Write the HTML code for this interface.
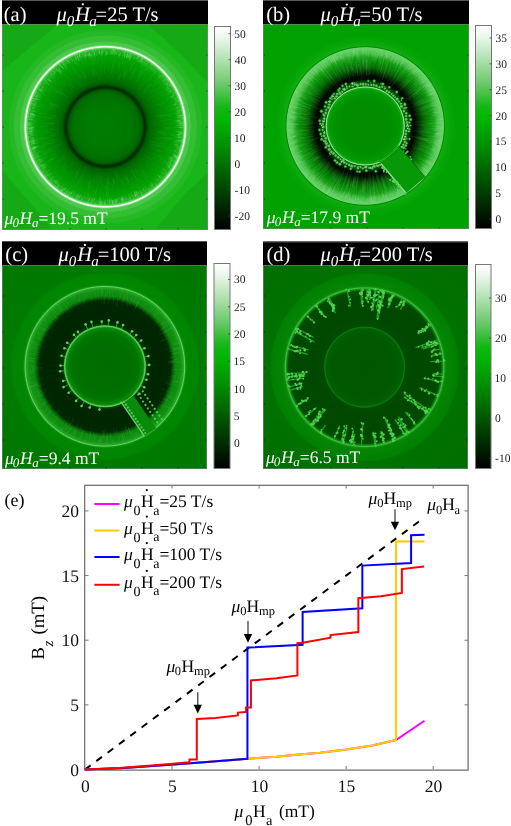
<!DOCTYPE html><html><head><meta charset="utf-8"><style>html,body{margin:0;padding:0;background:#fff;}body{width:511px;height:826px;position:relative;overflow:hidden;font-family:"Liberation Serif",serif;}</style></head><body><div style="position:absolute;left:0;top:0;width:511px;height:826px;will-change:transform;background:#fff">
<svg width="511" height="826" viewBox="0 0 511 826" style="position:absolute;left:0;top:0;font-family:'Liberation Serif',serif;text-rendering:geometricPrecision">
<defs>
<linearGradient id="cm" x1="0" y1="0" x2="0" y2="1"><stop offset="0" stop-color="#fff"/><stop offset="0.05" stop-color="#eef8ee"/><stop offset="0.16" stop-color="#b4e2b4"/><stop offset="0.29" stop-color="#68c868"/><stop offset="0.40" stop-color="#12b812"/><stop offset="0.46" stop-color="#00b600"/><stop offset="0.60" stop-color="#008c00"/><stop offset="0.80" stop-color="#004600"/><stop offset="1" stop-color="#000"/></linearGradient>
<clipPath id="clipa"><rect x="2" y="24" width="206" height="206"/></clipPath>
<radialGradient id="rga" gradientUnits="userSpaceOnUse" cx="105.4" cy="126.8" r="150"><stop offset="0.0000" stop-color="#007e00"/><stop offset="0.1667" stop-color="#007800"/><stop offset="0.2200" stop-color="#006e00"/><stop offset="0.2433" stop-color="#005f00"/><stop offset="0.2573" stop-color="#003700"/><stop offset="0.2640" stop-color="#002800"/><stop offset="0.2707" stop-color="#003a00"/><stop offset="0.2867" stop-color="#005f00"/><stop offset="0.3133" stop-color="#007000"/><stop offset="0.3467" stop-color="#007d00"/><stop offset="0.3867" stop-color="#008b00"/><stop offset="0.4333" stop-color="#009700"/><stop offset="0.4800" stop-color="#05a405"/><stop offset="0.5133" stop-color="#1cb21c"/><stop offset="0.5253" stop-color="#6ed76e"/><stop offset="0.5307" stop-color="#e4fce4"/><stop offset="0.5360" stop-color="#e4fce4"/><stop offset="0.5420" stop-color="#78d778"/><stop offset="0.5473" stop-color="#4bc84b"/><stop offset="0.5667" stop-color="#4bc84b"/><stop offset="0.5700" stop-color="#34be34"/><stop offset="0.6067" stop-color="#34be34"/><stop offset="0.6100" stop-color="#26b926"/><stop offset="0.6400" stop-color="#24b824"/><stop offset="0.6467" stop-color="#18b618"/><stop offset="1.0000" stop-color="#16b416"/></radialGradient>
<clipPath id="clipb"><rect x="263" y="24" width="206" height="205"/></clipPath>
<radialGradient id="rgb" gradientUnits="userSpaceOnUse" cx="365.2" cy="126" r="150"><stop offset="0.0000" stop-color="#008c00"/><stop offset="0.1867" stop-color="#008f00"/><stop offset="0.2400" stop-color="#009b00"/><stop offset="0.2553" stop-color="#19af19"/><stop offset="0.2600" stop-color="#6ed76e"/><stop offset="0.2653" stop-color="#0a780a"/><stop offset="0.2733" stop-color="#005f00"/><stop offset="0.2967" stop-color="#004600"/><stop offset="0.3100" stop-color="#000c00"/><stop offset="0.3333" stop-color="#000800"/><stop offset="0.3533" stop-color="#002800"/><stop offset="0.3867" stop-color="#005f00"/><stop offset="0.4267" stop-color="#008700"/><stop offset="0.4600" stop-color="#14a014"/><stop offset="0.4867" stop-color="#46be46"/><stop offset="0.5067" stop-color="#5fcd5f"/><stop offset="0.5220" stop-color="#69d469"/><stop offset="0.5280" stop-color="#058705"/><stop offset="0.5353" stop-color="#0fac0f"/><stop offset="0.5600" stop-color="#08a608"/><stop offset="0.6000" stop-color="#00a200"/><stop offset="1.0000" stop-color="#00a000"/></radialGradient>
<clipPath id="clipc"><rect x="2" y="265" width="205" height="204"/></clipPath>
<radialGradient id="rgc" gradientUnits="userSpaceOnUse" cx="104.9" cy="366.3" r="150"><stop offset="0.0000" stop-color="#006c00"/><stop offset="0.1667" stop-color="#006f00"/><stop offset="0.2267" stop-color="#007500"/><stop offset="0.2567" stop-color="#0a8a0a"/><stop offset="0.2687" stop-color="#46c846"/><stop offset="0.2767" stop-color="#004600"/><stop offset="0.2867" stop-color="#002a00"/><stop offset="0.3333" stop-color="#002600"/><stop offset="0.4000" stop-color="#002600"/><stop offset="0.4400" stop-color="#002a00"/><stop offset="0.4567" stop-color="#056405"/><stop offset="0.4700" stop-color="#0c870c"/><stop offset="0.5067" stop-color="#129112"/><stop offset="0.5253" stop-color="#28aa28"/><stop offset="0.5320" stop-color="#5fd45f"/><stop offset="0.5387" stop-color="#149614"/><stop offset="0.5467" stop-color="#038703"/><stop offset="0.6133" stop-color="#008500"/><stop offset="0.6333" stop-color="#007a00"/><stop offset="1.0000" stop-color="#007600"/></radialGradient>
<clipPath id="clipd"><rect x="263" y="265" width="205" height="204"/></clipPath>
<radialGradient id="rgd" gradientUnits="userSpaceOnUse" cx="364.6" cy="367.2" r="150"><stop offset="0.0000" stop-color="#005600"/><stop offset="0.2000" stop-color="#005800"/><stop offset="0.2533" stop-color="#005e00"/><stop offset="0.2667" stop-color="#056c05"/><stop offset="0.2733" stop-color="#004c00"/><stop offset="0.3333" stop-color="#004800"/><stop offset="0.4667" stop-color="#004800"/><stop offset="0.5067" stop-color="#004c00"/><stop offset="0.5200" stop-color="#148714"/><stop offset="0.5280" stop-color="#3cc33c"/><stop offset="0.5367" stop-color="#0f910f"/><stop offset="0.5467" stop-color="#058405"/><stop offset="0.6200" stop-color="#008000"/><stop offset="0.6333" stop-color="#007200"/><stop offset="1.0000" stop-color="#006d00"/></radialGradient>
</defs>
<rect x="2" y="0" width="206" height="24" fill="#000"/>
<rect x="2" y="0" width="206" height="1" fill="#555"/>
<g clip-path="url(#clipa)">
<rect x="2" y="24" width="206" height="206" fill="url(#rga)"/>
<polygon points="2,24 58,24 2,71" fill="#15aa15"/>
<path d="M147.8,24 L208,24 L208,83 Q184,56 147.8,24 Z" fill="#15aa15"/>
<polygon points="155,230 208,230 208,172.8 185.5,193.2" fill="#15aa15"/>
<polygon points="2,169.8 2,230 53,230" fill="#15aa15"/>
<g stroke="#e8ffe8" stroke-opacity="0.22" stroke-width="0.5"><line x1="31.9" y1="149.5" x2="36.4" y2="148.1"/><line x1="30.5" y1="143.2" x2="34.0" y2="142.5"/><line x1="136.0" y1="197.1" x2="134.5" y2="193.7"/><line x1="125.3" y1="55.0" x2="124.6" y2="57.5"/><line x1="171.3" y1="169.0" x2="168.0" y2="166.9"/><line x1="181.9" y1="147.4" x2="177.2" y2="146.1"/><line x1="61.5" y1="63.2" x2="62.7" y2="64.9"/><line x1="181.9" y1="134.0" x2="180.2" y2="133.9"/><line x1="133.0" y1="196.8" x2="132.4" y2="195.3"/><line x1="31.0" y1="144.0" x2="35.4" y2="143.0"/><line x1="28.6" y1="117.5" x2="31.8" y2="117.9"/><line x1="65.4" y1="61.7" x2="66.7" y2="63.8"/><line x1="184.7" y1="125.6" x2="180.2" y2="125.7"/><line x1="85.6" y1="53.8" x2="86.2" y2="56.0"/><line x1="87.3" y1="198.9" x2="88.4" y2="194.9"/><line x1="41.8" y1="172.8" x2="44.1" y2="171.1"/><line x1="181.2" y1="106.3" x2="179.7" y2="106.7"/><line x1="125.1" y1="203.1" x2="124.4" y2="200.1"/><line x1="180.9" y1="117.4" x2="179.2" y2="117.6"/><line x1="51.7" y1="70.0" x2="53.4" y2="71.8"/><line x1="170.1" y1="166.2" x2="165.9" y2="163.7"/><line x1="109.2" y1="52.3" x2="109.0" y2="54.6"/><line x1="165.2" y1="170.9" x2="161.8" y2="168.3"/><line x1="139.2" y1="196.0" x2="137.8" y2="193.2"/><line x1="133.8" y1="199.3" x2="133.0" y2="197.5"/><line x1="59.2" y1="68.2" x2="61.0" y2="70.5"/><line x1="122.8" y1="200.2" x2="121.7" y2="195.4"/><line x1="130.3" y1="55.4" x2="128.8" y2="59.7"/><line x1="124.0" y1="200.6" x2="122.9" y2="196.2"/><line x1="58.6" y1="68.8" x2="61.7" y2="72.7"/><line x1="122.7" y1="200.2" x2="121.7" y2="196.1"/><line x1="69.4" y1="193.3" x2="70.3" y2="191.7"/><line x1="170.5" y1="168.2" x2="168.5" y2="166.9"/><line x1="44.3" y1="81.7" x2="46.8" y2="83.5"/><line x1="179.5" y1="107.4" x2="176.1" y2="108.2"/><line x1="155.5" y1="71.0" x2="154.2" y2="72.6"/><line x1="171.1" y1="84.2" x2="169.1" y2="85.5"/><line x1="134.2" y1="199.2" x2="132.4" y2="194.8"/><line x1="131.4" y1="201.4" x2="129.9" y2="197.1"/><line x1="44.7" y1="80.6" x2="46.2" y2="81.8"/><line x1="182.2" y1="145.8" x2="179.9" y2="145.3"/><line x1="84.2" y1="54.5" x2="85.4" y2="58.7"/><line x1="43.3" y1="83.8" x2="45.0" y2="85.0"/><line x1="91.6" y1="53.7" x2="92.1" y2="56.0"/><line x1="32.3" y1="98.2" x2="35.7" y2="99.5"/><line x1="90.5" y1="204.2" x2="90.9" y2="202.1"/><line x1="180.4" y1="134.6" x2="177.4" y2="134.3"/><line x1="175.0" y1="154.6" x2="172.4" y2="153.5"/><line x1="38.3" y1="94.1" x2="40.7" y2="95.3"/><line x1="166.7" y1="76.7" x2="163.8" y2="79.1"/><line x1="77.6" y1="54.9" x2="78.3" y2="56.8"/><line x1="177.7" y1="143.0" x2="173.1" y2="142.0"/><line x1="81.4" y1="51.4" x2="81.9" y2="52.9"/><line x1="55.2" y1="69.0" x2="57.9" y2="72.1"/><line x1="72.1" y1="198.8" x2="72.9" y2="197.2"/><line x1="30.7" y1="104.6" x2="35.2" y2="105.9"/><line x1="99.1" y1="49.3" x2="99.4" y2="53.6"/><line x1="170.7" y1="88.2" x2="167.3" y2="90.2"/><line x1="169.2" y1="80.9" x2="166.8" y2="82.7"/><line x1="125.2" y1="50.8" x2="124.3" y2="54.1"/><line x1="51.6" y1="73.1" x2="54.1" y2="75.6"/><line x1="47.7" y1="79.8" x2="50.6" y2="82.1"/><line x1="184.0" y1="123.5" x2="179.9" y2="123.7"/><line x1="45.9" y1="177.0" x2="48.6" y2="174.8"/><line x1="32.4" y1="155.4" x2="34.0" y2="154.8"/><line x1="105.5" y1="52.6" x2="105.5" y2="56.2"/><line x1="30.7" y1="135.8" x2="34.6" y2="135.3"/><line x1="28.2" y1="128.1" x2="32.9" y2="128.1"/><line x1="102.7" y1="200.8" x2="102.8" y2="198.3"/><line x1="72.6" y1="59.3" x2="73.6" y2="61.1"/><line x1="169.7" y1="83.5" x2="167.2" y2="85.2"/><line x1="164.3" y1="79.2" x2="161.3" y2="81.6"/><line x1="129.7" y1="199.1" x2="128.3" y2="195.0"/><line x1="172.9" y1="86.4" x2="170.5" y2="87.9"/><line x1="39.8" y1="89.1" x2="41.5" y2="90.0"/><line x1="27.0" y1="128.5" x2="31.5" y2="128.4"/><line x1="86.3" y1="50.1" x2="86.9" y2="52.5"/><line x1="142.6" y1="193.5" x2="141.4" y2="191.4"/><line x1="122.5" y1="201.1" x2="121.6" y2="197.5"/><line x1="29.8" y1="129.7" x2="34.2" y2="129.5"/><line x1="181.3" y1="118.2" x2="179.6" y2="118.4"/><line x1="182.5" y1="142.3" x2="180.9" y2="141.9"/><line x1="85.6" y1="52.4" x2="86.3" y2="54.9"/><line x1="124.5" y1="55.2" x2="124.0" y2="57.1"/><line x1="34.2" y1="147.6" x2="38.5" y2="146.3"/><line x1="111.3" y1="201.3" x2="111.2" y2="199.7"/><line x1="52.8" y1="71.4" x2="55.4" y2="74.1"/><line x1="61.4" y1="62.0" x2="64.1" y2="66.1"/><line x1="75.4" y1="58.0" x2="76.6" y2="60.9"/><line x1="137.5" y1="193.5" x2="136.1" y2="190.7"/><line x1="88.7" y1="53.7" x2="89.2" y2="56.1"/><line x1="61.4" y1="190.9" x2="63.3" y2="188.1"/><line x1="46.7" y1="75.4" x2="48.9" y2="77.3"/><line x1="125.9" y1="50.7" x2="125.5" y2="52.5"/><line x1="176.4" y1="94.8" x2="174.6" y2="95.6"/><line x1="31.4" y1="149.1" x2="35.8" y2="147.7"/><line x1="50.3" y1="180.6" x2="53.6" y2="177.4"/><line x1="128.3" y1="51.2" x2="127.4" y2="54.2"/><line x1="61.8" y1="65.7" x2="64.1" y2="69.0"/><line x1="137.6" y1="56.4" x2="136.0" y2="60.1"/><line x1="123.4" y1="203.5" x2="122.3" y2="198.7"/><line x1="181.5" y1="115.9" x2="177.2" y2="116.5"/><line x1="71.7" y1="198.0" x2="73.6" y2="194.0"/><line x1="62.2" y1="187.4" x2="64.0" y2="185.0"/><line x1="31.2" y1="102.5" x2="34.2" y2="103.5"/><line x1="182.4" y1="140.7" x2="180.7" y2="140.4"/><line x1="128.5" y1="55.5" x2="127.7" y2="58.1"/><line x1="123.0" y1="54.2" x2="122.6" y2="56.1"/><line x1="28.0" y1="118.7" x2="32.4" y2="119.2"/><line x1="76.0" y1="53.5" x2="77.2" y2="56.4"/><line x1="176.1" y1="103.4" x2="173.9" y2="104.1"/><line x1="30.9" y1="114.2" x2="34.9" y2="114.9"/><line x1="56.0" y1="68.0" x2="58.9" y2="71.4"/><line x1="35.1" y1="99.0" x2="37.7" y2="100.0"/><line x1="149.8" y1="61.7" x2="148.5" y2="63.6"/><line x1="152.2" y1="63.0" x2="150.2" y2="65.7"/><line x1="38.1" y1="93.6" x2="41.1" y2="95.1"/><line x1="28.2" y1="125.3" x2="29.8" y2="125.3"/><line x1="180.7" y1="112.1" x2="177.9" y2="112.7"/><line x1="129.7" y1="53.7" x2="128.7" y2="56.8"/><line x1="78.5" y1="57.5" x2="79.7" y2="60.7"/><line x1="37.7" y1="167.6" x2="41.7" y2="165.1"/><line x1="96.2" y1="202.8" x2="96.4" y2="200.8"/><line x1="33.8" y1="158.5" x2="38.0" y2="156.6"/><line x1="30.5" y1="137.9" x2="32.7" y2="137.6"/><line x1="47.2" y1="73.6" x2="48.6" y2="74.9"/><line x1="119.0" y1="53.9" x2="118.6" y2="56.1"/><line x1="116.5" y1="203.7" x2="116.1" y2="201.0"/><line x1="57.9" y1="187.8" x2="59.0" y2="186.3"/><line x1="96.5" y1="52.7" x2="96.9" y2="55.9"/><line x1="105.1" y1="201.8" x2="105.2" y2="198.5"/><line x1="35.3" y1="156.2" x2="38.0" y2="155.1"/><line x1="31.8" y1="113.1" x2="34.0" y2="113.5"/><line x1="52.9" y1="70.0" x2="55.2" y2="72.4"/><line x1="151.3" y1="64.7" x2="148.6" y2="68.3"/><line x1="113.9" y1="204.3" x2="113.4" y2="200.0"/><line x1="167.4" y1="83.4" x2="165.2" y2="84.9"/><line x1="171.9" y1="91.7" x2="167.5" y2="94.1"/><line x1="162.2" y1="78.3" x2="160.4" y2="79.8"/><line x1="94.3" y1="52.2" x2="94.6" y2="54.1"/><line x1="143.0" y1="60.5" x2="140.9" y2="64.2"/><line x1="158.9" y1="181.0" x2="156.2" y2="178.2"/><line x1="180.0" y1="135.2" x2="176.1" y2="134.7"/><line x1="172.6" y1="85.0" x2="171.0" y2="86.0"/><line x1="27.4" y1="124.0" x2="30.7" y2="124.1"/><line x1="75.9" y1="57.8" x2="76.6" y2="59.4"/><line x1="163.7" y1="172.7" x2="161.0" y2="170.6"/><line x1="28.7" y1="119.6" x2="30.7" y2="119.8"/><line x1="135.4" y1="195.6" x2="133.6" y2="191.5"/><line x1="184.2" y1="122.0" x2="182.3" y2="122.1"/><line x1="178.5" y1="156.8" x2="175.6" y2="155.6"/><line x1="112.4" y1="51.4" x2="112.1" y2="54.5"/><line x1="29.5" y1="119.5" x2="33.1" y2="119.8"/><line x1="182.8" y1="133.3" x2="178.4" y2="132.9"/><line x1="137.4" y1="196.2" x2="135.7" y2="192.5"/><line x1="43.3" y1="168.9" x2="45.0" y2="167.7"/><line x1="31.5" y1="121.0" x2="36.2" y2="121.3"/><line x1="130.2" y1="53.1" x2="128.8" y2="57.4"/><line x1="53.1" y1="71.5" x2="55.5" y2="74.1"/><line x1="26.2" y1="124.7" x2="30.5" y2="124.8"/><line x1="101.3" y1="205.5" x2="101.5" y2="201.4"/><line x1="119.1" y1="49.7" x2="118.6" y2="52.6"/><line x1="168.0" y1="79.2" x2="164.9" y2="81.6"/><line x1="113.9" y1="49.2" x2="113.5" y2="52.1"/><line x1="92.7" y1="53.5" x2="93.1" y2="56.2"/><line x1="32.8" y1="141.2" x2="35.5" y2="140.7"/><line x1="55.6" y1="67.6" x2="57.1" y2="69.4"/><line x1="178.3" y1="100.4" x2="175.8" y2="101.3"/><line x1="64.0" y1="61.8" x2="65.8" y2="64.7"/><line x1="44.4" y1="177.5" x2="47.3" y2="175.1"/><line x1="81.9" y1="52.4" x2="83.4" y2="57.1"/><line x1="181.9" y1="137.8" x2="177.8" y2="137.3"/><line x1="102.2" y1="202.9" x2="102.3" y2="201.2"/><line x1="130.9" y1="198.4" x2="130.3" y2="196.6"/><line x1="105.0" y1="205.6" x2="105.0" y2="202.2"/><line x1="26.4" y1="122.9" x2="29.9" y2="123.1"/><line x1="182.7" y1="124.4" x2="178.4" y2="124.6"/><line x1="173.9" y1="162.3" x2="170.2" y2="160.4"/><line x1="181.2" y1="148.9" x2="179.2" y2="148.3"/><line x1="31.7" y1="140.0" x2="34.9" y2="139.4"/><line x1="48.5" y1="79.0" x2="52.2" y2="82.1"/><line x1="37.9" y1="163.5" x2="41.1" y2="161.8"/><line x1="55.3" y1="183.3" x2="57.8" y2="180.4"/><line x1="35.3" y1="98.7" x2="39.0" y2="100.2"/><line x1="84.3" y1="197.8" x2="84.9" y2="195.5"/><line x1="177.5" y1="146.7" x2="173.6" y2="145.6"/><line x1="44.7" y1="177.0" x2="47.9" y2="174.4"/><line x1="180.7" y1="151.4" x2="176.2" y2="149.9"/><line x1="175.9" y1="161.9" x2="173.3" y2="160.6"/><line x1="27.0" y1="137.9" x2="29.4" y2="137.6"/><line x1="27.3" y1="115.3" x2="31.3" y2="115.8"/><line x1="27.8" y1="142.4" x2="32.0" y2="141.6"/><line x1="46.1" y1="81.6" x2="49.0" y2="83.8"/><line x1="33.2" y1="147.4" x2="34.8" y2="147.0"/><line x1="31.9" y1="113.7" x2="34.9" y2="114.2"/><line x1="67.7" y1="60.3" x2="68.9" y2="62.4"/><line x1="39.1" y1="89.1" x2="42.8" y2="91.2"/><line x1="27.6" y1="111.6" x2="32.3" y2="112.5"/><line x1="98.0" y1="51.9" x2="98.2" y2="53.8"/><line x1="166.5" y1="78.0" x2="163.6" y2="80.3"/><line x1="57.6" y1="185.2" x2="60.1" y2="182.2"/><line x1="34.6" y1="96.2" x2="38.0" y2="97.7"/><line x1="107.0" y1="51.8" x2="106.9" y2="54.2"/><line x1="183.6" y1="116.8" x2="179.1" y2="117.4"/><line x1="177.4" y1="145.1" x2="175.1" y2="144.5"/><line x1="36.5" y1="161.8" x2="38.1" y2="161.0"/><line x1="33.5" y1="107.6" x2="35.3" y2="108.0"/><line x1="71.0" y1="58.0" x2="72.7" y2="61.3"/><line x1="51.9" y1="181.5" x2="53.5" y2="179.9"/><line x1="62.1" y1="191.6" x2="64.6" y2="187.9"/><line x1="172.0" y1="160.4" x2="168.2" y2="158.5"/><line x1="49.8" y1="72.0" x2="51.4" y2="73.6"/><line x1="38.4" y1="161.3" x2="42.2" y2="159.3"/><line x1="52.7" y1="183.6" x2="56.1" y2="180.0"/><line x1="70.3" y1="195.2" x2="72.2" y2="191.6"/><line x1="172.4" y1="90.4" x2="170.0" y2="91.7"/><line x1="169.9" y1="171.8" x2="168.4" y2="170.8"/><line x1="172.2" y1="165.2" x2="169.4" y2="163.6"/><line x1="75.5" y1="57.4" x2="77.2" y2="61.2"/><line x1="172.1" y1="161.4" x2="168.7" y2="159.6"/><line x1="171.3" y1="163.9" x2="167.7" y2="162.0"/><line x1="79.4" y1="55.9" x2="80.1" y2="57.8"/><line x1="56.6" y1="187.5" x2="58.4" y2="185.3"/><line x1="163.0" y1="179.1" x2="160.4" y2="176.7"/><line x1="174.3" y1="88.1" x2="170.2" y2="90.4"/><line x1="33.0" y1="156.5" x2="35.4" y2="155.5"/><line x1="74.0" y1="196.2" x2="76.0" y2="191.8"/><line x1="164.8" y1="80.5" x2="162.6" y2="82.2"/><line x1="55.0" y1="183.6" x2="56.9" y2="181.4"/><line x1="48.3" y1="175.5" x2="51.0" y2="173.2"/><line x1="127.8" y1="53.3" x2="126.5" y2="57.5"/><line x1="36.2" y1="98.0" x2="40.1" y2="99.6"/><line x1="160.7" y1="75.4" x2="159.6" y2="76.5"/><line x1="28.9" y1="119.3" x2="32.4" y2="119.6"/><line x1="181.1" y1="110.6" x2="176.9" y2="111.5"/><line x1="176.2" y1="156.9" x2="172.2" y2="155.3"/><line x1="169.7" y1="164.3" x2="166.2" y2="162.2"/><line x1="165.4" y1="82.7" x2="162.4" y2="84.9"/><line x1="153.6" y1="188.1" x2="151.3" y2="185.1"/><line x1="107.5" y1="201.9" x2="107.4" y2="197.8"/><line x1="28.1" y1="116.3" x2="30.9" y2="116.7"/><line x1="63.9" y1="194.2" x2="65.9" y2="190.9"/><line x1="28.6" y1="129.9" x2="32.6" y2="129.7"/><line x1="84.9" y1="50.7" x2="85.7" y2="53.5"/><line x1="141.1" y1="58.0" x2="139.1" y2="62.0"/><line x1="132.4" y1="53.2" x2="130.8" y2="57.5"/><line x1="180.1" y1="106.5" x2="176.9" y2="107.4"/><line x1="86.0" y1="51.0" x2="86.7" y2="53.9"/><line x1="39.8" y1="162.6" x2="43.4" y2="160.7"/><line x1="181.3" y1="122.5" x2="179.2" y2="122.6"/><line x1="127.0" y1="199.9" x2="126.3" y2="197.5"/><line x1="178.4" y1="112.8" x2="175.8" y2="113.3"/><line x1="163.5" y1="177.9" x2="160.4" y2="175.2"/><line x1="137.3" y1="193.9" x2="136.0" y2="191.1"/><line x1="37.3" y1="87.1" x2="38.7" y2="87.9"/><line x1="163.6" y1="174.1" x2="161.8" y2="172.7"/><line x1="112.5" y1="204.3" x2="112.2" y2="200.7"/><line x1="117.6" y1="200.8" x2="117.2" y2="198.3"/><line x1="141.9" y1="195.7" x2="140.7" y2="193.5"/><line x1="30.6" y1="103.4" x2="33.7" y2="104.4"/><line x1="100.2" y1="205.3" x2="100.5" y2="200.6"/><line x1="63.4" y1="191.2" x2="66.0" y2="187.1"/><line x1="30.7" y1="135.0" x2="32.3" y2="134.8"/><line x1="179.4" y1="101.5" x2="176.7" y2="102.4"/><line x1="29.8" y1="113.6" x2="32.2" y2="114.0"/><line x1="182.7" y1="122.1" x2="180.4" y2="122.2"/><line x1="181.7" y1="132.0" x2="178.9" y2="131.8"/><line x1="127.9" y1="52.4" x2="126.9" y2="55.8"/><line x1="146.6" y1="189.3" x2="145.1" y2="187.1"/><line x1="100.7" y1="205.3" x2="100.9" y2="202.0"/><line x1="53.7" y1="66.7" x2="55.3" y2="68.5"/><line x1="32.4" y1="110.7" x2="36.5" y2="111.6"/><line x1="183.8" y1="127.5" x2="179.3" y2="127.4"/><line x1="138.0" y1="59.9" x2="136.9" y2="62.1"/><line x1="89.8" y1="53.9" x2="90.5" y2="57.0"/><line x1="27.9" y1="142.3" x2="31.3" y2="141.6"/><line x1="152.6" y1="67.7" x2="150.0" y2="71.1"/><line x1="37.0" y1="166.1" x2="38.6" y2="165.2"/><line x1="140.1" y1="60.2" x2="138.5" y2="63.2"/><line x1="31.5" y1="114.8" x2="35.9" y2="115.5"/><line x1="76.9" y1="196.9" x2="77.6" y2="195.2"/><line x1="79.2" y1="198.6" x2="80.6" y2="194.9"/><line x1="56.0" y1="186.7" x2="57.2" y2="185.3"/><line x1="45.2" y1="173.9" x2="49.1" y2="170.9"/><line x1="142.6" y1="58.9" x2="141.9" y2="60.2"/><line x1="49.7" y1="181.0" x2="51.4" y2="179.4"/><line x1="35.1" y1="96.8" x2="36.5" y2="97.4"/><line x1="183.5" y1="122.7" x2="181.3" y2="122.8"/><line x1="49.1" y1="76.5" x2="51.2" y2="78.3"/><line x1="32.2" y1="108.1" x2="34.8" y2="108.8"/><line x1="45.0" y1="175.4" x2="46.9" y2="173.9"/><line x1="129.5" y1="200.9" x2="128.7" y2="198.3"/><line x1="177.8" y1="100.7" x2="174.0" y2="102.1"/><line x1="66.9" y1="195.1" x2="67.8" y2="193.5"/><line x1="152.6" y1="184.4" x2="150.1" y2="181.5"/><line x1="86.0" y1="54.4" x2="86.7" y2="57.2"/><line x1="145.5" y1="60.9" x2="144.5" y2="62.4"/><line x1="116.4" y1="200.8" x2="116.1" y2="198.9"/><line x1="43.4" y1="167.9" x2="47.3" y2="165.3"/><line x1="36.6" y1="160.8" x2="40.0" y2="159.1"/><line x1="113.7" y1="48.9" x2="113.4" y2="51.7"/><line x1="68.1" y1="193.2" x2="68.9" y2="191.9"/><line x1="42.3" y1="172.2" x2="46.3" y2="169.3"/><line x1="124.5" y1="51.7" x2="123.6" y2="55.2"/><line x1="180.6" y1="135.6" x2="178.0" y2="135.3"/><line x1="61.8" y1="66.3" x2="63.5" y2="68.6"/><line x1="27.4" y1="122.2" x2="31.7" y2="122.5"/><line x1="48.2" y1="78.6" x2="51.4" y2="81.3"/><line x1="168.5" y1="82.8" x2="166.2" y2="84.3"/><line x1="30.6" y1="126.6" x2="34.6" y2="126.6"/><line x1="181.9" y1="120.4" x2="177.9" y2="120.8"/><line x1="143.8" y1="62.3" x2="141.4" y2="66.5"/><line x1="53.0" y1="73.0" x2="54.3" y2="74.3"/><line x1="108.0" y1="203.8" x2="107.9" y2="199.9"/><line x1="67.7" y1="196.2" x2="69.1" y2="193.7"/><line x1="32.7" y1="144.0" x2="37.5" y2="142.9"/><line x1="157.3" y1="186.1" x2="155.0" y2="183.5"/><line x1="34.0" y1="98.1" x2="36.2" y2="99.0"/><line x1="172.1" y1="84.1" x2="168.5" y2="86.4"/><line x1="45.4" y1="82.4" x2="48.9" y2="85.0"/><line x1="86.5" y1="203.3" x2="87.1" y2="201.0"/><line x1="35.2" y1="91.8" x2="37.2" y2="92.8"/><line x1="34.3" y1="104.8" x2="35.9" y2="105.2"/><line x1="139.1" y1="198.5" x2="137.1" y2="194.2"/><line x1="64.2" y1="63.4" x2="66.3" y2="66.6"/><line x1="99.5" y1="51.0" x2="99.8" y2="54.6"/><line x1="130.0" y1="56.9" x2="129.2" y2="59.0"/><line x1="32.1" y1="141.7" x2="34.9" y2="141.1"/><line x1="37.5" y1="95.1" x2="40.5" y2="96.5"/><line x1="98.8" y1="203.5" x2="99.0" y2="200.9"/><line x1="58.7" y1="69.1" x2="61.1" y2="72.1"/><line x1="154.0" y1="189.2" x2="151.8" y2="186.4"/><line x1="30.6" y1="141.1" x2="34.2" y2="140.4"/><line x1="76.4" y1="54.4" x2="77.9" y2="58.2"/><line x1="26.4" y1="133.9" x2="30.9" y2="133.5"/><line x1="152.1" y1="66.6" x2="150.3" y2="69.0"/><line x1="33.3" y1="95.1" x2="36.3" y2="96.4"/><line x1="30.0" y1="114.9" x2="34.7" y2="115.6"/><line x1="73.5" y1="193.9" x2="75.2" y2="190.2"/><line x1="168.4" y1="81.1" x2="165.5" y2="83.2"/><line x1="106.3" y1="51.2" x2="106.3" y2="54.8"/><line x1="173.0" y1="158.5" x2="170.2" y2="157.2"/><line x1="29.3" y1="125.5" x2="31.0" y2="125.6"/><line x1="79.3" y1="54.6" x2="80.1" y2="56.8"/><line x1="79.0" y1="198.2" x2="79.8" y2="196.0"/><line x1="177.1" y1="159.7" x2="172.6" y2="157.6"/><line x1="65.7" y1="59.0" x2="67.2" y2="61.5"/><line x1="131.0" y1="56.1" x2="129.6" y2="60.0"/><line x1="33.5" y1="94.7" x2="35.1" y2="95.4"/><line x1="125.0" y1="54.8" x2="124.1" y2="58.0"/><line x1="175.9" y1="104.4" x2="173.7" y2="105.1"/><line x1="82.3" y1="198.9" x2="82.9" y2="197.3"/><line x1="167.3" y1="78.8" x2="165.0" y2="80.6"/><line x1="57.6" y1="187.3" x2="58.6" y2="186.0"/><line x1="182.7" y1="142.1" x2="180.1" y2="141.6"/><line x1="26.5" y1="127.6" x2="31.4" y2="127.5"/><line x1="31.4" y1="139.6" x2="33.9" y2="139.2"/><line x1="175.0" y1="90.0" x2="173.1" y2="91.0"/><line x1="145.2" y1="62.2" x2="143.6" y2="64.9"/><line x1="142.5" y1="196.2" x2="140.1" y2="191.8"/><line x1="128.4" y1="200.7" x2="127.7" y2="198.6"/><line x1="159.6" y1="76.0" x2="158.2" y2="77.3"/><line x1="93.9" y1="52.0" x2="94.6" y2="56.6"/><line x1="158.5" y1="70.0" x2="157.2" y2="71.4"/><line x1="79.1" y1="52.3" x2="80.1" y2="55.2"/><line x1="171.5" y1="162.6" x2="169.2" y2="161.4"/><line x1="87.0" y1="54.1" x2="87.5" y2="56.1"/><line x1="112.5" y1="204.0" x2="112.1" y2="199.7"/><line x1="51.5" y1="182.5" x2="54.7" y2="179.2"/><line x1="41.9" y1="86.5" x2="44.0" y2="87.9"/><line x1="174.9" y1="92.4" x2="172.7" y2="93.5"/><line x1="57.9" y1="69.4" x2="61.1" y2="73.2"/><line x1="33.9" y1="154.9" x2="37.1" y2="153.7"/><line x1="179.5" y1="148.5" x2="177.1" y2="147.8"/><line x1="105.0" y1="205.1" x2="105.0" y2="203.3"/><line x1="88.3" y1="202.9" x2="88.8" y2="200.6"/><line x1="91.4" y1="202.4" x2="91.8" y2="200.3"/><line x1="168.6" y1="79.0" x2="167.3" y2="80.0"/><line x1="29.7" y1="145.4" x2="32.4" y2="144.7"/><line x1="174.6" y1="93.8" x2="172.7" y2="94.8"/><line x1="32.7" y1="100.1" x2="35.3" y2="101.1"/><line x1="62.8" y1="61.3" x2="64.6" y2="64.1"/><line x1="27.0" y1="124.0" x2="30.9" y2="124.2"/><line x1="27.0" y1="116.6" x2="29.1" y2="116.9"/><line x1="119.3" y1="53.2" x2="118.6" y2="56.8"/><line x1="112.4" y1="202.8" x2="112.0" y2="198.6"/><line x1="123.2" y1="50.7" x2="122.7" y2="52.9"/><line x1="30.4" y1="131.9" x2="33.9" y2="131.7"/><line x1="31.2" y1="127.3" x2="34.8" y2="127.3"/><line x1="88.5" y1="51.6" x2="89.5" y2="56.1"/><line x1="137.2" y1="194.5" x2="136.6" y2="193.1"/><line x1="29.1" y1="128.7" x2="32.2" y2="128.6"/><line x1="99.0" y1="204.8" x2="99.2" y2="203.0"/><line x1="169.7" y1="84.4" x2="166.9" y2="86.3"/><line x1="124.9" y1="54.1" x2="124.3" y2="56.0"/><line x1="77.6" y1="195.6" x2="78.6" y2="193.2"/><line x1="49.8" y1="73.8" x2="51.6" y2="75.5"/><line x1="42.2" y1="87.4" x2="45.9" y2="89.7"/><line x1="141.0" y1="193.2" x2="140.1" y2="191.4"/><line x1="76.8" y1="53.8" x2="78.4" y2="57.7"/><line x1="176.0" y1="155.3" x2="173.5" y2="154.3"/><line x1="122.0" y1="204.2" x2="121.7" y2="202.6"/><line x1="27.5" y1="131.9" x2="32.5" y2="131.6"/><line x1="152.4" y1="187.1" x2="149.9" y2="183.8"/><line x1="178.4" y1="145.2" x2="173.9" y2="144.0"/><line x1="153.3" y1="185.9" x2="151.7" y2="183.9"/><line x1="39.2" y1="160.8" x2="40.7" y2="160.1"/><line x1="183.4" y1="124.9" x2="179.4" y2="125.0"/><line x1="114.9" y1="201.5" x2="114.5" y2="198.1"/><line x1="109.4" y1="203.1" x2="109.1" y2="198.4"/><line x1="55.6" y1="184.0" x2="58.9" y2="180.2"/><line x1="48.5" y1="79.2" x2="50.7" y2="81.0"/><line x1="61.6" y1="66.7" x2="63.2" y2="68.9"/><line x1="78.6" y1="52.9" x2="79.8" y2="56.3"/><line x1="163.2" y1="76.7" x2="161.0" y2="78.6"/><line x1="147.4" y1="63.4" x2="145.0" y2="66.9"/><line x1="121.8" y1="200.9" x2="121.3" y2="198.8"/><line x1="34.1" y1="103.9" x2="36.2" y2="104.5"/><line x1="122.3" y1="201.4" x2="121.8" y2="198.9"/><line x1="30.5" y1="152.7" x2="34.1" y2="151.4"/><line x1="154.2" y1="69.8" x2="152.4" y2="71.9"/><line x1="175.1" y1="161.1" x2="172.6" y2="159.9"/><line x1="94.0" y1="200.0" x2="94.4" y2="197.9"/><line x1="99.5" y1="202.7" x2="99.9" y2="197.9"/><line x1="89.0" y1="53.2" x2="89.6" y2="55.9"/><line x1="150.4" y1="191.7" x2="148.8" y2="189.4"/><line x1="113.1" y1="49.3" x2="112.6" y2="54.0"/><line x1="180.5" y1="136.5" x2="177.7" y2="136.1"/><line x1="173.6" y1="166.1" x2="171.3" y2="164.8"/><line x1="115.4" y1="50.7" x2="115.1" y2="52.4"/><line x1="46.2" y1="173.3" x2="47.5" y2="172.3"/><line x1="150.4" y1="189.5" x2="149.5" y2="188.2"/><line x1="76.3" y1="197.3" x2="77.6" y2="194.1"/><line x1="156.4" y1="185.4" x2="154.9" y2="183.6"/><line x1="93.5" y1="50.2" x2="93.8" y2="52.2"/><line x1="126.5" y1="199.3" x2="125.4" y2="195.4"/><line x1="42.4" y1="169.4" x2="46.2" y2="166.9"/><line x1="116.7" y1="201.5" x2="116.3" y2="198.8"/><line x1="121.2" y1="199.3" x2="120.9" y2="197.8"/><line x1="52.8" y1="70.5" x2="55.8" y2="73.7"/><line x1="180.1" y1="115.3" x2="176.3" y2="115.8"/><line x1="171.0" y1="90.2" x2="167.6" y2="92.1"/><line x1="65.8" y1="58.3" x2="68.1" y2="62.3"/><line x1="112.9" y1="203.8" x2="112.7" y2="202.0"/><line x1="37.0" y1="160.2" x2="38.6" y2="159.4"/><line x1="49.1" y1="177.5" x2="51.5" y2="175.3"/><line x1="91.5" y1="200.3" x2="92.0" y2="197.5"/><line x1="31.4" y1="138.4" x2="35.2" y2="137.8"/><line x1="110.2" y1="201.1" x2="110.0" y2="198.4"/><line x1="39.3" y1="161.9" x2="42.5" y2="160.2"/><line x1="82.3" y1="53.4" x2="83.4" y2="57.2"/><line x1="180.7" y1="137.8" x2="177.9" y2="137.4"/><line x1="175.7" y1="156.1" x2="174.1" y2="155.5"/><line x1="28.3" y1="129.0" x2="31.5" y2="128.9"/><line x1="71.0" y1="193.8" x2="71.7" y2="192.4"/><line x1="60.3" y1="191.3" x2="62.3" y2="188.5"/><line x1="99.6" y1="204.1" x2="99.8" y2="202.0"/><line x1="29.6" y1="141.6" x2="34.3" y2="140.7"/><line x1="55.3" y1="185.4" x2="58.4" y2="181.7"/><line x1="115.8" y1="50.2" x2="115.3" y2="53.8"/><line x1="40.8" y1="167.2" x2="42.9" y2="165.9"/><line x1="143.1" y1="57.8" x2="141.8" y2="60.3"/><line x1="168.0" y1="86.9" x2="166.3" y2="88.0"/><line x1="29.8" y1="123.4" x2="32.6" y2="123.6"/><line x1="179.4" y1="116.0" x2="177.3" y2="116.3"/><line x1="115.9" y1="203.7" x2="115.5" y2="201.4"/><line x1="182.3" y1="127.2" x2="179.4" y2="127.2"/><line x1="110.5" y1="203.2" x2="110.3" y2="199.5"/><line x1="31.6" y1="103.8" x2="34.9" y2="104.8"/><line x1="144.0" y1="57.7" x2="142.7" y2="60.0"/><line x1="60.5" y1="191.4" x2="62.0" y2="189.3"/><line x1="88.9" y1="50.9" x2="89.7" y2="54.7"/><line x1="181.8" y1="109.2" x2="179.8" y2="109.6"/><line x1="50.1" y1="73.8" x2="52.6" y2="76.2"/><line x1="53.9" y1="182.0" x2="56.7" y2="179.0"/><line x1="31.9" y1="110.9" x2="34.2" y2="111.4"/><line x1="71.4" y1="193.6" x2="72.9" y2="190.6"/><line x1="157.6" y1="179.7" x2="156.4" y2="178.5"/><line x1="167.6" y1="173.4" x2="166.1" y2="172.2"/><line x1="30.9" y1="150.2" x2="33.9" y2="149.2"/><line x1="146.4" y1="193.8" x2="144.1" y2="190.0"/><line x1="176.5" y1="151.6" x2="173.4" y2="150.5"/><line x1="127.3" y1="53.9" x2="126.1" y2="57.8"/><line x1="104.5" y1="204.6" x2="104.5" y2="201.9"/><line x1="66.2" y1="194.2" x2="68.4" y2="190.4"/><line x1="141.9" y1="59.0" x2="140.5" y2="61.6"/><line x1="84.7" y1="52.3" x2="85.9" y2="56.6"/><line x1="129.0" y1="56.0" x2="128.1" y2="58.6"/><line x1="68.9" y1="61.0" x2="69.9" y2="62.9"/><line x1="182.2" y1="133.4" x2="177.4" y2="133.0"/><line x1="178.8" y1="113.0" x2="175.0" y2="113.7"/><line x1="37.8" y1="164.4" x2="40.3" y2="163.0"/><line x1="177.8" y1="94.6" x2="176.3" y2="95.3"/><line x1="88.3" y1="54.2" x2="88.7" y2="55.8"/><line x1="87.9" y1="202.7" x2="89.0" y2="197.8"/><line x1="160.6" y1="178.7" x2="159.4" y2="177.6"/><line x1="31.6" y1="106.6" x2="34.3" y2="107.3"/><line x1="77.0" y1="199.7" x2="78.6" y2="195.6"/><line x1="89.4" y1="201.2" x2="90.2" y2="197.6"/><line x1="113.0" y1="48.0" x2="112.8" y2="50.8"/><line x1="78.9" y1="54.6" x2="80.4" y2="58.6"/><line x1="150.6" y1="186.5" x2="149.5" y2="185.1"/><line x1="174.3" y1="96.3" x2="171.3" y2="97.6"/><line x1="160.5" y1="178.8" x2="159.3" y2="177.7"/><line x1="37.0" y1="96.7" x2="40.3" y2="98.2"/><line x1="94.1" y1="201.2" x2="94.6" y2="198.0"/><line x1="55.3" y1="183.1" x2="56.4" y2="181.8"/><line x1="177.8" y1="157.8" x2="175.4" y2="156.8"/><line x1="171.4" y1="162.3" x2="168.6" y2="160.8"/><line x1="180.5" y1="125.5" x2="175.9" y2="125.5"/><line x1="29.6" y1="134.3" x2="33.9" y2="133.9"/><line x1="46.4" y1="172.0" x2="49.1" y2="169.9"/><line x1="62.7" y1="62.4" x2="64.1" y2="64.4"/><line x1="178.3" y1="97.4" x2="173.6" y2="99.2"/><line x1="31.9" y1="154.2" x2="35.7" y2="152.8"/><line x1="138.7" y1="193.0" x2="137.8" y2="191.2"/><line x1="160.0" y1="177.3" x2="158.0" y2="175.4"/><line x1="107.1" y1="51.2" x2="107.0" y2="54.5"/><line x1="180.4" y1="131.7" x2="175.5" y2="131.4"/><line x1="182.0" y1="132.1" x2="177.7" y2="131.8"/><line x1="125.9" y1="51.6" x2="125.1" y2="54.4"/><line x1="131.1" y1="52.7" x2="129.7" y2="56.7"/><line x1="179.6" y1="120.2" x2="174.8" y2="120.7"/><line x1="41.9" y1="171.6" x2="43.8" y2="170.2"/><line x1="167.9" y1="86.9" x2="164.9" y2="88.8"/><line x1="116.2" y1="202.1" x2="115.8" y2="199.3"/><line x1="62.2" y1="61.5" x2="63.7" y2="63.8"/><line x1="56.3" y1="68.9" x2="57.9" y2="70.8"/><line x1="168.1" y1="84.3" x2="166.5" y2="85.3"/><line x1="65.8" y1="193.9" x2="67.0" y2="192.0"/><line x1="102.1" y1="50.0" x2="102.3" y2="53.9"/><line x1="138.3" y1="193.7" x2="137.4" y2="191.9"/><line x1="60.4" y1="188.4" x2="61.3" y2="187.2"/><line x1="29.3" y1="125.6" x2="31.9" y2="125.6"/><line x1="28.5" y1="108.5" x2="30.7" y2="109.0"/><line x1="160.7" y1="75.1" x2="157.7" y2="78.0"/><line x1="167.0" y1="176.7" x2="164.6" y2="174.8"/><line x1="178.5" y1="109.3" x2="175.7" y2="110.0"/><line x1="85.0" y1="54.7" x2="85.6" y2="57.1"/><line x1="70.5" y1="55.9" x2="71.7" y2="58.3"/><line x1="136.2" y1="196.2" x2="134.2" y2="191.6"/><line x1="151.6" y1="188.8" x2="149.9" y2="186.6"/><line x1="58.9" y1="67.8" x2="61.2" y2="70.6"/><line x1="165.2" y1="75.8" x2="162.3" y2="78.2"/><line x1="28.4" y1="124.5" x2="30.3" y2="124.5"/><line x1="146.0" y1="60.6" x2="144.4" y2="63.2"/><line x1="66.8" y1="61.1" x2="68.2" y2="63.5"/><line x1="115.1" y1="203.4" x2="114.6" y2="199.9"/><line x1="31.6" y1="119.7" x2="35.2" y2="120.1"/><line x1="32.5" y1="152.1" x2="35.9" y2="150.9"/><line x1="173.4" y1="95.6" x2="170.5" y2="96.9"/><line x1="183.2" y1="123.3" x2="180.6" y2="123.4"/><line x1="98.8" y1="47.8" x2="99.1" y2="50.7"/><line x1="155.6" y1="71.6" x2="152.3" y2="75.2"/><line x1="30.3" y1="131.0" x2="34.7" y2="130.8"/><line x1="58.7" y1="63.1" x2="61.3" y2="66.7"/><line x1="128.0" y1="53.5" x2="126.6" y2="58.3"/><line x1="177.6" y1="157.9" x2="173.9" y2="156.4"/><line x1="105.1" y1="205.1" x2="105.1" y2="202.0"/><line x1="28.9" y1="109.0" x2="31.0" y2="109.5"/><line x1="91.1" y1="202.9" x2="91.4" y2="201.1"/><line x1="31.8" y1="100.3" x2="34.9" y2="101.4"/><line x1="109.4" y1="204.9" x2="109.2" y2="200.4"/><line x1="115.4" y1="50.5" x2="114.8" y2="55.2"/><line x1="127.1" y1="55.2" x2="126.3" y2="57.9"/><line x1="165.3" y1="170.5" x2="163.1" y2="168.9"/><line x1="157.2" y1="67.9" x2="155.9" y2="69.4"/><line x1="137.0" y1="196.0" x2="135.2" y2="191.9"/><line x1="47.0" y1="73.9" x2="48.3" y2="75.1"/><line x1="180.3" y1="121.1" x2="176.6" y2="121.4"/><line x1="161.0" y1="72.3" x2="159.4" y2="73.8"/><line x1="68.0" y1="60.3" x2="68.7" y2="61.7"/><line x1="65.0" y1="190.8" x2="67.0" y2="187.7"/><line x1="91.6" y1="202.8" x2="92.3" y2="198.9"/><line x1="136.9" y1="194.5" x2="135.3" y2="190.9"/><line x1="32.4" y1="142.4" x2="34.2" y2="142.0"/><line x1="177.4" y1="98.8" x2="174.8" y2="99.8"/><line x1="131.7" y1="201.6" x2="130.4" y2="197.9"/><line x1="98.9" y1="51.2" x2="99.1" y2="53.7"/><line x1="42.7" y1="167.6" x2="45.8" y2="165.5"/><line x1="35.7" y1="162.5" x2="38.3" y2="161.2"/><line x1="31.5" y1="147.4" x2="36.1" y2="146.1"/><line x1="61.2" y1="190.7" x2="62.5" y2="188.8"/><line x1="39.1" y1="90.7" x2="43.1" y2="92.9"/><line x1="87.6" y1="203.3" x2="88.4" y2="199.5"/><line x1="29.6" y1="148.9" x2="32.3" y2="148.1"/><line x1="102.1" y1="49.7" x2="102.3" y2="52.7"/><line x1="175.5" y1="156.7" x2="173.2" y2="155.7"/><line x1="31.7" y1="155.5" x2="34.1" y2="154.6"/><line x1="79.1" y1="53.8" x2="79.9" y2="56.1"/><line x1="41.9" y1="166.2" x2="45.9" y2="163.8"/><line x1="104.6" y1="203.0" x2="104.6" y2="200.3"/><line x1="139.1" y1="55.9" x2="137.5" y2="59.1"/><line x1="34.0" y1="105.6" x2="38.4" y2="106.9"/><line x1="169.9" y1="166.8" x2="167.5" y2="165.3"/><line x1="92.3" y1="50.4" x2="92.8" y2="53.0"/><line x1="168.7" y1="79.5" x2="167.5" y2="80.5"/><line x1="54.1" y1="70.1" x2="56.0" y2="72.1"/><line x1="31.6" y1="143.4" x2="35.3" y2="142.5"/><line x1="43.0" y1="78.1" x2="46.9" y2="81.1"/><line x1="181.4" y1="123.3" x2="177.0" y2="123.5"/><line x1="59.7" y1="63.9" x2="62.6" y2="68.0"/><line x1="175.3" y1="157.8" x2="172.6" y2="156.7"/><line x1="63.6" y1="64.4" x2="66.3" y2="68.5"/><line x1="124.6" y1="200.3" x2="124.1" y2="198.4"/><line x1="43.9" y1="174.7" x2="45.3" y2="173.6"/><line x1="144.0" y1="193.9" x2="142.2" y2="190.7"/><line x1="101.6" y1="51.6" x2="101.8" y2="55.9"/><line x1="96.0" y1="49.3" x2="96.3" y2="51.2"/><line x1="32.7" y1="141.3" x2="37.2" y2="140.4"/><line x1="179.4" y1="99.9" x2="177.9" y2="100.5"/><line x1="59.8" y1="188.6" x2="61.8" y2="185.9"/><line x1="165.3" y1="177.1" x2="163.3" y2="175.5"/><line x1="30.8" y1="123.4" x2="34.3" y2="123.5"/><line x1="156.5" y1="181.0" x2="154.2" y2="178.6"/><line x1="84.1" y1="202.0" x2="84.7" y2="199.7"/><line x1="41.7" y1="165.0" x2="43.7" y2="163.9"/><line x1="32.0" y1="149.8" x2="34.9" y2="148.9"/><line x1="149.5" y1="66.7" x2="146.9" y2="70.3"/><line x1="149.9" y1="192.2" x2="148.1" y2="189.5"/><line x1="41.1" y1="169.6" x2="44.9" y2="167.1"/><line x1="179.6" y1="109.6" x2="178.1" y2="110.0"/><line x1="149.9" y1="191.2" x2="147.6" y2="187.9"/><line x1="88.0" y1="54.0" x2="88.8" y2="57.3"/><line x1="178.8" y1="140.1" x2="176.3" y2="139.6"/><line x1="181.1" y1="110.5" x2="176.7" y2="111.4"/><line x1="178.4" y1="148.6" x2="176.7" y2="148.0"/><line x1="100.3" y1="201.2" x2="100.7" y2="196.5"/><line x1="69.0" y1="194.2" x2="70.8" y2="190.9"/><line x1="165.2" y1="75.2" x2="162.6" y2="77.5"/><line x1="26.6" y1="126.3" x2="29.5" y2="126.3"/><line x1="81.6" y1="201.0" x2="82.4" y2="198.7"/><line x1="53.9" y1="183.1" x2="56.1" y2="180.8"/><line x1="57.3" y1="186.0" x2="59.3" y2="183.6"/><line x1="180.1" y1="150.8" x2="178.4" y2="150.3"/><line x1="29.7" y1="113.4" x2="32.5" y2="113.9"/><line x1="118.1" y1="200.2" x2="117.7" y2="197.5"/><line x1="75.3" y1="197.2" x2="76.2" y2="195.1"/><line x1="105.1" y1="50.2" x2="105.1" y2="51.7"/><line x1="39.5" y1="170.6" x2="40.8" y2="169.8"/><line x1="39.5" y1="83.0" x2="41.8" y2="84.6"/><line x1="43.4" y1="82.9" x2="45.5" y2="84.4"/><line x1="45.7" y1="77.9" x2="47.7" y2="79.6"/><line x1="28.7" y1="127.9" x2="32.8" y2="127.9"/><line x1="175.8" y1="151.2" x2="173.5" y2="150.4"/><line x1="95.5" y1="204.4" x2="95.9" y2="201.4"/><line x1="153.9" y1="68.2" x2="152.4" y2="70.1"/><line x1="73.7" y1="59.5" x2="75.8" y2="63.9"/><line x1="142.5" y1="60.8" x2="141.2" y2="63.1"/><line x1="138.4" y1="55.9" x2="136.8" y2="59.3"/><line x1="178.5" y1="154.0" x2="177.0" y2="153.5"/><line x1="50.9" y1="72.5" x2="54.3" y2="75.9"/><line x1="57.7" y1="70.1" x2="60.8" y2="73.7"/><line x1="106.7" y1="49.7" x2="106.7" y2="51.3"/><line x1="99.1" y1="50.8" x2="99.5" y2="54.7"/><line x1="183.8" y1="118.7" x2="182.1" y2="118.9"/><line x1="120.4" y1="51.9" x2="119.6" y2="56.0"/><line x1="50.4" y1="179.8" x2="52.6" y2="177.7"/><line x1="161.2" y1="177.9" x2="158.2" y2="175.2"/><line x1="172.6" y1="159.2" x2="168.6" y2="157.3"/><line x1="66.8" y1="60.3" x2="67.7" y2="61.9"/><line x1="161.1" y1="178.0" x2="157.5" y2="174.7"/><line x1="32.1" y1="97.7" x2="34.2" y2="98.5"/><line x1="39.3" y1="166.0" x2="43.1" y2="163.7"/><line x1="161.6" y1="181.8" x2="159.3" y2="179.6"/><line x1="180.2" y1="141.7" x2="177.4" y2="141.2"/><line x1="69.3" y1="56.6" x2="70.8" y2="59.5"/><line x1="77.2" y1="56.2" x2="78.8" y2="60.1"/><line x1="166.9" y1="174.7" x2="165.3" y2="173.4"/><line x1="41.0" y1="88.3" x2="43.3" y2="89.6"/><line x1="144.5" y1="191.8" x2="142.6" y2="188.8"/><line x1="29.9" y1="117.3" x2="33.4" y2="117.7"/><line x1="147.0" y1="63.3" x2="145.0" y2="66.3"/><line x1="26.8" y1="136.5" x2="29.4" y2="136.2"/><line x1="81.0" y1="55.6" x2="81.8" y2="57.9"/><line x1="95.9" y1="50.3" x2="96.2" y2="52.7"/><line x1="177.5" y1="157.6" x2="174.9" y2="156.4"/><line x1="89.4" y1="52.2" x2="90.2" y2="55.8"/><line x1="31.7" y1="97.9" x2="36.1" y2="99.6"/><line x1="31.8" y1="147.8" x2="34.0" y2="147.2"/><line x1="106.9" y1="52.3" x2="106.8" y2="54.8"/><line x1="148.0" y1="66.1" x2="145.8" y2="69.3"/><line x1="35.4" y1="94.9" x2="37.8" y2="96.0"/><line x1="151.2" y1="191.2" x2="148.8" y2="187.8"/><line x1="131.0" y1="56.8" x2="129.5" y2="60.8"/><line x1="120.2" y1="200.4" x2="119.5" y2="197.1"/><line x1="47.8" y1="79.3" x2="51.1" y2="81.9"/><line x1="37.0" y1="87.8" x2="41.1" y2="90.1"/><line x1="77.1" y1="56.3" x2="78.9" y2="60.8"/><line x1="90.6" y1="52.7" x2="91.5" y2="57.1"/><line x1="94.5" y1="52.2" x2="94.8" y2="54.5"/><line x1="181.6" y1="136.6" x2="179.3" y2="136.3"/><line x1="85.3" y1="199.4" x2="85.8" y2="197.5"/><line x1="30.3" y1="134.0" x2="32.8" y2="133.7"/><line x1="92.2" y1="202.3" x2="93.0" y2="197.9"/><line x1="147.4" y1="193.2" x2="145.0" y2="189.4"/><line x1="46.0" y1="78.0" x2="49.1" y2="80.6"/><line x1="29.7" y1="110.1" x2="34.3" y2="111.1"/><line x1="117.3" y1="52.4" x2="117.0" y2="54.0"/><line x1="175.4" y1="97.4" x2="171.5" y2="99.0"/><line x1="113.3" y1="202.8" x2="113.1" y2="200.0"/><line x1="95.1" y1="48.5" x2="95.5" y2="51.7"/><line x1="36.0" y1="96.2" x2="38.1" y2="97.2"/><line x1="176.3" y1="103.7" x2="171.8" y2="105.2"/><line x1="64.4" y1="64.7" x2="67.0" y2="68.6"/><line x1="167.1" y1="172.8" x2="165.6" y2="171.7"/><line x1="180.9" y1="121.5" x2="176.3" y2="121.8"/><line x1="177.2" y1="156.0" x2="175.6" y2="155.3"/><line x1="181.1" y1="141.1" x2="176.2" y2="140.2"/><line x1="74.3" y1="54.7" x2="76.0" y2="58.6"/><line x1="31.6" y1="116.9" x2="35.0" y2="117.4"/><line x1="136.1" y1="197.2" x2="135.0" y2="194.7"/><line x1="30.4" y1="127.3" x2="34.3" y2="127.2"/><line x1="38.9" y1="164.8" x2="40.5" y2="164.0"/><line x1="28.7" y1="133.1" x2="33.6" y2="132.7"/><line x1="36.2" y1="98.7" x2="38.5" y2="99.6"/><line x1="65.6" y1="193.5" x2="68.0" y2="189.4"/><line x1="183.5" y1="114.9" x2="178.9" y2="115.7"/><line x1="155.2" y1="65.5" x2="154.2" y2="66.8"/><line x1="28.4" y1="131.8" x2="32.3" y2="131.5"/><line x1="46.7" y1="76.5" x2="50.4" y2="79.6"/><line x1="171.1" y1="166.4" x2="167.0" y2="163.9"/><line x1="178.5" y1="141.6" x2="174.1" y2="140.7"/><line x1="176.9" y1="107.1" x2="175.3" y2="107.5"/><line x1="142.7" y1="58.7" x2="141.1" y2="61.6"/><line x1="37.1" y1="89.2" x2="40.8" y2="91.3"/><line x1="179.8" y1="127.1" x2="175.5" y2="127.1"/><line x1="182.9" y1="114.7" x2="180.0" y2="115.2"/><line x1="66.6" y1="191.9" x2="67.4" y2="190.6"/><line x1="114.9" y1="52.0" x2="114.5" y2="55.5"/><line x1="30.6" y1="114.4" x2="34.5" y2="115.1"/><line x1="33.2" y1="147.8" x2="37.6" y2="146.6"/><line x1="139.1" y1="193.6" x2="138.0" y2="191.5"/><line x1="27.9" y1="137.1" x2="30.6" y2="136.7"/><line x1="111.1" y1="204.1" x2="110.9" y2="201.7"/><line x1="30.8" y1="116.1" x2="35.3" y2="116.7"/><line x1="135.5" y1="195.8" x2="134.5" y2="193.4"/><line x1="68.1" y1="195.1" x2="69.9" y2="191.7"/><line x1="124.7" y1="52.4" x2="124.2" y2="54.1"/><line x1="111.8" y1="51.8" x2="111.6" y2="54.0"/><line x1="37.4" y1="167.4" x2="39.8" y2="166.0"/><line x1="56.5" y1="188.6" x2="59.6" y2="184.7"/><line x1="48.7" y1="175.4" x2="51.9" y2="172.7"/><line x1="120.7" y1="52.6" x2="119.8" y2="56.7"/><line x1="50.5" y1="178.7" x2="53.1" y2="176.2"/><line x1="101.3" y1="50.4" x2="101.5" y2="54.7"/><line x1="181.8" y1="133.5" x2="178.9" y2="133.2"/><line x1="177.7" y1="158.2" x2="175.9" y2="157.4"/><line x1="127.1" y1="202.4" x2="125.7" y2="197.7"/><line x1="174.3" y1="95.2" x2="170.0" y2="97.1"/><line x1="154.3" y1="187.3" x2="151.3" y2="183.5"/><line x1="131.7" y1="196.7" x2="130.4" y2="193.1"/><line x1="163.0" y1="74.4" x2="159.4" y2="77.7"/><line x1="32.6" y1="148.6" x2="34.5" y2="148.0"/><line x1="94.0" y1="205.0" x2="94.3" y2="203.2"/><line x1="135.6" y1="196.4" x2="134.9" y2="194.8"/><line x1="79.1" y1="197.0" x2="79.8" y2="195.2"/><line x1="29.6" y1="113.9" x2="33.1" y2="114.5"/><line x1="111.3" y1="50.2" x2="110.9" y2="55.0"/><line x1="170.9" y1="163.6" x2="169.4" y2="162.8"/><line x1="76.9" y1="199.5" x2="78.7" y2="195.0"/><line x1="30.6" y1="125.0" x2="33.2" y2="125.1"/><line x1="36.7" y1="95.3" x2="40.6" y2="97.1"/><line x1="180.7" y1="113.7" x2="177.1" y2="114.3"/><line x1="148.8" y1="63.8" x2="147.5" y2="65.6"/><line x1="179.7" y1="99.5" x2="178.3" y2="100.1"/><line x1="111.5" y1="50.9" x2="111.3" y2="52.6"/><line x1="144.4" y1="190.8" x2="142.3" y2="187.3"/><line x1="123.1" y1="198.8" x2="122.6" y2="196.6"/><line x1="128.7" y1="53.8" x2="127.5" y2="57.4"/><line x1="32.2" y1="143.1" x2="33.7" y2="142.8"/><line x1="80.6" y1="196.7" x2="81.4" y2="194.5"/><line x1="49.6" y1="75.2" x2="51.9" y2="77.4"/><line x1="51.5" y1="73.7" x2="53.5" y2="75.6"/><line x1="162.9" y1="75.4" x2="160.7" y2="77.4"/><line x1="31.4" y1="107.7" x2="34.0" y2="108.4"/><line x1="169.8" y1="88.0" x2="165.8" y2="90.4"/><line x1="152.8" y1="64.0" x2="151.6" y2="65.7"/><line x1="26.3" y1="122.4" x2="28.8" y2="122.5"/><line x1="142.5" y1="195.2" x2="141.4" y2="193.2"/><line x1="40.7" y1="89.3" x2="44.8" y2="91.7"/><line x1="89.6" y1="199.6" x2="90.4" y2="195.8"/><line x1="61.3" y1="189.9" x2="63.2" y2="187.2"/><line x1="173.2" y1="90.9" x2="170.7" y2="92.2"/><line x1="182.0" y1="127.6" x2="179.6" y2="127.6"/><line x1="36.3" y1="92.0" x2="39.1" y2="93.4"/><line x1="170.1" y1="167.8" x2="167.4" y2="166.1"/><line x1="55.5" y1="65.4" x2="57.0" y2="67.3"/><line x1="35.7" y1="153.0" x2="39.7" y2="151.5"/><line x1="113.0" y1="204.8" x2="112.6" y2="200.5"/><line x1="103.1" y1="205.6" x2="103.2" y2="202.3"/><line x1="36.6" y1="161.2" x2="40.9" y2="159.1"/><line x1="29.0" y1="131.7" x2="31.5" y2="131.5"/><line x1="146.9" y1="62.4" x2="145.5" y2="64.6"/><line x1="130.2" y1="197.7" x2="128.7" y2="193.6"/><line x1="131.5" y1="52.0" x2="130.0" y2="56.5"/><line x1="74.4" y1="55.0" x2="76.0" y2="58.6"/><line x1="134.0" y1="54.0" x2="133.3" y2="55.9"/><line x1="135.3" y1="57.4" x2="134.4" y2="59.5"/><line x1="170.2" y1="90.9" x2="167.4" y2="92.5"/><line x1="62.2" y1="192.0" x2="64.2" y2="189.0"/><line x1="172.3" y1="84.9" x2="169.1" y2="86.9"/><line x1="176.7" y1="157.4" x2="174.9" y2="156.6"/><line x1="183.5" y1="118.0" x2="181.0" y2="118.3"/><line x1="135.8" y1="198.3" x2="134.2" y2="194.4"/><line x1="182.4" y1="119.5" x2="180.4" y2="119.7"/><line x1="94.6" y1="53.3" x2="95.2" y2="57.8"/><line x1="114.5" y1="49.2" x2="114.0" y2="53.7"/><line x1="33.7" y1="93.5" x2="37.1" y2="95.1"/><line x1="29.5" y1="130.7" x2="32.2" y2="130.5"/><line x1="179.5" y1="137.5" x2="175.2" y2="136.9"/><line x1="115.7" y1="203.6" x2="115.2" y2="199.4"/><line x1="79.2" y1="54.7" x2="80.0" y2="57.1"/><line x1="94.7" y1="201.0" x2="95.2" y2="197.3"/><line x1="74.6" y1="54.1" x2="75.6" y2="56.5"/><line x1="176.1" y1="91.9" x2="173.8" y2="93.1"/><line x1="179.2" y1="103.9" x2="174.6" y2="105.3"/><line x1="116.8" y1="51.9" x2="116.5" y2="54.4"/><line x1="29.6" y1="116.0" x2="31.2" y2="116.2"/><line x1="155.3" y1="68.4" x2="153.3" y2="70.8"/><line x1="102.8" y1="51.5" x2="102.9" y2="53.7"/><line x1="39.6" y1="90.2" x2="41.9" y2="91.5"/><line x1="172.6" y1="158.4" x2="170.1" y2="157.2"/><line x1="27.5" y1="113.5" x2="31.2" y2="114.1"/><line x1="40.0" y1="165.8" x2="42.0" y2="164.6"/><line x1="27.4" y1="139.7" x2="29.3" y2="139.4"/><line x1="34.5" y1="158.5" x2="38.4" y2="156.8"/><line x1="32.6" y1="100.5" x2="37.1" y2="102.2"/><line x1="167.0" y1="83.5" x2="164.3" y2="85.5"/><line x1="182.2" y1="125.5" x2="180.0" y2="125.5"/><line x1="112.9" y1="52.9" x2="112.7" y2="54.9"/><line x1="33.8" y1="102.9" x2="37.7" y2="104.2"/><line x1="94.4" y1="51.9" x2="95.0" y2="56.1"/><line x1="58.8" y1="64.6" x2="60.7" y2="67.0"/><line x1="37.4" y1="157.5" x2="40.3" y2="156.2"/><line x1="180.9" y1="104.7" x2="179.3" y2="105.2"/><line x1="173.4" y1="159.4" x2="169.9" y2="157.7"/><line x1="36.4" y1="155.3" x2="39.2" y2="154.2"/><line x1="35.6" y1="92.2" x2="38.2" y2="93.5"/><line x1="59.6" y1="64.1" x2="61.8" y2="67.1"/><line x1="179.9" y1="149.2" x2="178.0" y2="148.6"/><line x1="177.4" y1="152.6" x2="176.0" y2="152.1"/><line x1="173.6" y1="160.4" x2="170.8" y2="159.0"/><line x1="167.7" y1="175.5" x2="164.1" y2="172.7"/><line x1="28.6" y1="133.3" x2="31.2" y2="133.0"/><line x1="179.6" y1="119.2" x2="177.1" y2="119.4"/><line x1="119.7" y1="204.1" x2="119.1" y2="200.9"/><line x1="41.0" y1="167.4" x2="44.9" y2="165.0"/><line x1="101.8" y1="204.9" x2="101.9" y2="200.9"/><line x1="33.4" y1="151.0" x2="36.3" y2="150.0"/><line x1="33.0" y1="148.8" x2="36.5" y2="147.7"/><line x1="41.3" y1="166.9" x2="44.8" y2="164.6"/><line x1="31.9" y1="148.1" x2="36.3" y2="146.8"/><line x1="32.5" y1="148.2" x2="36.9" y2="146.9"/><line x1="182.7" y1="115.2" x2="179.8" y2="115.7"/><line x1="68.4" y1="58.2" x2="69.6" y2="60.5"/><line x1="92.5" y1="48.8" x2="93.2" y2="52.6"/><line x1="68.1" y1="60.2" x2="70.0" y2="63.5"/><line x1="117.1" y1="204.0" x2="116.6" y2="200.6"/><line x1="180.6" y1="117.3" x2="176.7" y2="117.8"/><line x1="181.2" y1="134.8" x2="177.0" y2="134.4"/><line x1="100.8" y1="203.9" x2="100.9" y2="201.6"/><line x1="41.8" y1="174.1" x2="43.5" y2="172.7"/><line x1="168.8" y1="88.1" x2="165.8" y2="89.9"/><line x1="139.4" y1="56.1" x2="138.1" y2="58.7"/><line x1="39.8" y1="85.0" x2="43.3" y2="87.2"/><line x1="103.8" y1="49.7" x2="103.8" y2="52.1"/><line x1="84.0" y1="52.9" x2="85.0" y2="56.1"/><line x1="179.9" y1="120.7" x2="175.7" y2="121.1"/><line x1="70.2" y1="196.2" x2="72.3" y2="191.9"/><line x1="93.6" y1="202.9" x2="94.1" y2="199.6"/><line x1="30.5" y1="129.1" x2="34.2" y2="128.9"/><line x1="166.2" y1="78.7" x2="164.2" y2="80.3"/><line x1="131.7" y1="55.2" x2="131.0" y2="57.1"/><line x1="45.3" y1="79.6" x2="47.9" y2="81.7"/><line x1="182.3" y1="122.5" x2="177.5" y2="122.8"/><line x1="58.5" y1="189.2" x2="59.6" y2="187.7"/><line x1="81.2" y1="200.6" x2="82.4" y2="196.9"/><line x1="141.4" y1="59.8" x2="140.2" y2="62.0"/><line x1="57.0" y1="186.5" x2="58.0" y2="185.3"/><line x1="50.8" y1="181.7" x2="52.2" y2="180.3"/><line x1="75.9" y1="199.7" x2="77.7" y2="195.3"/><line x1="105.5" y1="201.7" x2="105.5" y2="199.8"/><line x1="172.5" y1="166.9" x2="169.0" y2="164.8"/><line x1="98.5" y1="203.1" x2="98.8" y2="199.2"/><line x1="182.5" y1="140.6" x2="178.1" y2="139.8"/><line x1="124.1" y1="202.2" x2="123.2" y2="198.4"/><line x1="64.5" y1="194.0" x2="65.7" y2="192.0"/><line x1="30.8" y1="139.1" x2="33.8" y2="138.6"/><line x1="134.8" y1="55.6" x2="133.4" y2="59.0"/><line x1="180.3" y1="120.7" x2="178.1" y2="120.9"/><line x1="50.8" y1="75.7" x2="54.3" y2="79.0"/><line x1="64.0" y1="190.9" x2="65.6" y2="188.4"/><line x1="142.4" y1="57.2" x2="140.6" y2="60.6"/><line x1="141.4" y1="193.6" x2="139.5" y2="190.1"/><line x1="122.0" y1="203.7" x2="121.1" y2="199.2"/><line x1="116.6" y1="201.9" x2="116.2" y2="199.6"/><line x1="90.8" y1="54.0" x2="91.6" y2="57.9"/><line x1="177.9" y1="156.9" x2="174.7" y2="155.6"/><line x1="40.8" y1="89.6" x2="42.3" y2="90.4"/></g>
<g stroke="#c0ffc0" stroke-opacity="0.07" stroke-width="0.5"><line x1="59.7" y1="187.2" x2="64.1" y2="181.4"/><line x1="141.9" y1="83.9" x2="139.5" y2="86.8"/><line x1="174.4" y1="135.9" x2="170.2" y2="135.4"/><line x1="95.6" y1="195.1" x2="96.7" y2="187.3"/><line x1="76.9" y1="185.0" x2="79.1" y2="180.5"/><line x1="47.5" y1="103.3" x2="52.6" y2="105.4"/><line x1="105.8" y1="187.9" x2="105.8" y2="183.1"/><line x1="166.6" y1="133.1" x2="159.5" y2="132.3"/><line x1="98.7" y1="183.8" x2="99.7" y2="174.9"/><line x1="40.9" y1="139.5" x2="46.0" y2="138.5"/><line x1="159.1" y1="80.7" x2="153.6" y2="85.4"/><line x1="67.9" y1="68.2" x2="71.4" y2="73.7"/><line x1="51.4" y1="159.6" x2="57.0" y2="156.2"/><line x1="40.6" y1="139.8" x2="47.2" y2="138.4"/><line x1="123.1" y1="55.2" x2="122.0" y2="59.6"/><line x1="166.1" y1="135.3" x2="162.9" y2="134.9"/><line x1="124.9" y1="61.6" x2="123.5" y2="66.4"/><line x1="131.8" y1="195.1" x2="128.6" y2="186.9"/><line x1="77.3" y1="63.2" x2="80.6" y2="70.7"/><line x1="44.6" y1="144.6" x2="51.2" y2="142.7"/><line x1="160.8" y1="75.1" x2="153.9" y2="81.5"/><line x1="134.3" y1="78.2" x2="131.9" y2="82.3"/><line x1="170.7" y1="114.8" x2="164.2" y2="116.0"/><line x1="78.6" y1="194.8" x2="81.0" y2="188.6"/><line x1="161.9" y1="123.4" x2="151.9" y2="124.0"/><line x1="163.3" y1="131.7" x2="157.6" y2="131.2"/><line x1="68.7" y1="82.7" x2="73.2" y2="88.1"/><line x1="164.9" y1="102.9" x2="157.2" y2="106.0"/><line x1="49.1" y1="90.1" x2="52.6" y2="92.4"/><line x1="33.4" y1="143.4" x2="40.9" y2="141.6"/><line x1="118.7" y1="189.8" x2="117.3" y2="183.1"/><line x1="70.6" y1="184.2" x2="74.4" y2="177.9"/><line x1="164.6" y1="133.5" x2="157.1" y2="132.6"/><line x1="118.0" y1="181.9" x2="116.1" y2="173.8"/><line x1="67.6" y1="191.7" x2="71.1" y2="185.7"/><line x1="160.4" y1="167.4" x2="156.5" y2="164.6"/><line x1="133.1" y1="62.3" x2="129.8" y2="69.9"/><line x1="157.6" y1="146.4" x2="149.5" y2="143.4"/><line x1="143.0" y1="172.6" x2="141.0" y2="170.1"/><line x1="139.0" y1="182.4" x2="134.0" y2="174.1"/><line x1="79.2" y1="181.3" x2="83.0" y2="173.4"/><line x1="132.8" y1="189.4" x2="129.8" y2="182.7"/><line x1="156.8" y1="104.7" x2="150.4" y2="107.4"/><line x1="51.8" y1="175.3" x2="55.4" y2="172.1"/><line x1="92.5" y1="69.3" x2="94.0" y2="75.6"/><line x1="164.3" y1="114.9" x2="159.4" y2="115.9"/><line x1="165.5" y1="92.5" x2="162.5" y2="94.3"/><line x1="128.7" y1="182.1" x2="126.8" y2="177.4"/><line x1="144.4" y1="69.0" x2="138.9" y2="77.2"/><line x1="72.4" y1="67.1" x2="75.2" y2="72.1"/><line x1="92.1" y1="62.8" x2="92.8" y2="66.1"/><line x1="42.4" y1="130.0" x2="49.1" y2="129.6"/><line x1="158.4" y1="143.6" x2="149.0" y2="140.6"/><line x1="62.7" y1="171.6" x2="65.4" y2="168.7"/><line x1="43.4" y1="86.1" x2="46.9" y2="88.4"/><line x1="39.9" y1="126.7" x2="48.3" y2="126.7"/><line x1="50.3" y1="102.9" x2="54.3" y2="104.7"/><line x1="96.4" y1="70.9" x2="97.8" y2="79.8"/><line x1="163.1" y1="139.1" x2="156.9" y2="137.8"/><line x1="143.3" y1="70.3" x2="138.7" y2="77.1"/><line x1="110.3" y1="56.8" x2="110.0" y2="60.2"/><line x1="131.9" y1="75.1" x2="130.0" y2="78.8"/><line x1="159.5" y1="139.8" x2="150.6" y2="137.7"/><line x1="63.7" y1="165.4" x2="66.2" y2="163.2"/><line x1="143.9" y1="71.2" x2="138.5" y2="78.9"/><line x1="161.2" y1="140.1" x2="156.3" y2="139.0"/><line x1="126.2" y1="180.3" x2="124.6" y2="176.2"/><line x1="68.2" y1="81.6" x2="70.9" y2="84.8"/><line x1="44.1" y1="112.9" x2="48.0" y2="113.8"/><line x1="45.7" y1="99.5" x2="50.9" y2="101.9"/><line x1="50.3" y1="135.8" x2="57.5" y2="134.6"/><line x1="127.0" y1="185.0" x2="125.9" y2="182.1"/><line x1="156.7" y1="83.1" x2="152.3" y2="86.9"/><line x1="33.2" y1="107.4" x2="37.0" y2="108.4"/><line x1="53.4" y1="173.5" x2="57.6" y2="169.8"/><line x1="85.5" y1="55.4" x2="86.4" y2="58.6"/><line x1="92.2" y1="186.5" x2="94.0" y2="178.5"/><line x1="120.3" y1="58.7" x2="118.3" y2="68.0"/><line x1="130.3" y1="185.0" x2="126.7" y2="176.7"/><line x1="111.0" y1="69.7" x2="110.0" y2="79.5"/><line x1="101.0" y1="53.7" x2="101.4" y2="59.3"/><line x1="46.2" y1="80.6" x2="53.5" y2="86.3"/><line x1="40.2" y1="92.5" x2="49.0" y2="97.1"/><line x1="142.0" y1="68.6" x2="136.8" y2="76.8"/><line x1="144.7" y1="176.6" x2="140.4" y2="171.2"/><line x1="153.7" y1="179.3" x2="151.4" y2="176.8"/><line x1="63.4" y1="82.8" x2="67.0" y2="86.6"/><line x1="59.2" y1="90.1" x2="64.0" y2="93.9"/><line x1="152.6" y1="67.6" x2="149.6" y2="71.4"/><line x1="59.2" y1="178.8" x2="62.1" y2="175.6"/><line x1="139.9" y1="78.7" x2="135.9" y2="84.3"/><line x1="76.1" y1="173.4" x2="77.7" y2="170.8"/><line x1="167.3" y1="127.6" x2="162.4" y2="127.5"/><line x1="173.7" y1="123.1" x2="170.2" y2="123.3"/><line x1="92.7" y1="68.3" x2="94.1" y2="74.5"/><line x1="92.9" y1="54.9" x2="94.5" y2="64.3"/><line x1="51.2" y1="156.2" x2="56.3" y2="153.4"/><line x1="78.3" y1="192.0" x2="80.7" y2="186.2"/><line x1="82.5" y1="73.3" x2="85.8" y2="81.1"/><line x1="163.4" y1="114.5" x2="156.2" y2="116.0"/><line x1="134.6" y1="174.3" x2="131.6" y2="169.2"/><line x1="134.0" y1="191.0" x2="131.2" y2="184.7"/><line x1="71.0" y1="59.8" x2="72.6" y2="62.8"/><line x1="150.8" y1="159.1" x2="145.8" y2="155.5"/><line x1="136.7" y1="64.9" x2="133.6" y2="71.0"/><line x1="144.3" y1="77.5" x2="141.9" y2="80.4"/><line x1="70.4" y1="83.7" x2="73.3" y2="87.2"/><line x1="162.8" y1="137.7" x2="159.4" y2="137.0"/><line x1="48.8" y1="115.4" x2="55.9" y2="116.9"/><line x1="133.4" y1="71.2" x2="131.6" y2="74.6"/><line x1="72.0" y1="64.9" x2="76.4" y2="73.0"/><line x1="42.0" y1="104.4" x2="50.5" y2="107.4"/><line x1="72.1" y1="59.1" x2="74.3" y2="63.6"/><line x1="115.8" y1="59.3" x2="114.9" y2="65.5"/><line x1="170.3" y1="131.2" x2="165.4" y2="130.9"/><line x1="52.6" y1="87.7" x2="57.9" y2="91.6"/><line x1="159.3" y1="147.6" x2="152.5" y2="145.0"/><line x1="74.0" y1="57.8" x2="77.5" y2="65.6"/><line x1="89.3" y1="189.3" x2="90.9" y2="183.0"/><line x1="126.5" y1="67.1" x2="123.3" y2="76.0"/><line x1="42.4" y1="133.2" x2="48.7" y2="132.5"/><line x1="57.9" y1="186.2" x2="60.0" y2="183.6"/><line x1="59.6" y1="160.2" x2="65.9" y2="155.6"/><line x1="139.4" y1="174.0" x2="135.9" y2="169.1"/><line x1="48.5" y1="84.3" x2="53.4" y2="88.0"/><line x1="87.9" y1="187.0" x2="90.4" y2="178.2"/><line x1="118.0" y1="180.6" x2="115.9" y2="171.6"/><line x1="48.0" y1="133.0" x2="51.9" y2="132.6"/><line x1="160.0" y1="81.9" x2="157.3" y2="84.0"/><line x1="78.4" y1="73.8" x2="81.2" y2="79.2"/><line x1="61.1" y1="92.4" x2="68.6" y2="98.3"/><line x1="75.8" y1="176.7" x2="80.1" y2="169.4"/><line x1="148.6" y1="162.1" x2="142.7" y2="157.3"/><line x1="32.8" y1="140.6" x2="41.2" y2="139.0"/><line x1="120.5" y1="180.7" x2="118.6" y2="173.7"/><line x1="45.1" y1="138.1" x2="54.4" y2="136.4"/><line x1="123.1" y1="193.0" x2="122.2" y2="189.6"/><line x1="171.9" y1="92.2" x2="165.4" y2="95.6"/><line x1="75.4" y1="190.3" x2="79.4" y2="181.8"/><line x1="121.0" y1="73.2" x2="119.1" y2="79.4"/><line x1="147.8" y1="178.0" x2="141.6" y2="170.6"/><line x1="145.2" y1="81.6" x2="140.7" y2="86.8"/><line x1="81.3" y1="180.2" x2="84.7" y2="172.7"/><line x1="109.0" y1="64.8" x2="108.7" y2="70.8"/><line x1="82.2" y1="60.5" x2="84.3" y2="66.4"/><line x1="147.4" y1="165.4" x2="144.3" y2="162.5"/><line x1="135.6" y1="68.8" x2="132.1" y2="75.4"/><line x1="64.0" y1="174.0" x2="66.8" y2="170.8"/><line x1="172.3" y1="116.0" x2="168.4" y2="116.7"/><line x1="85.6" y1="62.2" x2="87.7" y2="69.2"/><line x1="113.9" y1="59.6" x2="112.7" y2="68.6"/><line x1="167.8" y1="114.8" x2="160.4" y2="116.2"/><line x1="60.6" y1="172.0" x2="64.5" y2="168.0"/><line x1="67.9" y1="77.0" x2="71.1" y2="81.3"/><line x1="146.4" y1="67.9" x2="142.0" y2="74.2"/><line x1="140.4" y1="74.3" x2="136.3" y2="80.5"/><line x1="104.9" y1="188.4" x2="104.9" y2="184.7"/><line x1="127.7" y1="55.9" x2="126.2" y2="60.8"/><line x1="63.9" y1="166.6" x2="66.8" y2="163.8"/><line x1="57.8" y1="70.5" x2="60.1" y2="73.3"/><line x1="103.3" y1="197.7" x2="103.5" y2="193.1"/><line x1="150.3" y1="83.4" x2="145.7" y2="87.8"/><line x1="123.7" y1="185.1" x2="121.9" y2="179.4"/><line x1="93.0" y1="196.0" x2="93.6" y2="192.8"/><line x1="59.2" y1="71.8" x2="62.6" y2="75.8"/><line x1="126.1" y1="180.5" x2="124.8" y2="177.2"/><line x1="123.1" y1="61.5" x2="122.3" y2="64.5"/><line x1="40.7" y1="146.3" x2="45.7" y2="144.8"/><line x1="167.7" y1="140.7" x2="162.4" y2="139.5"/><line x1="167.0" y1="116.0" x2="157.7" y2="117.6"/><line x1="150.7" y1="77.4" x2="148.1" y2="80.2"/><line x1="125.6" y1="73.6" x2="123.2" y2="80.1"/><line x1="152.0" y1="159.5" x2="147.2" y2="156.1"/><line x1="147.5" y1="189.9" x2="143.6" y2="184.0"/><line x1="165.3" y1="81.6" x2="158.7" y2="86.6"/><line x1="65.8" y1="75.3" x2="71.0" y2="82.0"/><line x1="77.1" y1="75.8" x2="80.4" y2="81.7"/><line x1="49.1" y1="160.8" x2="55.9" y2="156.7"/><line x1="80.4" y1="64.7" x2="83.6" y2="72.6"/><line x1="131.3" y1="76.1" x2="129.5" y2="79.7"/><line x1="161.2" y1="143.8" x2="151.9" y2="141.0"/><line x1="81.9" y1="186.6" x2="84.2" y2="180.7"/><line x1="49.4" y1="102.8" x2="57.2" y2="106.2"/><line x1="69.7" y1="190.2" x2="73.9" y2="182.7"/><line x1="171.9" y1="127.3" x2="168.2" y2="127.3"/><line x1="147.5" y1="89.2" x2="143.9" y2="92.4"/><line x1="113.3" y1="59.9" x2="112.4" y2="67.5"/><line x1="49.1" y1="161.1" x2="52.8" y2="158.8"/><line x1="46.7" y1="140.9" x2="54.2" y2="139.1"/><line x1="150.8" y1="162.8" x2="147.3" y2="160.1"/><line x1="39.6" y1="113.0" x2="42.6" y2="113.6"/><line x1="177.7" y1="120.9" x2="172.1" y2="121.4"/><line x1="144.6" y1="187.6" x2="139.3" y2="179.3"/><line x1="136.3" y1="190.6" x2="132.5" y2="182.7"/><line x1="160.2" y1="104.0" x2="156.7" y2="105.5"/><line x1="136.0" y1="178.2" x2="131.3" y2="170.2"/><line x1="160.2" y1="92.0" x2="156.9" y2="94.1"/><line x1="69.3" y1="174.8" x2="73.9" y2="168.8"/><line x1="92.0" y1="56.8" x2="93.2" y2="62.7"/><line x1="42.9" y1="144.2" x2="48.3" y2="142.7"/><line x1="38.8" y1="146.1" x2="46.4" y2="143.9"/><line x1="74.5" y1="186.1" x2="76.4" y2="182.6"/><line x1="166.0" y1="144.5" x2="160.7" y2="142.9"/><line x1="160.9" y1="138.3" x2="155.0" y2="137.1"/><line x1="173.3" y1="101.1" x2="170.3" y2="102.2"/><line x1="79.9" y1="184.1" x2="82.0" y2="179.4"/><line x1="149.3" y1="177.9" x2="143.5" y2="171.2"/><line x1="62.2" y1="166.5" x2="64.9" y2="164.0"/><line x1="176.1" y1="133.6" x2="171.6" y2="133.1"/><line x1="93.7" y1="56.1" x2="94.3" y2="59.7"/><line x1="128.5" y1="183.9" x2="125.3" y2="176.2"/><line x1="100.3" y1="65.6" x2="100.8" y2="71.8"/><line x1="65.6" y1="178.1" x2="70.8" y2="171.3"/><line x1="100.1" y1="198.6" x2="100.8" y2="189.2"/><line x1="44.9" y1="82.3" x2="52.6" y2="87.9"/><line x1="141.5" y1="193.5" x2="139.4" y2="189.6"/><line x1="124.8" y1="72.6" x2="123.1" y2="77.4"/><line x1="37.5" y1="152.6" x2="44.8" y2="149.9"/><line x1="126.5" y1="197.6" x2="123.9" y2="188.9"/><line x1="49.4" y1="123.3" x2="54.4" y2="123.6"/><line x1="88.6" y1="188.3" x2="91.1" y2="179.1"/><line x1="45.7" y1="86.2" x2="48.6" y2="88.1"/><line x1="107.4" y1="197.1" x2="107.2" y2="191.7"/><line x1="113.3" y1="182.6" x2="112.9" y2="179.2"/><line x1="48.8" y1="161.6" x2="53.7" y2="158.6"/><line x1="49.3" y1="102.5" x2="52.2" y2="103.8"/><line x1="77.0" y1="71.6" x2="80.0" y2="77.4"/><line x1="61.8" y1="169.0" x2="64.2" y2="166.6"/><line x1="87.7" y1="185.5" x2="88.8" y2="181.8"/><line x1="169.4" y1="138.8" x2="166.3" y2="138.2"/><line x1="150.7" y1="83.7" x2="146.3" y2="87.9"/><line x1="50.6" y1="117.9" x2="54.3" y2="118.5"/><line x1="120.1" y1="61.8" x2="118.7" y2="68.0"/><line x1="66.1" y1="185.6" x2="69.7" y2="180.2"/><line x1="124.5" y1="56.8" x2="122.0" y2="65.7"/><line x1="95.0" y1="58.4" x2="95.9" y2="64.6"/><line x1="39.7" y1="112.8" x2="46.2" y2="114.2"/><line x1="136.1" y1="60.6" x2="134.7" y2="63.6"/><line x1="106.3" y1="58.9" x2="106.2" y2="66.1"/><line x1="152.4" y1="96.3" x2="147.1" y2="99.7"/><line x1="52.3" y1="179.7" x2="55.2" y2="176.7"/><line x1="51.9" y1="104.4" x2="59.5" y2="107.6"/><line x1="35.1" y1="131.6" x2="40.3" y2="131.3"/><line x1="146.4" y1="89.9" x2="143.0" y2="93.0"/><line x1="97.7" y1="53.7" x2="98.6" y2="62.1"/><line x1="96.5" y1="182.8" x2="97.7" y2="174.9"/><line x1="98.9" y1="70.9" x2="100.0" y2="80.4"/><line x1="50.5" y1="117.1" x2="56.8" y2="118.2"/><line x1="75.3" y1="175.4" x2="80.2" y2="167.6"/><line x1="158.2" y1="103.8" x2="152.6" y2="106.2"/><line x1="95.3" y1="195.2" x2="95.8" y2="191.4"/><line x1="73.5" y1="181.9" x2="76.7" y2="176.4"/><line x1="43.4" y1="153.5" x2="52.2" y2="149.7"/><line x1="172.7" y1="95.9" x2="164.7" y2="99.6"/><line x1="113.6" y1="186.4" x2="112.7" y2="180.2"/><line x1="63.3" y1="73.7" x2="66.7" y2="78.0"/><line x1="166.9" y1="123.6" x2="163.7" y2="123.8"/><line x1="155.4" y1="158.9" x2="148.6" y2="154.5"/><line x1="135.6" y1="79.8" x2="133.1" y2="83.7"/><line x1="108.8" y1="198.2" x2="108.4" y2="189.0"/><line x1="100.6" y1="183.7" x2="101.4" y2="174.0"/><line x1="174.3" y1="114.3" x2="168.1" y2="115.4"/><line x1="104.0" y1="55.7" x2="104.1" y2="62.3"/><line x1="96.6" y1="192.2" x2="97.6" y2="184.7"/><line x1="74.6" y1="187.9" x2="76.4" y2="184.3"/><line x1="163.8" y1="116.0" x2="159.3" y2="116.8"/><line x1="178.0" y1="108.3" x2="168.8" y2="110.6"/><line x1="144.9" y1="65.6" x2="140.1" y2="73.0"/><line x1="53.7" y1="103.8" x2="61.2" y2="107.1"/><line x1="142.7" y1="64.5" x2="141.0" y2="67.3"/><line x1="170.6" y1="153.2" x2="164.6" y2="150.8"/><line x1="164.9" y1="79.8" x2="160.1" y2="83.6"/><line x1="74.3" y1="65.2" x2="77.8" y2="72.3"/><line x1="59.3" y1="177.4" x2="61.7" y2="174.8"/><line x1="162.2" y1="85.6" x2="155.2" y2="90.6"/><line x1="47.8" y1="140.7" x2="53.7" y2="139.3"/><line x1="77.3" y1="66.5" x2="78.9" y2="69.9"/><line x1="168.7" y1="128.3" x2="164.0" y2="128.2"/><line x1="114.1" y1="185.8" x2="113.2" y2="180.0"/><line x1="80.4" y1="57.0" x2="83.0" y2="64.3"/><line x1="178.0" y1="136.3" x2="170.8" y2="135.4"/><line x1="97.6" y1="59.4" x2="98.3" y2="64.8"/><line x1="75.4" y1="174.6" x2="79.4" y2="168.2"/><line x1="170.7" y1="149.9" x2="161.9" y2="146.8"/><line x1="72.0" y1="67.9" x2="76.3" y2="75.4"/><line x1="175.2" y1="108.7" x2="165.5" y2="111.2"/><line x1="51.9" y1="140.7" x2="58.9" y2="138.9"/><line x1="58.2" y1="70.9" x2="62.9" y2="76.5"/><line x1="69.4" y1="168.5" x2="75.2" y2="161.8"/><line x1="51.8" y1="73.4" x2="56.8" y2="78.4"/><line x1="148.2" y1="69.9" x2="142.3" y2="77.8"/><line x1="33.6" y1="144.1" x2="39.2" y2="142.8"/><line x1="167.1" y1="131.2" x2="161.6" y2="130.8"/><line x1="168.6" y1="123.8" x2="163.7" y2="124.0"/><line x1="84.6" y1="73.7" x2="86.5" y2="78.5"/><line x1="59.9" y1="162.1" x2="65.6" y2="157.7"/><line x1="41.8" y1="160.2" x2="46.6" y2="157.7"/><line x1="163.9" y1="118.4" x2="157.3" y2="119.4"/><line x1="113.6" y1="181.5" x2="112.9" y2="176.4"/><line x1="153.8" y1="89.5" x2="148.7" y2="93.4"/><line x1="45.5" y1="117.7" x2="52.2" y2="118.7"/><line x1="162.5" y1="151.7" x2="158.0" y2="149.7"/><line x1="133.8" y1="61.6" x2="130.7" y2="68.8"/><line x1="44.8" y1="85.7" x2="51.6" y2="90.3"/><line x1="159.7" y1="146.4" x2="151.9" y2="143.6"/><line x1="146.0" y1="62.8" x2="141.5" y2="69.9"/><line x1="142.0" y1="182.8" x2="138.0" y2="176.6"/><line x1="59.6" y1="91.5" x2="67.4" y2="97.4"/><line x1="44.9" y1="122.8" x2="54.7" y2="123.5"/><line x1="63.1" y1="164.2" x2="68.8" y2="159.1"/><line x1="101.8" y1="186.3" x2="102.1" y2="181.2"/><line x1="57.1" y1="88.3" x2="63.1" y2="93.1"/><line x1="168.2" y1="84.3" x2="160.5" y2="89.5"/><line x1="158.5" y1="98.2" x2="150.8" y2="102.4"/><line x1="162.2" y1="162.7" x2="159.2" y2="160.8"/><line x1="166.2" y1="170.5" x2="163.1" y2="168.2"/><line x1="91.9" y1="62.1" x2="92.5" y2="65.1"/><line x1="120.5" y1="72.6" x2="118.0" y2="81.5"/><line x1="132.7" y1="67.4" x2="130.2" y2="72.9"/><line x1="174.0" y1="138.9" x2="170.8" y2="138.4"/><line x1="32.0" y1="114.7" x2="39.6" y2="115.9"/><line x1="157.6" y1="173.7" x2="151.7" y2="168.4"/><line x1="71.4" y1="189.4" x2="74.8" y2="183.2"/><line x1="48.9" y1="160.9" x2="53.1" y2="158.4"/><line x1="88.4" y1="198.5" x2="89.6" y2="193.2"/><line x1="113.7" y1="64.7" x2="113.2" y2="68.9"/><line x1="180.6" y1="127.5" x2="172.4" y2="127.4"/><line x1="172.3" y1="119.1" x2="168.9" y2="119.5"/><line x1="134.4" y1="174.7" x2="130.7" y2="168.5"/><line x1="51.3" y1="74.7" x2="55.0" y2="78.2"/><line x1="111.7" y1="186.1" x2="111.2" y2="182.1"/><line x1="169.7" y1="138.5" x2="163.9" y2="137.4"/><line x1="54.8" y1="182.1" x2="58.3" y2="178.3"/><line x1="136.2" y1="68.2" x2="134.5" y2="71.5"/><line x1="172.0" y1="139.3" x2="163.1" y2="137.6"/><line x1="171.7" y1="148.5" x2="167.3" y2="147.0"/><line x1="77.5" y1="59.9" x2="80.6" y2="67.4"/><line x1="107.4" y1="185.0" x2="107.0" y2="175.3"/><line x1="169.6" y1="89.2" x2="163.7" y2="92.6"/><line x1="164.9" y1="146.7" x2="156.0" y2="143.7"/><line x1="161.3" y1="151.8" x2="158.3" y2="150.5"/><line x1="151.0" y1="84.2" x2="148.4" y2="86.6"/><line x1="68.7" y1="173.4" x2="72.5" y2="168.6"/><line x1="54.1" y1="80.9" x2="56.8" y2="83.4"/><line x1="50.5" y1="114.8" x2="56.5" y2="116.1"/><line x1="127.0" y1="70.3" x2="123.8" y2="78.4"/><line x1="107.8" y1="190.0" x2="107.4" y2="181.5"/><line x1="172.0" y1="128.3" x2="165.3" y2="128.2"/><line x1="89.0" y1="53.7" x2="90.7" y2="61.4"/><line x1="115.2" y1="185.2" x2="114.1" y2="178.9"/><line x1="92.4" y1="192.1" x2="93.1" y2="188.6"/><line x1="83.4" y1="67.0" x2="84.5" y2="70.1"/><line x1="159.6" y1="178.1" x2="153.1" y2="172.0"/><line x1="151.8" y1="83.9" x2="144.5" y2="90.6"/><line x1="139.2" y1="188.4" x2="134.6" y2="180.0"/><line x1="119.6" y1="180.0" x2="118.6" y2="176.3"/><line x1="167.6" y1="162.8" x2="161.3" y2="159.2"/><line x1="48.6" y1="135.3" x2="56.0" y2="134.2"/><line x1="143.1" y1="170.6" x2="138.4" y2="165.2"/><line x1="60.8" y1="70.5" x2="66.3" y2="77.4"/><line x1="145.4" y1="173.4" x2="142.7" y2="170.4"/><line x1="49.9" y1="129.9" x2="58.9" y2="129.4"/><line x1="75.4" y1="61.4" x2="78.1" y2="67.2"/><line x1="167.2" y1="88.8" x2="159.7" y2="93.4"/><line x1="125.9" y1="70.9" x2="124.0" y2="76.0"/><line x1="172.1" y1="151.4" x2="166.1" y2="149.2"/><line x1="166.3" y1="121.6" x2="160.3" y2="122.1"/><line x1="155.7" y1="70.7" x2="150.2" y2="76.9"/><line x1="160.4" y1="76.7" x2="156.8" y2="80.0"/><line x1="63.6" y1="89.1" x2="69.3" y2="94.3"/><line x1="168.1" y1="107.5" x2="164.3" y2="108.7"/><line x1="54.3" y1="103.1" x2="59.9" y2="105.7"/><line x1="161.3" y1="157.6" x2="153.6" y2="153.4"/><line x1="100.5" y1="54.0" x2="101.0" y2="60.2"/><line x1="53.0" y1="147.1" x2="61.0" y2="144.0"/><line x1="47.8" y1="99.8" x2="51.5" y2="101.5"/><line x1="51.0" y1="141.3" x2="54.7" y2="140.3"/><line x1="161.6" y1="157.3" x2="158.1" y2="155.5"/><line x1="137.1" y1="66.8" x2="132.8" y2="74.9"/><line x1="50.3" y1="107.6" x2="55.0" y2="109.2"/><line x1="141.3" y1="69.9" x2="137.3" y2="76.3"/><line x1="67.7" y1="85.4" x2="70.7" y2="88.6"/><line x1="39.3" y1="157.1" x2="48.0" y2="153.1"/><line x1="54.6" y1="94.0" x2="57.4" y2="95.8"/><line x1="46.1" y1="103.8" x2="55.0" y2="107.3"/><line x1="121.4" y1="183.9" x2="120.5" y2="180.9"/><line x1="176.2" y1="139.7" x2="167.2" y2="138.1"/><line x1="136.8" y1="172.3" x2="132.8" y2="166.5"/><line x1="106.9" y1="194.7" x2="106.7" y2="185.3"/><line x1="104.3" y1="65.9" x2="104.4" y2="73.2"/><line x1="88.0" y1="195.6" x2="89.1" y2="190.9"/><line x1="152.6" y1="76.1" x2="146.3" y2="82.9"/><line x1="62.9" y1="188.7" x2="67.0" y2="182.8"/><line x1="102.3" y1="195.3" x2="102.5" y2="190.1"/><line x1="147.7" y1="163.3" x2="142.2" y2="158.5"/><line x1="108.3" y1="183.8" x2="107.9" y2="175.4"/><line x1="149.9" y1="182.0" x2="146.8" y2="178.1"/><line x1="56.6" y1="183.2" x2="62.4" y2="176.6"/><line x1="143.7" y1="61.6" x2="140.1" y2="67.9"/><line x1="167.9" y1="99.9" x2="161.4" y2="102.7"/><line x1="77.2" y1="183.1" x2="80.3" y2="176.9"/><line x1="106.6" y1="195.3" x2="106.5" y2="186.2"/><line x1="94.3" y1="68.1" x2="94.9" y2="71.2"/><line x1="62.4" y1="174.4" x2="68.4" y2="167.8"/><line x1="42.4" y1="107.6" x2="49.3" y2="109.7"/><line x1="40.0" y1="104.2" x2="46.5" y2="106.4"/><line x1="48.7" y1="107.3" x2="52.4" y2="108.6"/><line x1="37.0" y1="154.1" x2="46.0" y2="150.5"/><line x1="87.4" y1="191.4" x2="89.2" y2="185.0"/><line x1="49.1" y1="143.5" x2="57.3" y2="141.1"/><line x1="156.8" y1="157.3" x2="152.5" y2="154.8"/><line x1="122.6" y1="183.3" x2="121.5" y2="179.9"/><line x1="47.4" y1="118.2" x2="54.8" y2="119.3"/><line x1="50.3" y1="86.7" x2="55.5" y2="90.4"/><line x1="58.8" y1="87.1" x2="63.6" y2="91.1"/><line x1="83.0" y1="71.7" x2="86.1" y2="79.2"/><line x1="40.6" y1="88.2" x2="46.8" y2="91.9"/><line x1="37.6" y1="105.3" x2="42.4" y2="106.8"/><line x1="60.8" y1="172.8" x2="66.5" y2="167.0"/><line x1="94.1" y1="69.0" x2="95.9" y2="78.5"/><line x1="170.4" y1="119.5" x2="160.5" y2="120.6"/><line x1="59.8" y1="83.3" x2="62.4" y2="85.7"/><line x1="172.4" y1="134.1" x2="164.4" y2="133.3"/><line x1="52.1" y1="79.3" x2="56.6" y2="83.3"/><line x1="102.0" y1="59.2" x2="102.4" y2="66.6"/><line x1="39.6" y1="106.2" x2="46.2" y2="108.2"/><line x1="163.7" y1="164.1" x2="157.0" y2="159.8"/><line x1="37.6" y1="159.8" x2="43.4" y2="157.0"/><line x1="138.4" y1="183.7" x2="135.6" y2="178.9"/><line x1="142.7" y1="190.3" x2="140.6" y2="186.7"/><line x1="91.6" y1="69.9" x2="93.2" y2="76.3"/><line x1="162.3" y1="125.7" x2="153.2" y2="125.8"/><line x1="180.9" y1="129.6" x2="171.5" y2="129.3"/><line x1="40.6" y1="148.6" x2="46.5" y2="146.6"/><line x1="137.6" y1="180.3" x2="134.5" y2="175.1"/><line x1="144.6" y1="84.9" x2="140.0" y2="89.8"/><line x1="39.9" y1="138.7" x2="48.3" y2="137.2"/><line x1="55.3" y1="90.7" x2="63.1" y2="96.3"/><line x1="56.1" y1="91.5" x2="61.6" y2="95.4"/><line x1="143.0" y1="85.4" x2="138.0" y2="90.9"/><line x1="44.5" y1="131.6" x2="48.6" y2="131.2"/><line x1="112.7" y1="190.6" x2="112.1" y2="184.7"/><line x1="56.6" y1="90.7" x2="62.5" y2="95.1"/><line x1="34.7" y1="138.7" x2="43.2" y2="137.3"/><line x1="111.5" y1="202.1" x2="110.9" y2="195.3"/><line x1="74.7" y1="178.7" x2="78.7" y2="171.9"/><line x1="41.4" y1="153.6" x2="45.9" y2="151.8"/><line x1="144.1" y1="80.2" x2="138.3" y2="87.2"/><line x1="46.7" y1="150.7" x2="53.2" y2="148.1"/><line x1="39.6" y1="117.3" x2="46.4" y2="118.3"/><line x1="172.5" y1="105.0" x2="169.1" y2="106.1"/><line x1="160.6" y1="122.6" x2="157.2" y2="122.8"/><line x1="130.7" y1="71.5" x2="129.4" y2="74.5"/><line x1="134.7" y1="185.3" x2="130.7" y2="177.3"/><line x1="163.4" y1="134.1" x2="160.4" y2="133.7"/><line x1="163.6" y1="147.1" x2="157.5" y2="145.0"/><line x1="172.7" y1="113.4" x2="163.9" y2="115.1"/><line x1="43.0" y1="86.8" x2="49.5" y2="90.9"/><line x1="109.4" y1="189.5" x2="109.0" y2="183.1"/><line x1="162.8" y1="174.2" x2="157.8" y2="170.1"/><line x1="125.5" y1="189.0" x2="122.8" y2="180.7"/><line x1="95.5" y1="193.4" x2="96.1" y2="189.8"/><line x1="108.6" y1="185.6" x2="108.2" y2="179.1"/><line x1="82.6" y1="71.6" x2="85.6" y2="78.8"/><line x1="44.7" y1="90.4" x2="53.3" y2="95.5"/><line x1="67.4" y1="192.5" x2="70.5" y2="187.2"/><line x1="46.8" y1="123.2" x2="50.4" y2="123.5"/><line x1="70.5" y1="81.5" x2="72.5" y2="84.1"/><line x1="162.7" y1="160.3" x2="158.9" y2="158.1"/><line x1="99.5" y1="197.7" x2="100.0" y2="191.6"/><line x1="147.1" y1="182.1" x2="141.1" y2="174.2"/><line x1="59.1" y1="82.2" x2="63.9" y2="86.8"/><line x1="84.2" y1="57.4" x2="86.6" y2="65.5"/><line x1="106.2" y1="198.2" x2="106.2" y2="194.5"/><line x1="150.9" y1="174.2" x2="147.9" y2="171.1"/><line x1="48.9" y1="103.9" x2="57.8" y2="107.5"/><line x1="39.5" y1="156.2" x2="48.3" y2="152.2"/><line x1="37.4" y1="147.7" x2="43.6" y2="145.8"/><line x1="58.9" y1="160.8" x2="65.1" y2="156.4"/><line x1="166.6" y1="94.0" x2="162.0" y2="96.5"/><line x1="43.7" y1="117.0" x2="49.4" y2="117.9"/><line x1="113.3" y1="72.2" x2="112.4" y2="78.5"/><line x1="47.5" y1="122.5" x2="55.6" y2="123.1"/><line x1="104.0" y1="190.3" x2="104.1" y2="185.5"/><line x1="53.0" y1="90.0" x2="59.4" y2="94.5"/><line x1="41.7" y1="159.2" x2="47.8" y2="156.1"/><line x1="157.0" y1="166.8" x2="153.3" y2="163.9"/><line x1="83.2" y1="198.3" x2="85.1" y2="192.3"/><line x1="101.3" y1="68.7" x2="101.8" y2="76.1"/><line x1="149.3" y1="167.2" x2="146.5" y2="164.5"/><line x1="178.6" y1="138.3" x2="168.9" y2="136.8"/><line x1="68.1" y1="167.6" x2="73.6" y2="161.6"/><line x1="76.3" y1="79.0" x2="80.6" y2="86.2"/><line x1="160.0" y1="151.4" x2="152.3" y2="148.0"/><line x1="111.9" y1="67.2" x2="111.2" y2="73.8"/><line x1="126.5" y1="62.5" x2="124.4" y2="68.8"/><line x1="127.8" y1="178.6" x2="126.1" y2="174.6"/><line x1="38.7" y1="116.5" x2="44.8" y2="117.4"/><line x1="61.5" y1="76.4" x2="66.5" y2="82.0"/><line x1="43.8" y1="165.4" x2="49.5" y2="161.8"/></g>
<g stroke="#003000" stroke-opacity="0.08" stroke-width="0.5"><line x1="149.1" y1="86.0" x2="143.8" y2="90.9"/><line x1="112.9" y1="72.9" x2="112.1" y2="78.6"/><line x1="106.1" y1="170.6" x2="106.0" y2="164.3"/><line x1="106.0" y1="179.8" x2="105.9" y2="174.1"/><line x1="66.5" y1="95.8" x2="69.8" y2="98.4"/><line x1="87.4" y1="178.3" x2="89.8" y2="171.3"/><line x1="85.4" y1="170.1" x2="87.6" y2="165.3"/><line x1="57.2" y1="149.8" x2="63.3" y2="146.9"/><line x1="111.7" y1="70.6" x2="110.9" y2="77.2"/><line x1="154.7" y1="118.0" x2="149.5" y2="118.9"/><line x1="77.7" y1="88.0" x2="81.9" y2="93.8"/><line x1="60.2" y1="152.5" x2="65.0" y2="149.7"/><line x1="77.7" y1="158.6" x2="80.6" y2="155.3"/><line x1="46.9" y1="135.6" x2="50.6" y2="135.1"/><line x1="154.2" y1="92.7" x2="148.5" y2="96.7"/><line x1="97.6" y1="168.4" x2="99.0" y2="161.1"/><line x1="148.5" y1="146.5" x2="141.5" y2="143.3"/><line x1="79.2" y1="76.4" x2="82.5" y2="82.7"/><line x1="127.7" y1="172.8" x2="126.2" y2="169.6"/><line x1="68.5" y1="161.9" x2="73.7" y2="157.0"/><line x1="92.2" y1="179.2" x2="93.1" y2="175.6"/><line x1="103.6" y1="169.8" x2="103.9" y2="163.9"/><line x1="58.4" y1="98.5" x2="62.8" y2="101.2"/><line x1="156.1" y1="105.5" x2="150.7" y2="107.8"/><line x1="137.1" y1="94.5" x2="134.0" y2="97.7"/><line x1="55.3" y1="110.0" x2="62.7" y2="112.5"/><line x1="87.0" y1="88.1" x2="90.3" y2="95.1"/><line x1="60.7" y1="136.1" x2="67.3" y2="134.7"/><line x1="65.6" y1="85.4" x2="69.6" y2="89.6"/><line x1="103.6" y1="177.2" x2="103.8" y2="171.9"/><line x1="74.0" y1="168.9" x2="76.3" y2="165.8"/><line x1="104.6" y1="170.9" x2="104.6" y2="167.8"/><line x1="50.8" y1="118.0" x2="55.8" y2="118.8"/><line x1="148.7" y1="96.3" x2="143.5" y2="99.9"/><line x1="92.3" y1="183.5" x2="93.4" y2="178.9"/><line x1="131.5" y1="88.5" x2="127.1" y2="94.9"/><line x1="86.9" y1="85.5" x2="89.7" y2="91.6"/><line x1="132.8" y1="167.4" x2="130.0" y2="163.3"/><line x1="80.8" y1="168.6" x2="82.7" y2="165.3"/><line x1="70.0" y1="152.4" x2="75.7" y2="148.3"/><line x1="72.1" y1="170.4" x2="75.2" y2="166.3"/><line x1="162.5" y1="117.6" x2="156.1" y2="118.6"/><line x1="137.0" y1="77.6" x2="132.9" y2="84.1"/><line x1="60.4" y1="154.1" x2="63.2" y2="152.4"/><line x1="73.9" y1="162.9" x2="77.9" y2="158.3"/><line x1="160.9" y1="129.4" x2="157.5" y2="129.2"/><line x1="60.5" y1="150.5" x2="66.9" y2="147.1"/><line x1="75.3" y1="93.8" x2="79.6" y2="98.5"/><line x1="110.4" y1="179.7" x2="109.9" y2="174.6"/><line x1="153.6" y1="113.1" x2="149.4" y2="114.3"/><line x1="83.6" y1="181.9" x2="85.3" y2="177.5"/><line x1="107.7" y1="178.4" x2="107.4" y2="172.0"/><line x1="145.8" y1="111.0" x2="141.5" y2="112.7"/><line x1="96.8" y1="76.6" x2="97.9" y2="83.0"/><line x1="85.5" y1="88.0" x2="86.9" y2="90.9"/><line x1="126.3" y1="169.4" x2="124.6" y2="165.9"/><line x1="95.3" y1="169.7" x2="96.0" y2="166.6"/><line x1="50.4" y1="118.3" x2="54.2" y2="118.9"/><line x1="151.1" y1="157.5" x2="148.3" y2="155.7"/><line x1="137.8" y1="166.0" x2="134.9" y2="162.5"/><line x1="116.5" y1="76.9" x2="115.3" y2="82.4"/><line x1="75.5" y1="157.0" x2="80.5" y2="152.0"/><line x1="61.7" y1="163.2" x2="64.4" y2="160.9"/><line x1="58.3" y1="148.2" x2="61.7" y2="146.6"/><line x1="157.9" y1="153.3" x2="151.1" y2="149.8"/><line x1="157.2" y1="126.8" x2="150.5" y2="126.8"/><line x1="64.7" y1="96.7" x2="67.8" y2="99.0"/><line x1="74.0" y1="87.9" x2="78.0" y2="92.9"/><line x1="151.1" y1="139.1" x2="147.6" y2="138.2"/><line x1="109.5" y1="76.3" x2="109.2" y2="80.8"/><line x1="115.5" y1="76.4" x2="114.6" y2="80.8"/><line x1="72.6" y1="153.1" x2="75.2" y2="151.0"/><line x1="163.1" y1="140.4" x2="155.9" y2="138.7"/><line x1="48.7" y1="110.6" x2="54.2" y2="112.2"/><line x1="87.1" y1="86.9" x2="89.3" y2="91.6"/><line x1="67.6" y1="95.1" x2="72.4" y2="99.1"/><line x1="75.6" y1="171.6" x2="77.9" y2="168.2"/><line x1="55.8" y1="130.1" x2="61.4" y2="129.7"/><line x1="149.0" y1="142.5" x2="142.8" y2="140.3"/><line x1="130.8" y1="170.5" x2="126.8" y2="163.6"/><line x1="62.8" y1="91.7" x2="68.1" y2="96.0"/><line x1="153.4" y1="117.1" x2="148.5" y2="118.1"/><line x1="106.7" y1="84.4" x2="106.5" y2="89.7"/><line x1="98.4" y1="178.3" x2="99.3" y2="171.7"/><line x1="138.3" y1="87.6" x2="134.1" y2="92.6"/><line x1="152.7" y1="152.5" x2="146.0" y2="148.9"/><line x1="67.4" y1="93.1" x2="71.5" y2="96.8"/><line x1="66.9" y1="150.6" x2="70.3" y2="148.5"/><line x1="119.6" y1="77.5" x2="118.7" y2="80.6"/><line x1="62.7" y1="89.1" x2="67.4" y2="93.3"/><line x1="130.5" y1="180.3" x2="128.8" y2="176.8"/><line x1="55.2" y1="124.2" x2="59.0" y2="124.4"/><line x1="100.6" y1="171.9" x2="101.0" y2="168.1"/><line x1="157.2" y1="140.5" x2="151.1" y2="138.9"/><line x1="104.8" y1="185.9" x2="104.9" y2="180.8"/><line x1="48.9" y1="142.7" x2="54.9" y2="141.0"/><line x1="51.2" y1="138.6" x2="57.8" y2="137.2"/><line x1="89.9" y1="167.2" x2="92.3" y2="161.0"/><line x1="104.7" y1="74.0" x2="104.8" y2="77.6"/><line x1="103.8" y1="81.7" x2="104.0" y2="88.7"/><line x1="66.9" y1="89.8" x2="69.3" y2="92.1"/><line x1="68.9" y1="168.2" x2="71.3" y2="165.5"/><line x1="153.4" y1="138.7" x2="146.3" y2="136.9"/><line x1="73.8" y1="93.2" x2="76.1" y2="95.7"/><line x1="135.1" y1="77.9" x2="131.7" y2="83.5"/><line x1="120.3" y1="180.3" x2="119.4" y2="177.4"/><line x1="127.8" y1="169.0" x2="124.1" y2="162.1"/><line x1="149.2" y1="136.7" x2="142.7" y2="135.3"/><line x1="109.0" y1="80.1" x2="108.7" y2="83.5"/><line x1="141.5" y1="79.6" x2="136.9" y2="85.6"/><line x1="65.6" y1="109.2" x2="71.7" y2="112.0"/><line x1="71.7" y1="80.8" x2="75.8" y2="86.3"/><line x1="45.8" y1="125.8" x2="51.1" y2="125.9"/><line x1="55.0" y1="144.6" x2="61.5" y2="142.3"/><line x1="55.2" y1="96.0" x2="58.9" y2="98.2"/><line x1="151.4" y1="91.8" x2="147.6" y2="94.6"/><line x1="157.4" y1="136.2" x2="151.4" y2="135.2"/><line x1="155.8" y1="113.8" x2="149.4" y2="115.4"/><line x1="108.1" y1="81.8" x2="107.7" y2="88.2"/><line x1="62.9" y1="144.1" x2="67.0" y2="142.5"/><line x1="69.5" y1="168.8" x2="73.2" y2="164.4"/><line x1="86.9" y1="165.6" x2="89.9" y2="159.4"/><line x1="106.8" y1="69.8" x2="106.6" y2="76.7"/><line x1="148.8" y1="145.0" x2="143.9" y2="143.0"/><line x1="88.9" y1="181.2" x2="90.0" y2="177.3"/><line x1="155.3" y1="131.4" x2="152.1" y2="131.1"/><line x1="157.5" y1="136.3" x2="151.5" y2="135.2"/><line x1="63.6" y1="115.5" x2="69.2" y2="117.0"/><line x1="58.4" y1="120.0" x2="62.5" y2="120.6"/><line x1="133.7" y1="168.9" x2="131.0" y2="164.9"/><line x1="58.9" y1="99.1" x2="62.6" y2="101.4"/><line x1="68.9" y1="97.7" x2="74.2" y2="101.9"/><line x1="120.4" y1="177.3" x2="118.5" y2="170.9"/><line x1="121.1" y1="77.7" x2="118.8" y2="84.9"/><line x1="161.5" y1="121.9" x2="156.7" y2="122.3"/><line x1="99.9" y1="179.8" x2="100.3" y2="176.2"/><line x1="124.8" y1="166.0" x2="122.0" y2="160.4"/><line x1="60.9" y1="164.9" x2="66.3" y2="160.4"/><line x1="58.2" y1="117.3" x2="62.7" y2="118.2"/><line x1="147.0" y1="141.0" x2="140.1" y2="138.6"/><line x1="92.9" y1="167.0" x2="95.2" y2="159.5"/><line x1="64.6" y1="165.0" x2="68.4" y2="161.4"/><line x1="148.0" y1="118.2" x2="142.7" y2="119.3"/><line x1="79.9" y1="92.9" x2="84.4" y2="99.0"/><line x1="76.8" y1="172.9" x2="78.6" y2="170.0"/><line x1="143.8" y1="147.4" x2="137.7" y2="144.1"/><line x1="160.1" y1="106.0" x2="154.8" y2="108.0"/><line x1="152.4" y1="157.2" x2="147.8" y2="154.2"/><line x1="116.2" y1="74.5" x2="115.0" y2="80.2"/><line x1="126.6" y1="166.0" x2="125.0" y2="163.0"/><line x1="62.4" y1="146.3" x2="69.5" y2="143.1"/><line x1="158.5" y1="143.6" x2="155.0" y2="142.5"/><line x1="152.1" y1="162.2" x2="148.8" y2="159.7"/><line x1="62.0" y1="97.3" x2="66.1" y2="100.1"/><line x1="79.2" y1="162.8" x2="83.0" y2="157.6"/><line x1="68.8" y1="164.9" x2="73.7" y2="159.7"/><line x1="149.5" y1="149.6" x2="145.3" y2="147.4"/><line x1="153.8" y1="104.8" x2="150.2" y2="106.5"/><line x1="64.6" y1="137.7" x2="70.0" y2="136.3"/><line x1="145.7" y1="145.7" x2="140.7" y2="143.3"/><line x1="60.9" y1="116.0" x2="66.6" y2="117.4"/><line x1="84.8" y1="177.4" x2="86.0" y2="174.4"/><line x1="132.6" y1="84.8" x2="130.5" y2="88.0"/><line x1="91.8" y1="178.3" x2="92.7" y2="175.0"/><line x1="144.6" y1="102.7" x2="140.3" y2="105.4"/><line x1="150.5" y1="148.9" x2="143.5" y2="145.5"/><line x1="122.9" y1="168.5" x2="120.7" y2="163.2"/><line x1="77.0" y1="92.5" x2="79.6" y2="95.6"/><line x1="68.7" y1="98.6" x2="71.1" y2="100.5"/><line x1="85.7" y1="72.6" x2="88.1" y2="79.2"/><line x1="133.5" y1="90.6" x2="130.7" y2="94.2"/><line x1="62.5" y1="95.6" x2="67.4" y2="99.2"/><line x1="61.7" y1="111.7" x2="65.7" y2="113.0"/><line x1="142.5" y1="148.6" x2="137.4" y2="145.6"/><line x1="154.9" y1="156.6" x2="148.2" y2="152.6"/><line x1="141.4" y1="174.0" x2="137.7" y2="169.2"/><line x1="154.3" y1="128.6" x2="149.5" y2="128.4"/><line x1="89.7" y1="167.1" x2="91.3" y2="163.1"/><line x1="155.2" y1="132.2" x2="149.8" y2="131.6"/><line x1="112.1" y1="185.0" x2="111.3" y2="177.7"/><line x1="49.0" y1="126.9" x2="53.7" y2="126.9"/><line x1="106.4" y1="70.8" x2="106.3" y2="75.6"/><line x1="102.4" y1="78.6" x2="102.7" y2="82.4"/><line x1="66.9" y1="148.2" x2="72.7" y2="145.0"/><line x1="104.8" y1="177.8" x2="104.9" y2="170.7"/><line x1="57.8" y1="93.0" x2="63.2" y2="96.8"/><line x1="85.9" y1="75.0" x2="88.1" y2="81.1"/><line x1="151.4" y1="101.0" x2="145.9" y2="104.1"/><line x1="56.3" y1="110.9" x2="63.6" y2="113.2"/><line x1="91.3" y1="170.0" x2="93.0" y2="164.8"/><line x1="84.7" y1="177.6" x2="87.0" y2="171.9"/><line x1="151.2" y1="127.4" x2="145.1" y2="127.3"/><line x1="62.3" y1="159.7" x2="66.5" y2="156.5"/><line x1="147.0" y1="161.8" x2="141.0" y2="156.8"/><line x1="149.9" y1="155.8" x2="144.8" y2="152.5"/><line x1="66.6" y1="93.6" x2="70.8" y2="97.2"/><line x1="163.0" y1="122.9" x2="157.8" y2="123.3"/><line x1="126.3" y1="77.0" x2="123.6" y2="83.5"/><line x1="148.7" y1="126.2" x2="144.6" y2="126.3"/><line x1="111.8" y1="183.2" x2="110.9" y2="175.6"/><line x1="112.9" y1="177.0" x2="111.8" y2="169.6"/><line x1="96.3" y1="75.0" x2="97.6" y2="82.4"/><line x1="144.1" y1="106.7" x2="137.2" y2="110.3"/><line x1="91.8" y1="178.1" x2="93.5" y2="171.5"/><line x1="92.5" y1="172.5" x2="94.5" y2="165.3"/><line x1="120.7" y1="69.2" x2="119.8" y2="72.6"/><line x1="66.6" y1="87.4" x2="72.1" y2="92.9"/><line x1="98.2" y1="80.3" x2="98.7" y2="83.8"/><line x1="127.1" y1="168.1" x2="124.3" y2="162.9"/><line x1="85.7" y1="166.9" x2="87.2" y2="163.8"/><line x1="83.1" y1="74.7" x2="84.5" y2="78.0"/><line x1="46.0" y1="121.7" x2="50.8" y2="122.1"/><line x1="50.1" y1="114.6" x2="53.2" y2="115.3"/><line x1="144.5" y1="86.8" x2="139.8" y2="91.5"/><line x1="77.3" y1="169.2" x2="81.6" y2="162.8"/><line x1="145.7" y1="143.1" x2="139.9" y2="140.8"/><line x1="148.1" y1="113.7" x2="144.3" y2="114.8"/><line x1="51.0" y1="140.8" x2="56.6" y2="139.3"/><line x1="82.3" y1="90.6" x2="84.5" y2="94.0"/><line x1="58.1" y1="98.6" x2="61.1" y2="100.4"/><line x1="145.5" y1="152.5" x2="141.3" y2="149.8"/><line x1="82.9" y1="165.8" x2="84.6" y2="162.9"/><line x1="69.2" y1="80.0" x2="73.0" y2="84.9"/><line x1="144.1" y1="105.3" x2="138.8" y2="108.2"/><line x1="67.6" y1="169.8" x2="71.5" y2="165.3"/><line x1="61.3" y1="88.4" x2="67.2" y2="93.5"/><line x1="137.8" y1="164.7" x2="135.6" y2="162.1"/><line x1="62.6" y1="109.8" x2="68.7" y2="112.2"/><line x1="79.5" y1="160.0" x2="84.0" y2="154.2"/><line x1="138.2" y1="160.2" x2="134.3" y2="156.2"/><line x1="157.7" y1="146.4" x2="151.6" y2="144.1"/><line x1="144.7" y1="162.6" x2="142.1" y2="160.1"/><line x1="62.5" y1="118.5" x2="66.8" y2="119.3"/><line x1="56.1" y1="142.7" x2="62.1" y2="140.8"/><line x1="148.5" y1="105.5" x2="144.2" y2="107.6"/><line x1="119.4" y1="180.3" x2="118.2" y2="175.6"/><line x1="116.2" y1="171.0" x2="115.0" y2="166.0"/><line x1="131.2" y1="84.1" x2="127.5" y2="90.1"/><line x1="53.8" y1="136.2" x2="58.0" y2="135.4"/><line x1="59.1" y1="156.5" x2="61.9" y2="154.6"/><line x1="60.8" y1="140.0" x2="65.0" y2="138.8"/><line x1="81.4" y1="165.6" x2="84.5" y2="160.6"/><line x1="150.2" y1="138.4" x2="146.0" y2="137.4"/><line x1="129.3" y1="178.5" x2="126.6" y2="172.7"/><line x1="139.2" y1="98.0" x2="136.2" y2="100.6"/><line x1="85.6" y1="173.9" x2="88.3" y2="167.3"/><line x1="134.5" y1="77.2" x2="133.0" y2="79.9"/><line x1="152.8" y1="135.0" x2="147.7" y2="134.1"/><line x1="153.7" y1="128.7" x2="150.0" y2="128.6"/><line x1="137.5" y1="94.2" x2="134.3" y2="97.4"/><line x1="131.4" y1="177.8" x2="129.8" y2="174.6"/><line x1="62.7" y1="143.8" x2="66.6" y2="142.3"/><line x1="160.2" y1="124.9" x2="153.5" y2="125.2"/><line x1="68.8" y1="173.9" x2="73.6" y2="167.7"/><line x1="75.1" y1="92.1" x2="77.2" y2="94.6"/><line x1="56.6" y1="112.8" x2="63.7" y2="114.8"/><line x1="162.1" y1="126.2" x2="157.9" y2="126.3"/><line x1="158.2" y1="121.7" x2="155.0" y2="122.0"/><line x1="120.9" y1="184.0" x2="119.1" y2="177.3"/><line x1="102.2" y1="73.0" x2="102.4" y2="76.1"/><line x1="149.1" y1="108.5" x2="142.7" y2="111.1"/><line x1="56.2" y1="114.3" x2="61.6" y2="115.7"/><line x1="155.1" y1="98.9" x2="150.8" y2="101.3"/><line x1="132.5" y1="90.7" x2="129.7" y2="94.5"/><line x1="87.0" y1="165.5" x2="89.1" y2="161.0"/><line x1="164.8" y1="127.6" x2="157.7" y2="127.5"/><line x1="62.7" y1="132.4" x2="66.9" y2="131.8"/><line x1="112.1" y1="80.0" x2="111.6" y2="83.4"/><line x1="58.4" y1="150.0" x2="61.6" y2="148.3"/><line x1="68.2" y1="163.1" x2="73.0" y2="158.4"/><line x1="55.5" y1="159.8" x2="59.0" y2="157.4"/><line x1="105.4" y1="83.4" x2="105.4" y2="90.9"/><line x1="62.1" y1="114.2" x2="68.9" y2="116.2"/><line x1="138.3" y1="97.1" x2="132.8" y2="102.1"/><line x1="152.2" y1="114.4" x2="145.5" y2="116.2"/><line x1="95.7" y1="75.5" x2="96.6" y2="80.4"/><line x1="83.5" y1="179.1" x2="86.2" y2="172.7"/><line x1="146.1" y1="112.3" x2="140.6" y2="114.2"/><line x1="92.8" y1="82.7" x2="93.6" y2="85.6"/><line x1="149.4" y1="92.0" x2="144.2" y2="96.1"/><line x1="80.6" y1="170.1" x2="84.1" y2="164.0"/><line x1="151.2" y1="157.3" x2="145.7" y2="153.7"/><line x1="47.8" y1="140.5" x2="53.8" y2="139.0"/><line x1="139.3" y1="96.5" x2="135.5" y2="99.8"/><line x1="92.0" y1="176.0" x2="93.8" y2="169.5"/><line x1="163.7" y1="123.6" x2="156.4" y2="124.0"/><line x1="160.0" y1="118.4" x2="153.3" y2="119.4"/><line x1="146.9" y1="153.5" x2="142.3" y2="150.5"/><line x1="151.4" y1="162.6" x2="147.5" y2="159.6"/><line x1="107.2" y1="170.2" x2="107.0" y2="164.6"/><line x1="74.8" y1="177.3" x2="78.0" y2="172.0"/><line x1="64.8" y1="145.9" x2="67.8" y2="144.5"/><line x1="85.3" y1="77.7" x2="87.4" y2="82.8"/><line x1="56.0" y1="124.9" x2="63.6" y2="125.2"/><line x1="148.8" y1="142.6" x2="142.2" y2="140.2"/><line x1="86.3" y1="170.8" x2="88.3" y2="166.1"/><line x1="89.5" y1="180.2" x2="90.5" y2="176.8"/><line x1="53.9" y1="108.0" x2="58.3" y2="109.6"/><line x1="99.2" y1="78.8" x2="99.9" y2="84.9"/><line x1="143.6" y1="155.4" x2="138.9" y2="151.9"/></g>
<g stroke="#000" stroke-opacity="0.5" stroke-width="1"><line x1="34" y1="230" x2="34" y2="228"/><line x1="2" y1="55" x2="4" y2="55"/><line x1="208" y1="55" x2="206" y2="55"/><line x1="70" y1="230" x2="70" y2="228"/><line x1="2" y1="91" x2="4" y2="91"/><line x1="208" y1="91" x2="206" y2="91"/><line x1="106" y1="230" x2="106" y2="228"/><line x1="2" y1="127" x2="4" y2="127"/><line x1="208" y1="127" x2="206" y2="127"/><line x1="142" y1="230" x2="142" y2="228"/><line x1="2" y1="163" x2="4" y2="163"/><line x1="208" y1="163" x2="206" y2="163"/><line x1="178" y1="230" x2="178" y2="228"/><line x1="2" y1="199" x2="4" y2="199"/><line x1="208" y1="199" x2="206" y2="199"/></g>
<rect x="2.5" y="24.5" width="205" height="205" fill="none" stroke="#7a8a7a" stroke-opacity="0.6" stroke-width="1"/>
</g>
<rect x="214.5" y="26.5" width="16" height="203" fill="url(#cm)" stroke="#777" stroke-width="1"/>
<line x1="228.5" y1="33.68" x2="230.5" y2="33.68" stroke="#444" stroke-width="0.8"/>
<text x="234.33" y="37.58" font-size="11.5" fill="#222">50</text>
<line x1="228.5" y1="59.72" x2="230.5" y2="59.72" stroke="#444" stroke-width="0.8"/>
<text x="234.78" y="63.62" font-size="11.5" fill="#222">40</text>
<line x1="228.5" y1="85.75" x2="230.5" y2="85.75" stroke="#444" stroke-width="0.8"/>
<text x="234.45" y="89.65" font-size="11.5" fill="#222">30</text>
<line x1="228.5" y1="111.79" x2="230.5" y2="111.79" stroke="#444" stroke-width="0.8"/>
<text x="234.49" y="115.69" font-size="11.5" fill="#222">20</text>
<line x1="228.5" y1="137.83" x2="230.5" y2="137.83" stroke="#444" stroke-width="0.8"/>
<text x="233.99" y="141.73" font-size="11.5" fill="#222">10</text>
<line x1="228.5" y1="163.87" x2="230.5" y2="163.87" stroke="#444" stroke-width="0.8"/>
<text x="234.56" y="167.77" font-size="11.5" fill="#222">0</text>
<line x1="228.5" y1="189.90" x2="230.5" y2="189.90" stroke="#444" stroke-width="0.8"/>
<text x="234.57" y="193.80" font-size="11.5" fill="#222">-10</text>
<line x1="228.5" y1="215.94" x2="230.5" y2="215.94" stroke="#444" stroke-width="0.8"/>
<text x="234.57" y="219.84" font-size="11.5" fill="#222">-20</text>
<rect x="263" y="0" width="206" height="24" fill="#000"/>
<rect x="263" y="0" width="206" height="1" fill="#555"/>
<g clip-path="url(#clipb)">
<rect x="263" y="24" width="206" height="205" fill="url(#rgb)"/>
<g stroke="#e0ffe0" stroke-opacity="0.16" stroke-width="0.5"><line x1="435.5" y1="107.1" x2="433.5" y2="107.6"/><line x1="438.3" y1="125.4" x2="435.7" y2="125.4"/><line x1="322.2" y1="65.7" x2="325.9" y2="70.9"/><line x1="374.1" y1="203.2" x2="373.7" y2="199.7"/><line x1="302.8" y1="79.9" x2="307.1" y2="83.2"/><line x1="432.9" y1="90.9" x2="430.9" y2="91.9"/><line x1="420.7" y1="74.8" x2="418.1" y2="77.2"/><line x1="393.5" y1="197.7" x2="391.7" y2="193.1"/><line x1="436.1" y1="96.9" x2="429.8" y2="99.5"/><line x1="295.5" y1="95.2" x2="300.2" y2="97.2"/><line x1="361.1" y1="203.6" x2="361.3" y2="200.1"/><line x1="380.3" y1="49.8" x2="379.3" y2="54.9"/><line x1="413.4" y1="186.0" x2="410.1" y2="181.8"/><line x1="393.9" y1="192.4" x2="392.1" y2="188.1"/><line x1="441.2" y1="141.6" x2="436.7" y2="140.7"/><line x1="291.2" y1="117.9" x2="296.5" y2="118.5"/><line x1="429.1" y1="89.0" x2="425.8" y2="90.9"/><line x1="301.1" y1="89.4" x2="305.5" y2="91.9"/><line x1="293.3" y1="106.0" x2="298.5" y2="107.5"/><line x1="293.8" y1="113.2" x2="300.7" y2="114.4"/><line x1="319.2" y1="184.7" x2="321.7" y2="181.6"/><line x1="435.4" y1="92.7" x2="431.3" y2="94.6"/><line x1="306.3" y1="168.4" x2="311.6" y2="164.6"/><line x1="400.9" y1="192.3" x2="399.1" y2="189.0"/><line x1="330.2" y1="191.4" x2="331.6" y2="188.7"/><line x1="438.4" y1="143.3" x2="432.6" y2="141.9"/><line x1="321.1" y1="67.6" x2="324.4" y2="71.9"/><line x1="435.7" y1="149.9" x2="429.9" y2="148.0"/><line x1="430.9" y1="90.4" x2="425.5" y2="93.4"/><line x1="290.1" y1="126.7" x2="295.0" y2="126.6"/><line x1="441.5" y1="121.8" x2="437.2" y2="122.1"/><line x1="354.4" y1="50.9" x2="354.9" y2="54.6"/><line x1="381.6" y1="50.8" x2="380.5" y2="55.8"/><line x1="432.7" y1="100.6" x2="428.5" y2="102.2"/><line x1="316.1" y1="70.6" x2="318.0" y2="72.7"/><line x1="338.6" y1="56.3" x2="339.8" y2="59.4"/><line x1="440.3" y1="146.2" x2="436.7" y2="145.3"/><line x1="419.2" y1="175.5" x2="416.8" y2="173.3"/><line x1="413.9" y1="71.5" x2="411.7" y2="74.1"/><line x1="426.5" y1="169.0" x2="424.0" y2="167.2"/><line x1="322.6" y1="189.4" x2="326.3" y2="183.9"/><line x1="401.6" y1="63.6" x2="399.7" y2="67.0"/><line x1="407.2" y1="67.3" x2="405.5" y2="69.8"/><line x1="291.1" y1="130.7" x2="296.8" y2="130.3"/><line x1="350.3" y1="52.7" x2="351.0" y2="55.9"/><line x1="374.1" y1="199.1" x2="373.8" y2="196.8"/><line x1="328.4" y1="63.0" x2="331.6" y2="68.6"/><line x1="321.2" y1="68.6" x2="323.9" y2="72.1"/><line x1="307.7" y1="82.2" x2="311.3" y2="84.9"/><line x1="440.5" y1="140.3" x2="438.5" y2="139.9"/><line x1="312.6" y1="68.5" x2="316.8" y2="73.1"/><line x1="373.1" y1="200.8" x2="372.8" y2="198.1"/><line x1="322.9" y1="190.6" x2="326.2" y2="185.5"/><line x1="439.4" y1="130.2" x2="434.2" y2="129.9"/><line x1="399.9" y1="194.5" x2="396.9" y2="188.8"/><line x1="294.9" y1="102.5" x2="300.8" y2="104.4"/><line x1="292.3" y1="120.1" x2="295.7" y2="120.4"/><line x1="406.8" y1="190.8" x2="404.4" y2="187.0"/><line x1="339.9" y1="53.4" x2="342.2" y2="59.9"/><line x1="392.4" y1="195.3" x2="390.1" y2="189.4"/><line x1="370.7" y1="51.9" x2="370.3" y2="57.1"/><line x1="389.9" y1="194.7" x2="389.2" y2="192.5"/><line x1="311.8" y1="176.4" x2="315.1" y2="173.2"/><line x1="436.8" y1="112.1" x2="432.1" y2="113.0"/><line x1="415.1" y1="69.2" x2="412.0" y2="72.7"/><line x1="373.2" y1="54.3" x2="372.5" y2="61.0"/><line x1="335.3" y1="55.2" x2="337.7" y2="60.8"/><line x1="424.2" y1="168.0" x2="421.8" y2="166.4"/><line x1="287.6" y1="123.7" x2="294.1" y2="123.9"/><line x1="300.8" y1="165.8" x2="305.6" y2="162.8"/><line x1="326.7" y1="193.6" x2="330.0" y2="187.8"/><line x1="354.0" y1="49.4" x2="354.9" y2="55.3"/><line x1="322.6" y1="65.6" x2="324.5" y2="68.4"/><line x1="370.4" y1="198.2" x2="370.0" y2="191.5"/><line x1="343.6" y1="194.8" x2="344.7" y2="191.4"/><line x1="424.7" y1="171.1" x2="421.8" y2="168.9"/><line x1="399.0" y1="192.8" x2="397.1" y2="189.2"/><line x1="318.4" y1="187.0" x2="320.6" y2="184.2"/><line x1="290.5" y1="106.2" x2="297.1" y2="107.9"/><line x1="314.2" y1="177.2" x2="319.0" y2="172.4"/><line x1="292.2" y1="119.5" x2="294.8" y2="119.7"/><line x1="370.3" y1="199.7" x2="370.1" y2="197.0"/><line x1="439.5" y1="149.6" x2="433.7" y2="147.8"/><line x1="421.9" y1="174.9" x2="417.3" y2="171.0"/><line x1="292.8" y1="124.0" x2="296.5" y2="124.1"/><line x1="308.5" y1="178.8" x2="312.1" y2="175.5"/><line x1="291.9" y1="145.3" x2="294.1" y2="144.7"/><line x1="335.2" y1="55.2" x2="337.3" y2="60.2"/><line x1="317.9" y1="182.5" x2="319.2" y2="181.0"/><line x1="428.7" y1="161.9" x2="424.9" y2="159.8"/><line x1="378.2" y1="53.9" x2="377.4" y2="58.1"/><line x1="315.4" y1="68.9" x2="316.8" y2="70.5"/><line x1="431.5" y1="89.9" x2="428.4" y2="91.5"/><line x1="370.3" y1="202.0" x2="369.9" y2="195.3"/><line x1="326.4" y1="189.5" x2="328.9" y2="185.4"/><line x1="399.0" y1="192.3" x2="396.0" y2="186.4"/><line x1="293.0" y1="99.3" x2="296.1" y2="100.5"/><line x1="417.2" y1="69.7" x2="415.1" y2="72.0"/><line x1="290.5" y1="111.7" x2="295.2" y2="112.7"/><line x1="306.3" y1="82.1" x2="310.1" y2="85.0"/><line x1="318.3" y1="186.8" x2="320.7" y2="183.7"/><line x1="440.1" y1="116.3" x2="436.9" y2="116.7"/><line x1="302.4" y1="162.8" x2="307.3" y2="159.9"/><line x1="437.7" y1="147.5" x2="434.3" y2="146.5"/><line x1="377.5" y1="54.3" x2="376.6" y2="59.6"/><line x1="348.7" y1="54.5" x2="349.3" y2="57.1"/><line x1="312.4" y1="180.5" x2="314.7" y2="178.1"/><line x1="439.7" y1="130.1" x2="433.7" y2="129.8"/><line x1="407.7" y1="191.0" x2="405.2" y2="187.2"/><line x1="403.9" y1="187.4" x2="401.8" y2="184.2"/><line x1="292.9" y1="136.8" x2="295.3" y2="136.4"/><line x1="291.7" y1="125.4" x2="295.9" y2="125.5"/><line x1="292.6" y1="149.2" x2="297.3" y2="147.7"/><line x1="375.1" y1="198.4" x2="374.3" y2="192.2"/><line x1="434.3" y1="148.7" x2="432.1" y2="148.0"/><line x1="399.9" y1="59.2" x2="396.9" y2="65.1"/><line x1="313.3" y1="73.2" x2="316.2" y2="76.2"/><line x1="357.1" y1="53.1" x2="357.8" y2="59.0"/><line x1="304.8" y1="165.7" x2="307.9" y2="163.6"/><line x1="297.5" y1="99.0" x2="303.6" y2="101.5"/><line x1="432.3" y1="92.4" x2="426.5" y2="95.3"/><line x1="337.5" y1="56.1" x2="338.5" y2="58.7"/><line x1="439.3" y1="103.4" x2="435.3" y2="104.6"/><line x1="310.9" y1="174.0" x2="314.7" y2="170.6"/><line x1="410.7" y1="67.2" x2="408.6" y2="70.0"/><line x1="307.0" y1="76.0" x2="309.1" y2="77.8"/><line x1="349.9" y1="200.3" x2="350.3" y2="198.1"/><line x1="395.3" y1="58.5" x2="392.8" y2="64.1"/><line x1="295.1" y1="146.4" x2="297.1" y2="145.8"/><line x1="420.9" y1="174.0" x2="416.5" y2="170.3"/><line x1="385.9" y1="53.1" x2="384.9" y2="56.5"/><line x1="325.9" y1="60.5" x2="327.9" y2="63.8"/><line x1="430.4" y1="162.7" x2="427.7" y2="161.2"/><line x1="393.2" y1="194.9" x2="392.3" y2="192.7"/><line x1="424.2" y1="81.9" x2="419.0" y2="85.8"/><line x1="359.5" y1="54.2" x2="360.0" y2="60.6"/><line x1="392.6" y1="56.0" x2="390.3" y2="62.0"/><line x1="293.7" y1="135.8" x2="296.4" y2="135.4"/><line x1="336.5" y1="197.6" x2="338.8" y2="191.9"/><line x1="419.9" y1="176.0" x2="418.0" y2="174.3"/><line x1="375.2" y1="199.4" x2="374.7" y2="195.4"/><line x1="409.9" y1="187.4" x2="408.0" y2="184.8"/><line x1="422.9" y1="78.3" x2="419.7" y2="80.9"/><line x1="372.5" y1="52.3" x2="372.2" y2="55.6"/><line x1="418.2" y1="177.4" x2="415.9" y2="175.1"/><line x1="358.3" y1="52.2" x2="358.8" y2="57.7"/><line x1="353.6" y1="197.5" x2="354.2" y2="194.0"/><line x1="304.7" y1="174.4" x2="307.0" y2="172.5"/><line x1="382.6" y1="196.8" x2="381.8" y2="193.7"/><line x1="440.4" y1="106.9" x2="437.4" y2="107.6"/><line x1="436.5" y1="149.1" x2="431.8" y2="147.6"/><line x1="422.1" y1="174.1" x2="417.7" y2="170.3"/><line x1="441.5" y1="126.6" x2="436.1" y2="126.6"/><line x1="382.2" y1="53.0" x2="381.2" y2="57.2"/><line x1="292.9" y1="117.5" x2="297.4" y2="118.1"/><line x1="370.1" y1="199.8" x2="369.9" y2="197.5"/><line x1="404.5" y1="186.7" x2="402.0" y2="182.8"/><line x1="371.7" y1="201.1" x2="371.3" y2="196.6"/><line x1="373.0" y1="198.3" x2="372.4" y2="193.4"/><line x1="331.3" y1="57.8" x2="333.3" y2="61.9"/><line x1="302.0" y1="91.2" x2="305.1" y2="92.9"/><line x1="388.4" y1="55.5" x2="387.6" y2="57.9"/><line x1="297.5" y1="162.7" x2="299.7" y2="161.5"/><line x1="422.4" y1="174.5" x2="417.6" y2="170.3"/><line x1="308.5" y1="172.7" x2="313.0" y2="169.0"/><line x1="426.4" y1="167.2" x2="422.3" y2="164.4"/><line x1="410.3" y1="63.4" x2="408.2" y2="66.3"/><line x1="357.6" y1="199.8" x2="357.9" y2="197.2"/><line x1="354.3" y1="201.8" x2="355.3" y2="195.0"/><line x1="356.0" y1="197.9" x2="356.8" y2="192.2"/><line x1="440.2" y1="109.8" x2="436.3" y2="110.7"/><line x1="362.3" y1="49.5" x2="362.6" y2="55.2"/><line x1="287.3" y1="129.5" x2="293.2" y2="129.3"/><line x1="372.2" y1="200.3" x2="372.0" y2="197.8"/><line x1="310.9" y1="180.5" x2="314.1" y2="177.4"/><line x1="289.4" y1="114.4" x2="291.8" y2="114.7"/><line x1="319.8" y1="185.6" x2="322.5" y2="182.0"/><line x1="334.3" y1="54.8" x2="336.7" y2="60.3"/><line x1="292.2" y1="104.5" x2="296.7" y2="105.9"/><line x1="440.5" y1="119.5" x2="435.5" y2="119.9"/><line x1="306.1" y1="171.3" x2="310.7" y2="167.8"/><line x1="311.2" y1="181.5" x2="315.1" y2="177.4"/><line x1="438.4" y1="104.8" x2="433.8" y2="106.1"/><line x1="316.9" y1="179.5" x2="320.4" y2="175.6"/><line x1="365.8" y1="49.7" x2="365.8" y2="55.5"/><line x1="439.4" y1="143.0" x2="436.1" y2="142.2"/><line x1="306.2" y1="175.7" x2="309.2" y2="173.2"/><line x1="294.5" y1="140.9" x2="297.3" y2="140.3"/><line x1="383.3" y1="197.0" x2="382.2" y2="192.5"/><line x1="434.5" y1="147.4" x2="432.2" y2="146.6"/><line x1="357.2" y1="48.6" x2="357.8" y2="54.3"/><line x1="292.7" y1="119.2" x2="298.6" y2="119.8"/><line x1="415.0" y1="178.7" x2="411.8" y2="175.4"/><line x1="413.1" y1="69.8" x2="409.0" y2="74.6"/><line x1="326.8" y1="193.7" x2="329.6" y2="188.7"/><line x1="416.7" y1="67.5" x2="412.7" y2="72.1"/><line x1="390.1" y1="196.9" x2="388.5" y2="192.4"/><line x1="352.5" y1="53.7" x2="353.4" y2="58.5"/><line x1="349.6" y1="197.4" x2="350.5" y2="193.3"/><line x1="390.1" y1="54.9" x2="388.8" y2="58.5"/><line x1="376.4" y1="199.3" x2="375.8" y2="195.4"/><line x1="355.2" y1="199.2" x2="355.6" y2="196.1"/><line x1="344.4" y1="199.1" x2="345.8" y2="194.2"/><line x1="310.9" y1="70.6" x2="314.6" y2="74.4"/><line x1="416.1" y1="180.3" x2="413.0" y2="176.9"/><line x1="363.5" y1="50.8" x2="363.5" y2="53.3"/><line x1="290.1" y1="137.4" x2="296.0" y2="136.5"/><line x1="296.1" y1="150.4" x2="298.2" y2="149.7"/><line x1="288.7" y1="124.5" x2="291.3" y2="124.6"/><line x1="290.4" y1="115.1" x2="295.2" y2="115.8"/><line x1="373.6" y1="198.1" x2="373.3" y2="196.0"/><line x1="338.9" y1="198.8" x2="340.3" y2="194.9"/><line x1="441.9" y1="119.7" x2="437.0" y2="120.1"/><line x1="295.1" y1="153.8" x2="300.9" y2="151.5"/><line x1="328.3" y1="188.9" x2="331.6" y2="183.3"/><line x1="314.7" y1="71.5" x2="317.4" y2="74.5"/><line x1="425.9" y1="170.8" x2="421.1" y2="167.2"/><line x1="289.0" y1="126.7" x2="294.7" y2="126.6"/><line x1="328.3" y1="192.2" x2="331.6" y2="186.2"/><line x1="349.5" y1="54.6" x2="350.6" y2="59.8"/><line x1="318.1" y1="65.5" x2="321.5" y2="69.9"/><line x1="431.6" y1="85.3" x2="429.0" y2="86.9"/><line x1="293.5" y1="135.3" x2="300.4" y2="134.4"/><line x1="423.7" y1="172.3" x2="419.7" y2="169.1"/><line x1="299.3" y1="157.4" x2="303.4" y2="155.5"/><line x1="377.7" y1="199.9" x2="376.8" y2="194.4"/><line x1="342.5" y1="197.2" x2="344.1" y2="192.2"/><line x1="289.9" y1="110.7" x2="296.3" y2="112.0"/><line x1="436.6" y1="111.0" x2="432.3" y2="111.9"/><line x1="421.4" y1="177.5" x2="418.4" y2="174.8"/><line x1="409.0" y1="65.3" x2="405.5" y2="70.1"/><line x1="439.5" y1="140.6" x2="435.5" y2="139.8"/><line x1="401.3" y1="63.0" x2="400.1" y2="65.1"/><line x1="337.0" y1="57.6" x2="338.6" y2="61.5"/><line x1="301.0" y1="170.2" x2="305.2" y2="167.2"/><line x1="403.4" y1="59.1" x2="400.3" y2="64.6"/><line x1="295.5" y1="150.0" x2="299.8" y2="148.5"/><line x1="426.1" y1="78.4" x2="422.6" y2="81.1"/><line x1="429.0" y1="83.7" x2="427.2" y2="84.9"/><line x1="313.9" y1="68.9" x2="315.4" y2="70.5"/><line x1="310.7" y1="178.8" x2="314.0" y2="175.6"/><line x1="293.9" y1="112.4" x2="297.2" y2="113.0"/><line x1="415.5" y1="71.6" x2="412.5" y2="74.8"/><line x1="303.1" y1="86.4" x2="306.5" y2="88.6"/><line x1="288.0" y1="123.3" x2="294.2" y2="123.5"/><line x1="398.5" y1="193.2" x2="395.9" y2="188.1"/><line x1="425.1" y1="80.5" x2="420.9" y2="83.6"/><line x1="318.8" y1="65.8" x2="322.8" y2="70.9"/><line x1="442.8" y1="118.9" x2="440.2" y2="119.1"/><line x1="349.8" y1="53.3" x2="350.5" y2="56.6"/><line x1="427.9" y1="171.4" x2="422.7" y2="167.7"/><line x1="291.4" y1="112.6" x2="294.4" y2="113.1"/><line x1="433.9" y1="92.2" x2="431.3" y2="93.5"/><line x1="295.5" y1="91.1" x2="298.5" y2="92.5"/><line x1="313.4" y1="179.1" x2="316.1" y2="176.3"/><line x1="421.2" y1="177.0" x2="418.9" y2="174.8"/><line x1="333.5" y1="58.2" x2="336.2" y2="63.9"/><line x1="363.6" y1="48.9" x2="363.6" y2="51.6"/><line x1="386.4" y1="52.3" x2="385.4" y2="55.7"/><line x1="437.8" y1="126.4" x2="431.9" y2="126.4"/><line x1="436.2" y1="111.6" x2="433.0" y2="112.2"/><line x1="306.0" y1="167.8" x2="310.3" y2="164.8"/><line x1="413.5" y1="66.0" x2="411.7" y2="68.2"/><line x1="430.1" y1="85.1" x2="427.7" y2="86.6"/><line x1="412.1" y1="64.2" x2="408.2" y2="69.3"/><line x1="365.7" y1="49.1" x2="365.7" y2="53.8"/><line x1="441.2" y1="130.2" x2="436.7" y2="129.9"/><line x1="408.6" y1="184.4" x2="404.8" y2="179.3"/><line x1="424.8" y1="85.1" x2="423.1" y2="86.2"/><line x1="341.4" y1="56.2" x2="343.5" y2="62.2"/><line x1="291.1" y1="143.9" x2="293.2" y2="143.4"/><line x1="377.3" y1="53.8" x2="376.7" y2="57.9"/><line x1="291.5" y1="132.5" x2="294.7" y2="132.2"/><line x1="296.8" y1="149.3" x2="299.4" y2="148.4"/><line x1="417.9" y1="182.3" x2="415.5" y2="179.7"/><line x1="442.2" y1="118.2" x2="439.4" y2="118.5"/><line x1="413.3" y1="64.7" x2="410.7" y2="68.0"/><line x1="289.6" y1="134.0" x2="294.0" y2="133.6"/><line x1="359.0" y1="202.1" x2="359.2" y2="199.1"/><line x1="311.3" y1="173.9" x2="314.0" y2="171.5"/><line x1="390.4" y1="57.7" x2="389.3" y2="60.4"/><line x1="306.8" y1="171.1" x2="308.4" y2="169.8"/><line x1="434.2" y1="150.5" x2="428.6" y2="148.5"/><line x1="377.9" y1="50.2" x2="377.0" y2="55.6"/><line x1="438.7" y1="125.1" x2="433.2" y2="125.2"/><line x1="291.3" y1="150.3" x2="295.3" y2="149.0"/><line x1="352.6" y1="50.4" x2="353.7" y2="57.1"/><line x1="372.1" y1="52.4" x2="371.6" y2="57.6"/><line x1="387.6" y1="51.7" x2="386.7" y2="54.8"/><line x1="355.8" y1="50.3" x2="356.1" y2="53.0"/><line x1="420.4" y1="177.3" x2="416.8" y2="173.9"/><line x1="329.3" y1="192.7" x2="330.6" y2="190.2"/><line x1="297.7" y1="92.9" x2="303.2" y2="95.6"/><line x1="351.7" y1="54.8" x2="352.6" y2="59.5"/><line x1="417.7" y1="179.8" x2="413.9" y2="175.9"/><line x1="344.7" y1="56.9" x2="346.1" y2="61.4"/><line x1="399.4" y1="192.8" x2="397.4" y2="188.8"/><line x1="288.8" y1="131.7" x2="292.3" y2="131.4"/><line x1="292.5" y1="136.8" x2="295.5" y2="136.4"/><line x1="315.9" y1="72.2" x2="319.9" y2="76.7"/><line x1="314.0" y1="177.5" x2="318.1" y2="173.3"/><line x1="438.3" y1="135.8" x2="433.1" y2="135.1"/><line x1="441.0" y1="133.6" x2="436.2" y2="133.1"/><line x1="438.2" y1="114.9" x2="432.2" y2="115.8"/><line x1="439.6" y1="116.8" x2="437.3" y2="117.1"/><line x1="323.5" y1="190.6" x2="324.5" y2="188.9"/><line x1="314.9" y1="70.2" x2="318.7" y2="74.4"/><line x1="312.0" y1="182.5" x2="313.8" y2="180.6"/><line x1="301.3" y1="163.0" x2="305.4" y2="160.6"/><line x1="380.4" y1="198.8" x2="379.5" y2="194.6"/><line x1="429.0" y1="92.4" x2="426.0" y2="94.0"/><line x1="410.9" y1="187.1" x2="407.4" y2="182.4"/><line x1="441.5" y1="133.8" x2="435.1" y2="133.2"/><line x1="291.7" y1="143.4" x2="297.5" y2="142.1"/><line x1="431.0" y1="93.6" x2="426.0" y2="96.1"/><line x1="430.4" y1="161.4" x2="424.7" y2="158.2"/><line x1="313.0" y1="71.8" x2="316.0" y2="74.9"/><line x1="295.7" y1="145.6" x2="300.3" y2="144.3"/><line x1="433.0" y1="99.7" x2="431.0" y2="100.5"/><line x1="310.7" y1="71.7" x2="313.7" y2="74.6"/><line x1="430.8" y1="164.1" x2="426.2" y2="161.5"/><line x1="373.7" y1="202.4" x2="373.2" y2="197.7"/><line x1="381.8" y1="54.5" x2="381.0" y2="58.2"/><line x1="325.6" y1="61.1" x2="328.8" y2="66.4"/><line x1="436.7" y1="99.4" x2="434.8" y2="100.1"/><line x1="291.0" y1="142.3" x2="296.7" y2="141.0"/><line x1="336.8" y1="192.5" x2="338.7" y2="188.0"/><line x1="391.5" y1="196.3" x2="390.4" y2="193.4"/><line x1="417.4" y1="76.1" x2="413.9" y2="79.4"/><line x1="420.1" y1="73.6" x2="418.1" y2="75.5"/><line x1="291.7" y1="103.3" x2="296.6" y2="104.8"/><line x1="429.1" y1="83.3" x2="425.9" y2="85.4"/><line x1="419.5" y1="179.4" x2="416.4" y2="176.3"/><line x1="396.1" y1="58.0" x2="393.8" y2="63.1"/><line x1="412.5" y1="186.1" x2="408.6" y2="181.2"/><line x1="393.5" y1="54.8" x2="391.5" y2="59.7"/><line x1="400.6" y1="191.0" x2="398.9" y2="188.0"/><line x1="345.5" y1="198.9" x2="346.5" y2="195.2"/><line x1="323.1" y1="61.1" x2="326.9" y2="66.9"/><line x1="440.8" y1="127.8" x2="435.9" y2="127.7"/><line x1="295.6" y1="157.6" x2="301.4" y2="154.9"/><line x1="367.5" y1="201.8" x2="367.5" y2="199.0"/><line x1="296.2" y1="153.2" x2="301.9" y2="150.9"/><line x1="430.5" y1="84.8" x2="426.6" y2="87.3"/><line x1="346.4" y1="52.5" x2="347.6" y2="57.0"/><line x1="413.5" y1="181.6" x2="409.0" y2="176.5"/><line x1="305.1" y1="85.1" x2="308.3" y2="87.2"/><line x1="413.8" y1="180.2" x2="411.1" y2="177.3"/><line x1="346.5" y1="195.6" x2="347.6" y2="191.3"/><line x1="432.6" y1="93.6" x2="429.0" y2="95.4"/><line x1="311.1" y1="175.9" x2="313.7" y2="173.4"/><line x1="390.7" y1="196.1" x2="388.5" y2="189.9"/><line x1="313.8" y1="183.7" x2="316.8" y2="180.4"/><line x1="316.2" y1="69.4" x2="318.8" y2="72.4"/><line x1="421.9" y1="76.1" x2="419.7" y2="78.1"/><line x1="339.2" y1="195.7" x2="340.9" y2="191.2"/><line x1="312.5" y1="177.3" x2="315.0" y2="174.9"/><line x1="441.6" y1="122.9" x2="435.3" y2="123.1"/><line x1="422.8" y1="81.4" x2="419.1" y2="84.2"/><line x1="353.0" y1="52.1" x2="353.7" y2="56.7"/><line x1="314.2" y1="69.9" x2="316.2" y2="72.0"/><line x1="434.6" y1="150.7" x2="432.5" y2="149.9"/><line x1="338.9" y1="193.3" x2="339.8" y2="190.9"/><line x1="324.8" y1="65.0" x2="327.8" y2="69.7"/><line x1="297.9" y1="163.4" x2="302.1" y2="161.1"/><line x1="416.8" y1="72.2" x2="413.9" y2="75.1"/><line x1="433.8" y1="93.0" x2="430.0" y2="94.8"/><line x1="418.0" y1="70.8" x2="414.4" y2="74.6"/><line x1="441.4" y1="139.3" x2="438.9" y2="138.9"/><line x1="438.8" y1="133.8" x2="435.9" y2="133.5"/><line x1="369.3" y1="200.8" x2="369.1" y2="196.3"/><line x1="332.4" y1="56.1" x2="334.7" y2="61.1"/><line x1="414.9" y1="70.4" x2="413.1" y2="72.5"/><line x1="346.0" y1="50.4" x2="346.7" y2="53.2"/><line x1="309.1" y1="77.3" x2="314.3" y2="81.8"/><line x1="438.5" y1="141.3" x2="434.8" y2="140.5"/><line x1="313.1" y1="182.0" x2="314.5" y2="180.5"/><line x1="352.8" y1="202.8" x2="353.5" y2="198.6"/><line x1="440.6" y1="132.5" x2="435.4" y2="132.1"/><line x1="434.8" y1="92.4" x2="428.8" y2="95.4"/><line x1="358.4" y1="199.6" x2="358.9" y2="194.1"/><line x1="323.1" y1="187.2" x2="324.3" y2="185.3"/><line x1="388.4" y1="195.0" x2="387.2" y2="191.3"/><line x1="342.9" y1="56.3" x2="344.0" y2="59.6"/><line x1="429.9" y1="162.9" x2="425.6" y2="160.4"/><line x1="304.1" y1="81.1" x2="307.8" y2="83.8"/><line x1="339.6" y1="53.6" x2="341.6" y2="59.4"/><line x1="442.8" y1="126.3" x2="438.4" y2="126.3"/><line x1="441.7" y1="122.6" x2="437.4" y2="122.8"/><line x1="434.8" y1="146.4" x2="429.2" y2="144.8"/><line x1="437.4" y1="129.1" x2="431.9" y2="128.8"/><line x1="305.7" y1="78.6" x2="307.6" y2="80.0"/><line x1="439.1" y1="106.2" x2="437.1" y2="106.8"/><line x1="298.3" y1="94.6" x2="301.1" y2="95.9"/><line x1="306.4" y1="74.9" x2="308.0" y2="76.3"/><line x1="391.4" y1="53.0" x2="390.6" y2="55.3"/><line x1="422.8" y1="82.6" x2="419.9" y2="84.8"/><line x1="437.5" y1="136.7" x2="434.7" y2="136.3"/><line x1="296.1" y1="97.8" x2="302.4" y2="100.4"/><line x1="367.6" y1="53.6" x2="367.5" y2="55.9"/><line x1="351.3" y1="201.6" x2="352.4" y2="195.7"/><line x1="405.8" y1="60.4" x2="402.9" y2="65.2"/><line x1="293.4" y1="98.0" x2="299.1" y2="100.2"/><line x1="397.1" y1="55.6" x2="395.1" y2="59.8"/><line x1="430.0" y1="165.3" x2="425.3" y2="162.4"/><line x1="437.8" y1="101.8" x2="431.6" y2="103.9"/><line x1="428.3" y1="87.4" x2="422.6" y2="90.9"/><line x1="297.6" y1="94.5" x2="301.4" y2="96.3"/><line x1="290.7" y1="127.6" x2="296.3" y2="127.5"/><line x1="362.2" y1="200.6" x2="362.4" y2="195.3"/><line x1="440.3" y1="111.9" x2="435.6" y2="112.8"/><line x1="311.5" y1="179.8" x2="316.2" y2="175.1"/><line x1="439.1" y1="134.2" x2="435.7" y2="133.8"/><line x1="377.3" y1="51.0" x2="377.0" y2="53.0"/><line x1="424.6" y1="81.1" x2="422.4" y2="82.7"/><line x1="424.1" y1="168.1" x2="421.5" y2="166.3"/><line x1="431.5" y1="163.6" x2="429.2" y2="162.3"/><line x1="296.0" y1="157.2" x2="299.8" y2="155.5"/><line x1="346.0" y1="198.2" x2="347.1" y2="194.0"/><line x1="298.7" y1="90.2" x2="301.9" y2="91.9"/><line x1="332.7" y1="56.0" x2="335.6" y2="62.2"/><line x1="311.1" y1="75.8" x2="312.6" y2="77.2"/><line x1="294.7" y1="159.3" x2="301.0" y2="156.3"/><line x1="346.6" y1="55.2" x2="347.3" y2="58.2"/><line x1="407.2" y1="187.7" x2="403.4" y2="182.1"/><line x1="385.0" y1="200.3" x2="383.8" y2="195.7"/><line x1="357.2" y1="200.3" x2="357.4" y2="198.0"/><line x1="313.8" y1="68.1" x2="316.2" y2="70.8"/><line x1="437.6" y1="112.0" x2="433.9" y2="112.7"/><line x1="340.5" y1="57.0" x2="341.2" y2="59.1"/><line x1="290.3" y1="126.2" x2="293.1" y2="126.2"/><line x1="398.7" y1="190.5" x2="397.3" y2="187.9"/><line x1="409.8" y1="187.4" x2="406.0" y2="182.2"/><line x1="305.3" y1="83.6" x2="309.2" y2="86.4"/><line x1="436.4" y1="105.2" x2="431.0" y2="106.8"/><line x1="441.8" y1="128.6" x2="435.5" y2="128.4"/><line x1="290.7" y1="105.2" x2="295.5" y2="106.6"/><line x1="380.3" y1="52.6" x2="379.5" y2="56.4"/><line x1="355.0" y1="200.7" x2="355.8" y2="194.9"/><line x1="439.4" y1="142.5" x2="437.3" y2="142.1"/><line x1="318.0" y1="66.1" x2="322.0" y2="71.3"/><line x1="321.7" y1="63.8" x2="324.8" y2="68.2"/><line x1="330.0" y1="58.5" x2="332.5" y2="63.2"/><line x1="407.8" y1="65.3" x2="403.9" y2="70.8"/><line x1="390.7" y1="193.6" x2="389.9" y2="191.5"/><line x1="291.6" y1="102.8" x2="294.1" y2="103.6"/><line x1="421.5" y1="76.5" x2="417.5" y2="80.0"/><line x1="404.9" y1="193.1" x2="402.7" y2="189.4"/><line x1="370.0" y1="201.6" x2="369.8" y2="199.4"/><line x1="320.1" y1="63.6" x2="321.6" y2="65.7"/><line x1="363.8" y1="199.6" x2="363.9" y2="196.7"/><line x1="309.3" y1="73.3" x2="312.4" y2="76.2"/><line x1="339.1" y1="53.1" x2="341.1" y2="58.8"/><line x1="308.9" y1="179.1" x2="311.0" y2="177.0"/><line x1="397.4" y1="61.0" x2="395.8" y2="64.2"/><line x1="425.3" y1="171.6" x2="423.2" y2="170.0"/><line x1="308.3" y1="80.3" x2="312.4" y2="83.7"/><line x1="291.4" y1="128.0" x2="294.1" y2="127.9"/><line x1="368.6" y1="52.9" x2="368.4" y2="56.6"/><line x1="432.6" y1="88.2" x2="427.7" y2="91.0"/><line x1="315.1" y1="67.4" x2="319.1" y2="72.1"/><line x1="402.6" y1="59.3" x2="400.6" y2="62.8"/><line x1="368.7" y1="51.7" x2="368.5" y2="56.5"/><line x1="437.2" y1="137.7" x2="431.9" y2="136.8"/><line x1="427.6" y1="163.1" x2="422.1" y2="159.8"/><line x1="427.2" y1="78.9" x2="422.5" y2="82.5"/><line x1="341.6" y1="197.9" x2="343.0" y2="193.5"/><line x1="428.5" y1="162.2" x2="424.1" y2="159.7"/><line x1="298.2" y1="160.7" x2="304.1" y2="157.7"/><line x1="430.7" y1="158.1" x2="424.5" y2="155.0"/><line x1="420.4" y1="175.6" x2="416.9" y2="172.4"/><line x1="357.8" y1="199.9" x2="358.1" y2="197.1"/><line x1="391.9" y1="57.7" x2="389.9" y2="62.9"/><line x1="292.6" y1="145.0" x2="294.9" y2="144.4"/><line x1="419.6" y1="78.7" x2="414.8" y2="82.9"/><line x1="439.0" y1="134.6" x2="434.8" y2="134.1"/><line x1="308.9" y1="78.6" x2="314.2" y2="83.1"/><line x1="324.2" y1="186.8" x2="327.3" y2="182.0"/><line x1="323.8" y1="62.7" x2="327.5" y2="68.3"/><line x1="419.9" y1="76.4" x2="415.1" y2="80.7"/><line x1="421.5" y1="80.5" x2="417.9" y2="83.4"/><line x1="415.4" y1="71.1" x2="413.0" y2="73.8"/><line x1="288.4" y1="132.9" x2="290.5" y2="132.7"/><line x1="323.3" y1="62.3" x2="327.0" y2="68.0"/><line x1="320.6" y1="67.4" x2="323.8" y2="71.6"/><line x1="356.3" y1="53.8" x2="357.0" y2="59.6"/><line x1="304.1" y1="81.5" x2="308.4" y2="84.6"/><line x1="311.3" y1="76.9" x2="313.4" y2="78.7"/><line x1="439.1" y1="127.2" x2="436.0" y2="127.2"/><line x1="305.2" y1="85.1" x2="307.4" y2="86.6"/><line x1="289.0" y1="117.3" x2="293.4" y2="117.8"/><line x1="437.8" y1="153.2" x2="433.3" y2="151.6"/><line x1="431.0" y1="86.9" x2="425.4" y2="90.2"/><line x1="397.9" y1="56.8" x2="395.2" y2="62.6"/><line x1="329.1" y1="57.1" x2="332.1" y2="62.9"/><line x1="402.9" y1="190.7" x2="399.5" y2="184.9"/><line x1="331.7" y1="58.1" x2="333.5" y2="61.8"/><line x1="429.8" y1="163.2" x2="428.0" y2="162.2"/><line x1="402.8" y1="190.6" x2="400.7" y2="187.0"/><line x1="314.8" y1="69.8" x2="318.6" y2="74.1"/><line x1="295.4" y1="94.0" x2="297.4" y2="94.9"/><line x1="289.6" y1="143.8" x2="295.2" y2="142.5"/><line x1="403.8" y1="58.4" x2="402.4" y2="60.8"/><line x1="288.0" y1="130.2" x2="291.6" y2="130.0"/><line x1="292.5" y1="118.3" x2="294.8" y2="118.6"/><line x1="429.5" y1="84.7" x2="424.5" y2="87.9"/><line x1="424.7" y1="79.8" x2="419.8" y2="83.6"/><line x1="378.6" y1="52.5" x2="377.8" y2="56.7"/><line x1="386.4" y1="197.6" x2="384.6" y2="191.6"/><line x1="441.2" y1="142.1" x2="438.3" y2="141.4"/><line x1="291.5" y1="123.7" x2="293.6" y2="123.8"/><line x1="311.8" y1="76.2" x2="314.7" y2="78.9"/><line x1="402.6" y1="61.3" x2="400.7" y2="64.5"/><line x1="412.6" y1="180.4" x2="408.6" y2="175.8"/><line x1="291.7" y1="132.8" x2="297.5" y2="132.3"/><line x1="292.9" y1="113.3" x2="299.6" y2="114.5"/><line x1="302.8" y1="165.7" x2="308.6" y2="162.0"/><line x1="300.1" y1="162.8" x2="305.4" y2="159.8"/><line x1="321.2" y1="67.1" x2="322.6" y2="68.9"/><line x1="432.1" y1="154.8" x2="426.9" y2="152.5"/><line x1="312.2" y1="179.3" x2="314.6" y2="176.9"/><line x1="440.5" y1="145.9" x2="435.4" y2="144.6"/><line x1="336.6" y1="55.8" x2="337.5" y2="57.9"/><line x1="399.5" y1="56.8" x2="398.1" y2="59.6"/><line x1="414.1" y1="65.5" x2="412.3" y2="67.8"/><line x1="426.6" y1="87.8" x2="421.7" y2="90.9"/><line x1="437.2" y1="115.2" x2="433.1" y2="115.8"/><line x1="439.8" y1="135.3" x2="437.6" y2="135.0"/><line x1="292.2" y1="129.7" x2="295.1" y2="129.6"/><line x1="329.1" y1="62.1" x2="330.4" y2="64.5"/><line x1="348.0" y1="198.2" x2="349.2" y2="193.0"/><line x1="299.3" y1="89.2" x2="304.1" y2="91.8"/><line x1="355.1" y1="201.4" x2="355.4" y2="199.1"/><line x1="427.9" y1="167.9" x2="423.5" y2="165.0"/><line x1="352.1" y1="202.8" x2="352.5" y2="200.3"/><line x1="393.7" y1="56.3" x2="391.8" y2="61.0"/><line x1="300.5" y1="158.4" x2="304.2" y2="156.5"/><line x1="333.3" y1="56.5" x2="335.8" y2="62.1"/><line x1="341.3" y1="197.2" x2="342.1" y2="194.7"/><line x1="297.2" y1="156.5" x2="302.7" y2="154.1"/><line x1="425.3" y1="166.2" x2="421.0" y2="163.3"/><line x1="384.2" y1="56.1" x2="382.8" y2="61.3"/><line x1="410.4" y1="188.5" x2="407.4" y2="184.3"/><line x1="386.5" y1="197.2" x2="384.7" y2="191.2"/><line x1="433.9" y1="103.6" x2="429.9" y2="104.9"/><line x1="423.3" y1="177.7" x2="418.3" y2="173.2"/><line x1="297.7" y1="163.3" x2="300.6" y2="161.7"/><line x1="405.6" y1="65.1" x2="403.6" y2="68.0"/><line x1="290.0" y1="112.2" x2="294.3" y2="113.0"/><line x1="421.6" y1="171.1" x2="419.4" y2="169.4"/><line x1="349.6" y1="200.3" x2="350.2" y2="197.4"/><line x1="429.4" y1="85.5" x2="426.4" y2="87.4"/><line x1="296.2" y1="91.7" x2="299.1" y2="93.2"/><line x1="326.8" y1="60.6" x2="329.9" y2="65.9"/><line x1="327.2" y1="64.4" x2="330.5" y2="69.8"/><line x1="382.6" y1="199.6" x2="382.0" y2="197.1"/><line x1="383.5" y1="51.3" x2="382.1" y2="57.1"/><line x1="341.2" y1="52.3" x2="342.6" y2="56.8"/><line x1="410.1" y1="67.6" x2="408.4" y2="69.7"/><line x1="373.7" y1="199.9" x2="373.0" y2="194.1"/><line x1="375.6" y1="52.9" x2="374.8" y2="58.7"/><line x1="424.6" y1="81.3" x2="420.3" y2="84.6"/><line x1="345.5" y1="197.7" x2="346.3" y2="194.8"/><line x1="334.6" y1="191.7" x2="336.3" y2="188.1"/><line x1="386.3" y1="56.0" x2="385.4" y2="58.9"/><line x1="426.2" y1="83.9" x2="423.5" y2="85.7"/><line x1="401.0" y1="188.7" x2="397.8" y2="183.2"/><line x1="353.4" y1="49.1" x2="354.4" y2="55.4"/><line x1="310.1" y1="71.3" x2="312.4" y2="73.5"/><line x1="353.5" y1="50.0" x2="354.0" y2="52.7"/><line x1="433.8" y1="89.2" x2="431.1" y2="90.7"/><line x1="401.8" y1="188.8" x2="400.3" y2="186.2"/><line x1="323.4" y1="190.4" x2="325.0" y2="187.8"/><line x1="375.5" y1="201.4" x2="374.7" y2="195.4"/><line x1="441.9" y1="128.0" x2="436.5" y2="127.9"/><line x1="336.6" y1="195.1" x2="337.5" y2="193.0"/><line x1="298.4" y1="152.8" x2="303.7" y2="150.7"/><line x1="292.6" y1="118.2" x2="295.6" y2="118.5"/><line x1="301.8" y1="88.4" x2="306.8" y2="91.3"/><line x1="299.6" y1="86.3" x2="301.9" y2="87.7"/><line x1="387.1" y1="200.5" x2="385.5" y2="195.1"/><line x1="295.6" y1="161.3" x2="297.7" y2="160.2"/><line x1="307.8" y1="81.3" x2="310.5" y2="83.5"/><line x1="385.0" y1="197.7" x2="384.4" y2="195.5"/><line x1="398.0" y1="194.6" x2="396.8" y2="192.1"/><line x1="287.5" y1="130.4" x2="293.4" y2="130.0"/><line x1="427.3" y1="170.6" x2="423.3" y2="167.7"/><line x1="290.8" y1="106.9" x2="297.4" y2="108.6"/><line x1="315.4" y1="184.7" x2="317.4" y2="182.4"/><line x1="292.2" y1="100.6" x2="297.8" y2="102.5"/><line x1="321.0" y1="189.5" x2="323.8" y2="185.4"/><line x1="424.8" y1="77.6" x2="421.5" y2="80.3"/><line x1="321.4" y1="184.2" x2="325.3" y2="179.0"/><line x1="415.7" y1="178.0" x2="413.3" y2="175.5"/><line x1="413.3" y1="181.5" x2="409.7" y2="177.3"/><line x1="330.7" y1="195.0" x2="332.5" y2="191.5"/><line x1="417.0" y1="69.1" x2="414.8" y2="71.5"/><line x1="295.5" y1="95.5" x2="298.1" y2="96.6"/><line x1="440.4" y1="143.5" x2="438.4" y2="143.1"/><line x1="392.0" y1="193.7" x2="389.7" y2="187.9"/><line x1="321.4" y1="65.0" x2="324.0" y2="68.7"/><line x1="436.5" y1="109.0" x2="430.5" y2="110.5"/><line x1="345.8" y1="197.0" x2="347.2" y2="191.7"/><line x1="300.5" y1="164.9" x2="305.2" y2="162.1"/><line x1="435.3" y1="150.8" x2="431.5" y2="149.5"/><line x1="399.1" y1="57.2" x2="397.3" y2="61.0"/><line x1="304.4" y1="172.7" x2="308.9" y2="169.3"/><line x1="439.1" y1="147.0" x2="433.1" y2="145.3"/><line x1="348.9" y1="200.3" x2="349.9" y2="196.0"/><line x1="360.5" y1="198.2" x2="360.8" y2="193.5"/><line x1="356.2" y1="52.1" x2="356.9" y2="57.2"/><line x1="397.3" y1="196.0" x2="395.0" y2="190.8"/><line x1="292.6" y1="128.1" x2="294.6" y2="128.0"/><line x1="304.5" y1="167.4" x2="306.3" y2="166.1"/><line x1="334.0" y1="197.0" x2="335.9" y2="192.8"/><line x1="334.8" y1="57.9" x2="336.2" y2="61.1"/><line x1="403.8" y1="190.8" x2="401.0" y2="186.1"/><line x1="291.1" y1="116.0" x2="296.0" y2="116.6"/><line x1="387.9" y1="200.2" x2="386.1" y2="194.2"/><line x1="405.8" y1="191.6" x2="402.9" y2="186.9"/><line x1="440.1" y1="142.3" x2="434.1" y2="141.0"/><line x1="343.1" y1="195.8" x2="344.4" y2="191.6"/><line x1="436.0" y1="143.4" x2="430.6" y2="142.1"/><line x1="311.4" y1="177.4" x2="316.1" y2="172.9"/><line x1="387.1" y1="55.5" x2="386.4" y2="57.7"/><line x1="438.8" y1="144.8" x2="434.2" y2="143.6"/><line x1="440.2" y1="120.5" x2="435.2" y2="120.8"/><line x1="387.1" y1="54.2" x2="385.8" y2="58.5"/><line x1="317.7" y1="184.0" x2="321.2" y2="179.7"/><line x1="289.0" y1="132.1" x2="292.8" y2="131.8"/><line x1="311.4" y1="74.4" x2="314.9" y2="77.8"/><line x1="374.6" y1="53.9" x2="374.3" y2="56.1"/><line x1="379.8" y1="197.9" x2="379.3" y2="195.2"/><line x1="296.6" y1="96.4" x2="300.5" y2="98.1"/><line x1="374.0" y1="53.8" x2="373.2" y2="60.4"/><line x1="380.4" y1="54.1" x2="379.2" y2="59.7"/><line x1="409.8" y1="69.5" x2="407.5" y2="72.4"/><line x1="347.4" y1="54.2" x2="348.1" y2="56.9"/><line x1="348.8" y1="197.9" x2="350.0" y2="192.4"/><line x1="291.1" y1="124.2" x2="298.0" y2="124.3"/><line x1="323.9" y1="189.0" x2="327.5" y2="183.5"/><line x1="439.3" y1="118.4" x2="435.4" y2="118.8"/><line x1="308.7" y1="76.4" x2="312.3" y2="79.5"/><line x1="295.6" y1="103.4" x2="298.3" y2="104.3"/><line x1="296.8" y1="99.5" x2="300.8" y2="101.0"/><line x1="437.2" y1="143.6" x2="434.5" y2="142.9"/><line x1="288.0" y1="131.5" x2="290.8" y2="131.3"/><line x1="383.5" y1="197.7" x2="382.6" y2="194.4"/><line x1="426.0" y1="165.4" x2="421.5" y2="162.5"/><line x1="408.8" y1="68.7" x2="405.3" y2="73.3"/><line x1="387.4" y1="52.8" x2="385.7" y2="58.4"/><line x1="426.2" y1="167.6" x2="421.0" y2="164.0"/><line x1="289.0" y1="117.5" x2="292.3" y2="117.9"/><line x1="410.3" y1="63.1" x2="408.6" y2="65.4"/><line x1="357.0" y1="48.4" x2="357.3" y2="50.7"/><line x1="371.8" y1="203.2" x2="371.3" y2="197.7"/><line x1="319.4" y1="182.9" x2="323.5" y2="177.8"/><line x1="440.1" y1="147.8" x2="438.0" y2="147.2"/><line x1="328.3" y1="191.3" x2="330.7" y2="187.0"/><line x1="396.5" y1="58.4" x2="393.7" y2="64.5"/><line x1="332.0" y1="192.3" x2="335.1" y2="186.0"/><line x1="331.8" y1="193.1" x2="332.8" y2="191.0"/><line x1="388.3" y1="54.5" x2="386.4" y2="60.5"/><line x1="330.9" y1="59.9" x2="331.9" y2="61.9"/><line x1="321.4" y1="186.8" x2="323.7" y2="183.6"/><line x1="295.3" y1="148.4" x2="298.2" y2="147.5"/><line x1="432.5" y1="89.1" x2="429.2" y2="91.0"/><line x1="398.0" y1="61.4" x2="395.7" y2="66.0"/><line x1="352.3" y1="198.6" x2="353.1" y2="194.2"/><line x1="299.4" y1="92.6" x2="302.3" y2="94.1"/><line x1="305.6" y1="174.7" x2="310.7" y2="170.5"/><line x1="423.5" y1="76.7" x2="418.3" y2="81.1"/><line x1="439.9" y1="146.0" x2="436.2" y2="145.0"/><line x1="436.8" y1="141.5" x2="430.6" y2="140.2"/><line x1="327.8" y1="63.9" x2="329.7" y2="66.9"/><line x1="434.6" y1="90.4" x2="428.5" y2="93.5"/><line x1="425.8" y1="77.5" x2="420.8" y2="81.5"/><line x1="293.3" y1="141.3" x2="297.9" y2="140.3"/><line x1="438.1" y1="144.8" x2="434.8" y2="143.9"/><line x1="384.0" y1="198.2" x2="382.6" y2="193.0"/><line x1="292.9" y1="133.5" x2="299.8" y2="132.8"/><line x1="379.3" y1="200.2" x2="378.1" y2="194.1"/><line x1="333.6" y1="58.4" x2="336.3" y2="64.2"/><line x1="427.5" y1="168.1" x2="425.4" y2="166.6"/><line x1="291.4" y1="124.4" x2="297.6" y2="124.5"/><line x1="295.2" y1="147.2" x2="298.0" y2="146.3"/><line x1="417.4" y1="179.8" x2="413.1" y2="175.3"/><line x1="431.1" y1="87.2" x2="429.1" y2="88.4"/><line x1="316.6" y1="70.8" x2="318.4" y2="72.8"/><line x1="424.6" y1="174.4" x2="422.8" y2="172.9"/><line x1="414.7" y1="71.0" x2="412.1" y2="73.9"/><line x1="425.5" y1="84.8" x2="422.1" y2="87.1"/><line x1="411.2" y1="65.7" x2="409.2" y2="68.3"/><line x1="427.4" y1="171.2" x2="423.3" y2="168.2"/><line x1="434.3" y1="102.3" x2="431.1" y2="103.4"/><line x1="342.5" y1="55.7" x2="344.7" y2="62.2"/><line x1="341.2" y1="194.6" x2="342.7" y2="190.4"/><line x1="428.5" y1="164.9" x2="422.8" y2="161.4"/><line x1="323.6" y1="64.1" x2="326.5" y2="68.5"/><line x1="398.4" y1="61.7" x2="395.3" y2="67.8"/></g>
<g stroke="#f0fff0" stroke-opacity="0.1" stroke-width="0.45"><line x1="421.2" y1="86.3" x2="413.9" y2="91.5"/><line x1="348.2" y1="57.3" x2="350.0" y2="64.7"/><line x1="309.3" y1="83.7" x2="320.7" y2="92.4"/><line x1="435.1" y1="136.9" x2="422.9" y2="135.0"/><line x1="413.0" y1="70.2" x2="402.6" y2="82.4"/><line x1="305.8" y1="98.0" x2="321.7" y2="105.5"/><line x1="360.4" y1="203.2" x2="361.2" y2="189.8"/><line x1="307.3" y1="162.3" x2="318.0" y2="155.6"/><line x1="300.7" y1="124.1" x2="312.5" y2="124.5"/><line x1="433.7" y1="144.4" x2="426.4" y2="142.5"/><line x1="375.0" y1="187.6" x2="373.0" y2="174.7"/><line x1="433.4" y1="140.2" x2="418.5" y2="137.1"/><line x1="413.1" y1="173.4" x2="405.9" y2="166.3"/><line x1="302.0" y1="148.3" x2="312.6" y2="144.6"/><line x1="405.6" y1="78.5" x2="393.3" y2="92.9"/><line x1="425.2" y1="85.9" x2="411.4" y2="95.1"/><line x1="357.2" y1="57.7" x2="358.2" y2="66.0"/><line x1="419.7" y1="172.6" x2="407.9" y2="162.5"/><line x1="347.0" y1="50.4" x2="349.4" y2="60.2"/><line x1="311.5" y1="86.9" x2="326.2" y2="97.6"/><line x1="431.1" y1="154.3" x2="414.4" y2="147.1"/><line x1="372.1" y1="203.3" x2="371.0" y2="191.5"/><line x1="432.0" y1="124.2" x2="413.4" y2="124.7"/><line x1="317.7" y1="184.3" x2="329.6" y2="169.7"/><line x1="299.3" y1="92.4" x2="314.1" y2="99.9"/><line x1="427.8" y1="84.6" x2="415.4" y2="92.8"/><line x1="351.9" y1="55.9" x2="353.7" y2="65.3"/><line x1="441.4" y1="135.5" x2="433.8" y2="134.6"/><line x1="307.8" y1="156.4" x2="315.9" y2="152.1"/><line x1="397.4" y1="188.9" x2="393.9" y2="182.0"/><line x1="411.5" y1="71.2" x2="406.5" y2="77.2"/><line x1="387.3" y1="196.5" x2="381.5" y2="177.9"/><line x1="313.0" y1="160.0" x2="321.0" y2="154.8"/><line x1="303.5" y1="97.8" x2="318.2" y2="104.5"/><line x1="438.3" y1="152.4" x2="431.6" y2="150.0"/><line x1="322.6" y1="70.4" x2="333.6" y2="84.8"/><line x1="304.1" y1="155.3" x2="313.9" y2="150.6"/><line x1="428.9" y1="90.4" x2="419.4" y2="95.7"/><line x1="306.0" y1="159.3" x2="312.4" y2="155.7"/><line x1="438.3" y1="106.2" x2="419.6" y2="111.3"/><line x1="302.7" y1="119.6" x2="309.9" y2="120.3"/><line x1="378.6" y1="194.3" x2="376.6" y2="184.2"/><line x1="439.5" y1="108.7" x2="427.6" y2="111.5"/><line x1="337.5" y1="187.9" x2="342.4" y2="176.9"/><line x1="307.6" y1="152.8" x2="323.6" y2="145.3"/><line x1="347.5" y1="50.0" x2="349.8" y2="59.9"/><line x1="296.7" y1="155.4" x2="307.6" y2="150.7"/><line x1="422.0" y1="78.8" x2="414.3" y2="85.2"/><line x1="351.8" y1="58.2" x2="355.5" y2="76.9"/><line x1="377.2" y1="190.8" x2="375.3" y2="180.5"/><line x1="421.5" y1="156.3" x2="405.8" y2="147.8"/><line x1="293.2" y1="106.0" x2="309.3" y2="110.4"/><line x1="320.8" y1="74.1" x2="332.7" y2="87.9"/><line x1="334.9" y1="196.0" x2="337.7" y2="189.6"/><line x1="306.1" y1="75.9" x2="316.3" y2="84.6"/><line x1="320.2" y1="179.2" x2="328.0" y2="170.0"/><line x1="400.7" y1="184.9" x2="396.2" y2="177.4"/><line x1="294.7" y1="131.4" x2="308.6" y2="130.3"/><line x1="346.7" y1="66.6" x2="348.8" y2="73.3"/><line x1="322.2" y1="172.3" x2="333.5" y2="160.1"/><line x1="351.1" y1="62.2" x2="354.0" y2="75.5"/><line x1="352.4" y1="192.3" x2="355.3" y2="177.5"/><line x1="302.0" y1="130.7" x2="308.7" y2="130.2"/><line x1="299.6" y1="88.6" x2="312.3" y2="95.9"/><line x1="296.2" y1="111.6" x2="309.0" y2="114.3"/><line x1="367.5" y1="55.3" x2="367.1" y2="67.1"/><line x1="360.4" y1="194.0" x2="361.3" y2="181.3"/><line x1="303.6" y1="113.4" x2="314.9" y2="115.7"/><line x1="427.6" y1="97.1" x2="412.5" y2="104.1"/><line x1="315.2" y1="66.8" x2="324.1" y2="77.3"/><line x1="422.7" y1="167.7" x2="407.0" y2="156.4"/><line x1="436.3" y1="112.2" x2="425.4" y2="114.3"/><line x1="327.0" y1="75.4" x2="337.3" y2="89.0"/><line x1="381.2" y1="60.9" x2="377.1" y2="77.3"/><line x1="428.7" y1="84.0" x2="413.9" y2="93.8"/><line x1="341.5" y1="60.1" x2="346.1" y2="72.9"/><line x1="300.9" y1="144.3" x2="313.0" y2="140.9"/><line x1="424.5" y1="161.9" x2="411.1" y2="153.8"/><line x1="347.1" y1="199.9" x2="351.5" y2="181.9"/><line x1="430.8" y1="98.3" x2="414.1" y2="105.4"/><line x1="415.6" y1="166.4" x2="409.7" y2="161.6"/><line x1="323.5" y1="172.2" x2="330.8" y2="164.0"/><line x1="418.4" y1="80.1" x2="412.8" y2="84.9"/><line x1="295.9" y1="107.2" x2="311.0" y2="111.3"/><line x1="402.7" y1="180.5" x2="396.3" y2="171.1"/><line x1="290.9" y1="114.5" x2="303.5" y2="116.5"/><line x1="335.8" y1="61.8" x2="340.5" y2="72.2"/><line x1="427.7" y1="171.0" x2="412.8" y2="160.2"/><line x1="352.2" y1="55.8" x2="355.4" y2="72.9"/><line x1="379.0" y1="187.4" x2="376.1" y2="174.6"/><line x1="328.9" y1="179.3" x2="334.6" y2="171.0"/><line x1="438.2" y1="113.0" x2="431.5" y2="114.2"/><line x1="357.9" y1="200.1" x2="359.4" y2="184.8"/><line x1="364.5" y1="197.1" x2="364.7" y2="178.5"/><line x1="442.0" y1="131.3" x2="431.9" y2="130.6"/><line x1="382.2" y1="193.5" x2="379.1" y2="181.2"/><line x1="409.0" y1="175.3" x2="398.5" y2="163.4"/><line x1="353.8" y1="188.1" x2="356.0" y2="176.0"/><line x1="290.2" y1="116.4" x2="305.2" y2="118.3"/><line x1="321.5" y1="63.7" x2="329.9" y2="75.6"/><line x1="301.3" y1="93.2" x2="311.9" y2="98.6"/><line x1="370.9" y1="57.0" x2="369.3" y2="76.2"/><line x1="301.9" y1="82.8" x2="308.4" y2="87.3"/><line x1="356.0" y1="61.2" x2="357.9" y2="74.4"/><line x1="321.2" y1="170.4" x2="333.4" y2="158.1"/><line x1="308.0" y1="91.2" x2="320.2" y2="98.6"/><line x1="409.5" y1="80.1" x2="402.5" y2="87.4"/><line x1="404.7" y1="58.8" x2="395.5" y2="74.4"/><line x1="337.8" y1="186.4" x2="341.2" y2="178.8"/><line x1="416.5" y1="165.6" x2="406.4" y2="157.8"/><line x1="339.2" y1="69.7" x2="343.0" y2="77.9"/><line x1="387.5" y1="55.0" x2="384.5" y2="64.4"/><line x1="429.3" y1="113.7" x2="420.7" y2="115.3"/><line x1="311.9" y1="171.0" x2="326.8" y2="158.4"/><line x1="374.8" y1="201.2" x2="373.0" y2="186.9"/><line x1="428.3" y1="84.4" x2="412.5" y2="94.8"/><line x1="316.0" y1="73.1" x2="324.6" y2="82.4"/><line x1="318.3" y1="181.5" x2="323.4" y2="175.5"/><line x1="384.5" y1="201.1" x2="381.5" y2="189.5"/><line x1="296.7" y1="147.6" x2="306.8" y2="144.4"/><line x1="371.3" y1="199.3" x2="370.4" y2="188.0"/><line x1="418.8" y1="80.3" x2="410.5" y2="87.3"/><line x1="314.2" y1="177.3" x2="319.3" y2="172.1"/><line x1="419.6" y1="91.1" x2="406.5" y2="99.5"/><line x1="436.1" y1="133.7" x2="427.6" y2="132.8"/><line x1="350.4" y1="58.6" x2="354.5" y2="77.6"/><line x1="375.6" y1="202.4" x2="373.3" y2="185.9"/><line x1="298.2" y1="159.0" x2="309.1" y2="153.7"/><line x1="315.0" y1="180.2" x2="326.8" y2="167.4"/><line x1="302.5" y1="164.1" x2="309.4" y2="159.9"/><line x1="413.3" y1="65.7" x2="401.1" y2="81.0"/><line x1="305.6" y1="169.2" x2="318.3" y2="160.0"/><line x1="396.9" y1="181.0" x2="389.3" y2="167.9"/><line x1="437.7" y1="116.2" x2="423.6" y2="118.1"/><line x1="427.1" y1="105.7" x2="408.6" y2="111.7"/><line x1="424.3" y1="172.3" x2="416.9" y2="166.5"/><line x1="367.0" y1="57.6" x2="366.5" y2="76.8"/><line x1="292.7" y1="109.8" x2="300.6" y2="111.6"/><line x1="411.6" y1="78.3" x2="400.0" y2="90.3"/><line x1="367.8" y1="189.2" x2="367.5" y2="181.2"/><line x1="303.8" y1="135.6" x2="313.1" y2="134.2"/><line x1="427.7" y1="145.6" x2="415.4" y2="141.8"/><line x1="400.9" y1="189.4" x2="396.1" y2="180.8"/><line x1="312.4" y1="171.6" x2="323.4" y2="162.2"/><line x1="304.3" y1="142.0" x2="319.1" y2="138.1"/><line x1="300.6" y1="122.9" x2="314.7" y2="123.6"/><line x1="436.9" y1="128.1" x2="426.8" y2="127.8"/><line x1="331.1" y1="72.5" x2="339.0" y2="84.8"/><line x1="310.5" y1="155.2" x2="322.2" y2="149.0"/><line x1="424.0" y1="173.7" x2="416.1" y2="167.2"/><line x1="391.0" y1="189.5" x2="385.4" y2="175.6"/><line x1="293.1" y1="112.3" x2="307.9" y2="115.1"/><line x1="437.1" y1="122.5" x2="426.4" y2="123.0"/><line x1="429.2" y1="99.3" x2="420.0" y2="103.1"/><line x1="438.5" y1="128.8" x2="424.1" y2="128.2"/><line x1="416.8" y1="183.3" x2="411.4" y2="177.3"/><line x1="305.3" y1="87.2" x2="315.4" y2="93.8"/><line x1="312.7" y1="175.6" x2="322.5" y2="166.3"/><line x1="328.2" y1="182.5" x2="335.4" y2="171.6"/><line x1="305.2" y1="156.6" x2="321.6" y2="148.2"/><line x1="323.3" y1="60.3" x2="328.0" y2="67.6"/><line x1="379.7" y1="55.7" x2="377.6" y2="66.0"/><line x1="290.7" y1="120.6" x2="304.2" y2="121.6"/><line x1="370.2" y1="192.4" x2="368.9" y2="175.2"/><line x1="417.8" y1="162.5" x2="405.0" y2="153.6"/><line x1="312.4" y1="71.7" x2="320.9" y2="80.4"/><line x1="327.9" y1="194.0" x2="332.8" y2="185.1"/><line x1="347.8" y1="65.0" x2="351.0" y2="76.4"/><line x1="296.0" y1="137.9" x2="302.4" y2="136.8"/><line x1="407.9" y1="61.4" x2="398.9" y2="75.0"/><line x1="394.9" y1="55.3" x2="387.3" y2="73.4"/><line x1="404.5" y1="69.6" x2="400.3" y2="75.6"/><line x1="320.5" y1="170.2" x2="329.8" y2="161.0"/><line x1="431.8" y1="89.0" x2="423.8" y2="93.4"/><line x1="327.6" y1="71.3" x2="337.3" y2="85.4"/><line x1="389.0" y1="185.1" x2="383.8" y2="172.3"/><line x1="432.5" y1="110.8" x2="419.8" y2="113.7"/><line x1="406.9" y1="68.0" x2="397.5" y2="81.1"/><line x1="301.5" y1="102.3" x2="313.1" y2="106.6"/><line x1="301.5" y1="117.9" x2="311.0" y2="119.1"/><line x1="407.8" y1="184.8" x2="400.6" y2="174.8"/><line x1="309.0" y1="87.4" x2="322.4" y2="96.6"/><line x1="377.5" y1="63.9" x2="376.2" y2="70.5"/><line x1="398.0" y1="69.3" x2="388.1" y2="86.5"/><line x1="332.3" y1="183.8" x2="335.6" y2="178.0"/><line x1="301.7" y1="93.2" x2="307.7" y2="96.3"/><line x1="358.5" y1="63.6" x2="359.8" y2="76.1"/><line x1="418.5" y1="93.3" x2="403.0" y2="102.8"/><line x1="371.1" y1="59.2" x2="369.8" y2="73.8"/><line x1="403.8" y1="188.0" x2="393.4" y2="171.3"/><line x1="333.1" y1="179.4" x2="336.3" y2="174.0"/><line x1="316.8" y1="180.0" x2="330.1" y2="165.1"/><line x1="427.6" y1="84.1" x2="415.5" y2="92.3"/><line x1="358.4" y1="54.2" x2="359.1" y2="62.0"/><line x1="387.5" y1="61.6" x2="384.9" y2="69.4"/><line x1="438.8" y1="111.5" x2="431.5" y2="112.9"/><line x1="303.6" y1="115.3" x2="320.7" y2="118.3"/><line x1="331.1" y1="186.2" x2="338.9" y2="172.5"/><line x1="356.2" y1="63.9" x2="358.3" y2="78.2"/><line x1="318.8" y1="174.5" x2="331.3" y2="161.4"/><line x1="336.9" y1="57.9" x2="340.6" y2="66.8"/><line x1="312.7" y1="172.7" x2="322.5" y2="164.0"/><line x1="290.2" y1="136.2" x2="298.9" y2="135.0"/><line x1="415.5" y1="175.0" x2="405.4" y2="165.2"/><line x1="402.0" y1="70.5" x2="391.0" y2="87.0"/><line x1="394.8" y1="188.4" x2="390.3" y2="178.9"/><line x1="397.7" y1="183.3" x2="392.1" y2="173.4"/><line x1="379.3" y1="189.8" x2="375.8" y2="173.8"/><line x1="341.3" y1="198.8" x2="344.7" y2="188.5"/><line x1="428.5" y1="140.0" x2="410.8" y2="136.1"/><line x1="295.1" y1="94.6" x2="306.1" y2="99.5"/><line x1="328.9" y1="184.2" x2="335.5" y2="173.7"/><line x1="363.6" y1="48.7" x2="363.9" y2="64.6"/><line x1="387.0" y1="62.4" x2="383.0" y2="74.2"/><line x1="441.4" y1="128.5" x2="422.8" y2="127.9"/><line x1="350.5" y1="60.2" x2="352.9" y2="70.8"/><line x1="306.7" y1="92.4" x2="317.7" y2="98.7"/><line x1="389.2" y1="197.1" x2="383.1" y2="179.2"/><line x1="342.3" y1="53.2" x2="348.0" y2="71.3"/><line x1="302.6" y1="127.2" x2="318.3" y2="126.9"/><line x1="302.5" y1="151.6" x2="311.5" y2="147.9"/><line x1="296.8" y1="93.4" x2="306.2" y2="97.9"/><line x1="304.3" y1="93.2" x2="319.8" y2="101.6"/><line x1="287.9" y1="121.6" x2="294.9" y2="122.0"/><line x1="430.0" y1="108.0" x2="413.7" y2="112.6"/><line x1="304.3" y1="152.7" x2="321.1" y2="145.3"/><line x1="314.9" y1="85.5" x2="326.3" y2="94.7"/><line x1="288.3" y1="115.1" x2="301.4" y2="117.0"/><line x1="307.2" y1="81.9" x2="312.1" y2="85.7"/><line x1="291.3" y1="148.3" x2="304.2" y2="144.4"/><line x1="362.7" y1="191.9" x2="363.1" y2="181.4"/><line x1="299.9" y1="139.1" x2="313.0" y2="136.5"/><line x1="398.1" y1="180.3" x2="394.5" y2="174.3"/><line x1="311.4" y1="162.1" x2="319.6" y2="156.6"/><line x1="386.5" y1="190.7" x2="381.7" y2="175.9"/><line x1="431.6" y1="133.1" x2="413.8" y2="131.2"/><line x1="439.4" y1="147.4" x2="432.2" y2="145.3"/><line x1="327.5" y1="193.0" x2="335.7" y2="178.4"/><line x1="363.5" y1="195.1" x2="363.7" y2="184.3"/><line x1="309.9" y1="96.6" x2="324.6" y2="104.4"/><line x1="295.1" y1="154.6" x2="302.2" y2="151.7"/><line x1="401.1" y1="192.1" x2="393.7" y2="178.5"/><line x1="310.8" y1="174.1" x2="315.8" y2="169.7"/><line x1="365.9" y1="190.6" x2="365.7" y2="171.0"/><line x1="428.1" y1="82.3" x2="415.9" y2="90.7"/><line x1="431.9" y1="125.2" x2="421.6" y2="125.3"/><line x1="421.0" y1="75.6" x2="408.4" y2="87.0"/><line x1="342.5" y1="57.0" x2="344.5" y2="63.0"/><line x1="341.7" y1="189.5" x2="347.9" y2="172.7"/><line x1="348.1" y1="195.9" x2="351.8" y2="180.9"/><line x1="302.5" y1="152.7" x2="312.0" y2="148.6"/><line x1="302.0" y1="156.4" x2="309.8" y2="152.7"/><line x1="394.3" y1="66.7" x2="389.2" y2="77.1"/><line x1="430.3" y1="140.9" x2="415.4" y2="137.5"/><line x1="304.2" y1="82.0" x2="316.5" y2="90.9"/><line x1="328.1" y1="194.2" x2="336.3" y2="179.1"/><line x1="357.5" y1="49.9" x2="359.2" y2="66.8"/><line x1="290.7" y1="148.1" x2="302.7" y2="144.6"/><line x1="310.0" y1="160.3" x2="317.3" y2="155.7"/><line x1="291.4" y1="130.4" x2="303.0" y2="129.7"/><line x1="363.7" y1="60.5" x2="363.8" y2="66.7"/><line x1="430.1" y1="124.8" x2="416.1" y2="125.0"/><line x1="316.8" y1="171.3" x2="322.2" y2="166.3"/><line x1="322.2" y1="70.5" x2="328.7" y2="78.9"/><line x1="316.8" y1="66.7" x2="323.5" y2="74.9"/><line x1="325.0" y1="64.0" x2="329.1" y2="70.3"/><line x1="357.3" y1="52.7" x2="359.1" y2="69.9"/><line x1="440.9" y1="141.0" x2="427.4" y2="138.3"/><line x1="296.1" y1="139.2" x2="313.5" y2="135.9"/><line x1="377.2" y1="188.9" x2="376.0" y2="182.4"/><line x1="327.1" y1="175.0" x2="336.3" y2="163.2"/><line x1="373.2" y1="197.9" x2="372.1" y2="188.1"/><line x1="373.1" y1="193.1" x2="372.3" y2="186.0"/><line x1="300.7" y1="132.6" x2="313.7" y2="131.3"/><line x1="402.2" y1="179.4" x2="394.1" y2="167.8"/><line x1="382.6" y1="56.6" x2="380.8" y2="63.9"/><line x1="292.4" y1="137.4" x2="307.6" y2="135.0"/><line x1="409.4" y1="66.9" x2="398.0" y2="82.2"/><line x1="383.9" y1="192.6" x2="380.3" y2="179.8"/><line x1="427.4" y1="133.6" x2="418.7" y2="132.5"/><line x1="339.0" y1="196.1" x2="342.2" y2="187.5"/><line x1="309.6" y1="84.0" x2="323.8" y2="94.7"/><line x1="413.3" y1="168.9" x2="407.4" y2="163.6"/><line x1="351.3" y1="191.7" x2="353.4" y2="181.7"/><line x1="318.2" y1="169.3" x2="323.1" y2="164.8"/><line x1="399.2" y1="192.6" x2="392.6" y2="179.7"/><line x1="321.1" y1="65.1" x2="330.1" y2="77.5"/><line x1="413.6" y1="177.0" x2="405.0" y2="168.0"/><line x1="382.6" y1="52.9" x2="378.8" y2="68.8"/><line x1="295.6" y1="116.6" x2="305.9" y2="118.0"/><line x1="304.6" y1="141.8" x2="317.7" y2="138.4"/><line x1="330.9" y1="194.4" x2="339.5" y2="177.2"/><line x1="422.8" y1="168.7" x2="414.4" y2="162.5"/><line x1="348.1" y1="51.1" x2="352.4" y2="69.8"/><line x1="355.7" y1="192.4" x2="357.6" y2="178.9"/><line x1="360.7" y1="63.1" x2="361.6" y2="75.3"/><line x1="294.0" y1="103.5" x2="311.0" y2="108.9"/><line x1="320.9" y1="69.1" x2="328.3" y2="78.7"/><line x1="362.3" y1="56.9" x2="362.8" y2="68.3"/><line x1="338.6" y1="55.8" x2="345.4" y2="73.6"/><line x1="312.6" y1="77.0" x2="317.8" y2="81.9"/><line x1="423.5" y1="102.6" x2="407.5" y2="109.0"/><line x1="434.2" y1="143.2" x2="423.1" y2="140.4"/><line x1="383.6" y1="66.0" x2="379.7" y2="78.9"/><line x1="312.0" y1="84.5" x2="320.5" y2="91.1"/><line x1="416.8" y1="69.9" x2="405.9" y2="81.8"/><line x1="333.5" y1="63.6" x2="340.5" y2="77.3"/><line x1="391.3" y1="68.5" x2="388.7" y2="74.3"/><line x1="429.8" y1="99.8" x2="420.5" y2="103.5"/><line x1="385.7" y1="187.8" x2="381.7" y2="175.6"/><line x1="429.1" y1="139.5" x2="410.0" y2="135.5"/><line x1="419.6" y1="72.4" x2="412.7" y2="79.1"/><line x1="340.3" y1="197.7" x2="345.9" y2="181.5"/><line x1="346.9" y1="198.9" x2="348.9" y2="190.9"/><line x1="438.0" y1="122.9" x2="426.9" y2="123.4"/><line x1="406.9" y1="66.5" x2="397.2" y2="80.3"/><line x1="345.7" y1="66.4" x2="351.3" y2="83.5"/><line x1="428.7" y1="120.5" x2="409.7" y2="122.1"/><line x1="438.7" y1="103.6" x2="421.9" y2="108.7"/><line x1="359.8" y1="62.0" x2="361.4" y2="81.0"/><line x1="292.1" y1="141.7" x2="302.0" y2="139.6"/><line x1="408.5" y1="81.5" x2="399.4" y2="90.8"/><line x1="414.5" y1="73.2" x2="405.2" y2="83.2"/><line x1="408.1" y1="64.9" x2="401.8" y2="73.9"/><line x1="309.3" y1="78.2" x2="322.3" y2="89.3"/><line x1="414.8" y1="173.8" x2="400.9" y2="160.4"/><line x1="434.4" y1="142.3" x2="420.3" y2="139.0"/><line x1="301.1" y1="137.8" x2="311.9" y2="135.8"/><line x1="287.7" y1="132.6" x2="303.7" y2="131.3"/><line x1="431.0" y1="152.7" x2="418.5" y2="147.6"/><line x1="438.7" y1="102.0" x2="421.6" y2="107.6"/><line x1="417.5" y1="74.2" x2="404.8" y2="86.8"/><line x1="427.6" y1="84.2" x2="419.4" y2="89.7"/><line x1="313.5" y1="90.5" x2="324.0" y2="97.7"/><line x1="291.1" y1="137.2" x2="302.0" y2="135.6"/><line x1="400.3" y1="181.7" x2="390.2" y2="165.7"/><line x1="360.8" y1="54.1" x2="361.3" y2="61.7"/><line x1="339.1" y1="64.1" x2="345.4" y2="79.1"/><line x1="400.4" y1="59.6" x2="394.4" y2="70.9"/><line x1="441.0" y1="135.1" x2="431.9" y2="134.0"/><line x1="318.1" y1="83.2" x2="329.5" y2="93.6"/><line x1="362.6" y1="191.6" x2="363.1" y2="178.6"/><line x1="292.6" y1="143.3" x2="311.5" y2="138.8"/><line x1="311.4" y1="164.0" x2="326.5" y2="153.3"/><line x1="430.0" y1="114.1" x2="420.1" y2="115.9"/><line x1="301.4" y1="156.3" x2="316.6" y2="149.1"/><line x1="293.7" y1="142.9" x2="307.1" y2="139.7"/><line x1="295.9" y1="139.8" x2="314.5" y2="136.1"/><line x1="403.1" y1="175.1" x2="396.7" y2="166.8"/><line x1="376.3" y1="55.1" x2="374.9" y2="64.0"/><line x1="321.7" y1="63.0" x2="332.3" y2="78.4"/><line x1="331.7" y1="195.1" x2="335.3" y2="187.5"/><line x1="441.9" y1="137.7" x2="427.9" y2="135.6"/><line x1="381.0" y1="60.5" x2="379.3" y2="67.4"/><line x1="417.1" y1="166.5" x2="403.2" y2="155.6"/><line x1="325.8" y1="174.7" x2="331.6" y2="167.5"/><line x1="411.7" y1="79.6" x2="398.8" y2="92.5"/><line x1="299.8" y1="85.1" x2="307.5" y2="90.0"/><line x1="292.3" y1="148.8" x2="311.0" y2="143.0"/><line x1="398.6" y1="180.5" x2="388.7" y2="164.4"/><line x1="391.3" y1="65.7" x2="384.8" y2="80.6"/><line x1="306.2" y1="165.3" x2="317.9" y2="157.5"/><line x1="431.0" y1="100.3" x2="422.8" y2="103.5"/><line x1="382.8" y1="191.0" x2="380.9" y2="184.3"/><line x1="429.6" y1="132.6" x2="420.7" y2="131.7"/><line x1="321.8" y1="78.8" x2="331.0" y2="88.9"/><line x1="418.9" y1="92.8" x2="412.9" y2="96.5"/><line x1="327.8" y1="58.2" x2="332.3" y2="66.3"/><line x1="296.0" y1="106.8" x2="302.6" y2="108.6"/><line x1="421.5" y1="175.6" x2="412.5" y2="167.7"/><line x1="402.6" y1="66.9" x2="398.2" y2="73.9"/><line x1="352.2" y1="187.2" x2="353.7" y2="180.2"/><line x1="305.2" y1="175.3" x2="316.6" y2="165.9"/><line x1="287.9" y1="135.0" x2="301.1" y2="133.5"/><line x1="350.5" y1="196.2" x2="354.4" y2="177.5"/><line x1="317.5" y1="175.5" x2="329.3" y2="163.3"/><line x1="293.9" y1="106.6" x2="306.8" y2="110.1"/><line x1="410.7" y1="183.8" x2="401.9" y2="172.6"/><line x1="346.3" y1="62.5" x2="349.0" y2="71.5"/><line x1="387.7" y1="192.8" x2="385.2" y2="185.3"/><line x1="314.8" y1="181.9" x2="327.7" y2="167.6"/><line x1="437.0" y1="142.1" x2="425.0" y2="139.4"/><line x1="388.8" y1="59.0" x2="384.1" y2="72.3"/><line x1="426.0" y1="101.3" x2="420.1" y2="103.7"/><line x1="316.5" y1="182.7" x2="321.5" y2="176.9"/><line x1="310.4" y1="82.5" x2="324.4" y2="93.7"/><line x1="363.3" y1="192.5" x2="363.6" y2="182.8"/><line x1="308.5" y1="173.5" x2="321.2" y2="162.9"/><line x1="438.1" y1="121.3" x2="423.2" y2="122.3"/><line x1="333.4" y1="69.4" x2="339.7" y2="80.6"/><line x1="400.4" y1="192.3" x2="392.9" y2="178.2"/><line x1="292.0" y1="116.3" x2="310.0" y2="118.7"/><line x1="426.7" y1="171.9" x2="412.1" y2="161.0"/><line x1="423.4" y1="100.8" x2="414.8" y2="104.6"/><line x1="402.9" y1="175.3" x2="395.9" y2="166.2"/><line x1="386.7" y1="194.1" x2="382.9" y2="182.1"/><line x1="295.6" y1="104.3" x2="304.4" y2="107.0"/><line x1="323.2" y1="71.7" x2="327.9" y2="77.8"/><line x1="318.7" y1="67.0" x2="324.3" y2="74.2"/><line x1="306.3" y1="162.8" x2="315.4" y2="157.1"/><line x1="428.6" y1="141.0" x2="410.1" y2="136.6"/><line x1="414.8" y1="164.5" x2="401.9" y2="154.4"/><line x1="295.3" y1="128.2" x2="306.0" y2="127.9"/><line x1="415.8" y1="168.8" x2="410.3" y2="164.1"/><line x1="419.9" y1="96.5" x2="413.3" y2="100.1"/><line x1="326.3" y1="192.9" x2="335.8" y2="176.6"/><line x1="313.7" y1="172.4" x2="319.8" y2="166.9"/><line x1="334.7" y1="181.4" x2="343.1" y2="166.3"/><line x1="365.1" y1="57.7" x2="365.2" y2="69.8"/><line x1="381.6" y1="200.6" x2="379.5" y2="190.8"/><line x1="386.4" y1="190.3" x2="381.0" y2="173.8"/><line x1="424.5" y1="84.8" x2="417.4" y2="89.8"/><line x1="397.1" y1="56.0" x2="392.0" y2="67.3"/><line x1="348.1" y1="58.0" x2="351.1" y2="69.9"/><line x1="362.2" y1="60.3" x2="362.9" y2="76.3"/><line x1="335.1" y1="188.2" x2="339.9" y2="178.2"/><line x1="393.4" y1="69.3" x2="389.7" y2="76.8"/><line x1="367.3" y1="60.7" x2="366.8" y2="76.8"/><line x1="295.3" y1="139.2" x2="304.4" y2="137.5"/><line x1="442.7" y1="126.9" x2="423.7" y2="126.7"/><line x1="423.6" y1="168.8" x2="413.6" y2="161.4"/><line x1="428.1" y1="100.8" x2="413.3" y2="106.8"/><line x1="299.8" y1="121.1" x2="313.9" y2="122.1"/><line x1="304.7" y1="166.6" x2="320.3" y2="156.2"/><line x1="400.8" y1="74.7" x2="394.0" y2="84.4"/><line x1="438.9" y1="130.6" x2="431.9" y2="130.1"/><line x1="346.0" y1="56.0" x2="348.5" y2="65.1"/><line x1="404.3" y1="59.0" x2="395.8" y2="73.6"/><line x1="438.3" y1="117.4" x2="424.2" y2="119.0"/><line x1="424.3" y1="84.4" x2="415.7" y2="90.4"/><line x1="316.9" y1="168.7" x2="329.3" y2="157.7"/><line x1="394.9" y1="198.1" x2="390.3" y2="187.0"/><line x1="322.7" y1="65.5" x2="332.6" y2="79.6"/><line x1="331.6" y1="180.6" x2="340.7" y2="165.8"/><line x1="378.6" y1="195.7" x2="377.2" y2="188.2"/><line x1="374.8" y1="193.5" x2="372.1" y2="174.8"/><line x1="295.2" y1="134.8" x2="314.7" y2="132.4"/><line x1="303.8" y1="116.0" x2="322.4" y2="119.0"/><line x1="409.8" y1="78.7" x2="397.2" y2="92.0"/><line x1="376.1" y1="56.0" x2="373.3" y2="73.7"/><line x1="371.5" y1="189.0" x2="369.6" y2="169.8"/><line x1="334.6" y1="68.3" x2="341.0" y2="80.4"/><line x1="362.5" y1="198.3" x2="363.1" y2="183.9"/><line x1="435.3" y1="135.6" x2="420.2" y2="133.6"/><line x1="433.3" y1="105.1" x2="415.9" y2="110.4"/><line x1="429.9" y1="131.3" x2="421.9" y2="130.7"/><line x1="335.0" y1="193.1" x2="338.8" y2="184.6"/><line x1="381.1" y1="186.7" x2="377.3" y2="172.2"/><line x1="386.9" y1="65.9" x2="382.8" y2="77.3"/><line x1="369.5" y1="57.5" x2="368.7" y2="69.6"/><line x1="369.3" y1="62.7" x2="368.2" y2="80.2"/><line x1="415.9" y1="180.4" x2="402.3" y2="165.8"/><line x1="292.8" y1="114.8" x2="308.9" y2="117.3"/><line x1="433.3" y1="104.3" x2="423.1" y2="107.6"/><line x1="427.5" y1="139.0" x2="414.4" y2="136.3"/><line x1="423.7" y1="98.9" x2="413.0" y2="103.9"/><line x1="409.1" y1="185.1" x2="400.9" y2="174.0"/><line x1="287.8" y1="124.8" x2="306.0" y2="125.1"/><line x1="360.5" y1="61.1" x2="361.9" y2="80.9"/><line x1="300.3" y1="146.2" x2="308.9" y2="143.5"/><line x1="439.1" y1="113.2" x2="430.7" y2="114.6"/><line x1="432.2" y1="133.0" x2="418.6" y2="131.6"/><line x1="350.9" y1="193.2" x2="354.1" y2="178.0"/><line x1="412.0" y1="172.0" x2="402.8" y2="162.9"/><line x1="293.0" y1="106.1" x2="307.4" y2="110.0"/><line x1="388.7" y1="58.2" x2="386.2" y2="65.4"/><line x1="306.3" y1="87.0" x2="322.0" y2="97.4"/><line x1="329.9" y1="184.6" x2="337.2" y2="172.5"/><line x1="388.3" y1="191.2" x2="383.4" y2="177.4"/><line x1="410.7" y1="75.8" x2="399.8" y2="87.8"/><line x1="430.3" y1="112.1" x2="422.8" y2="113.7"/><line x1="365.0" y1="189.4" x2="365.1" y2="177.6"/><line x1="334.0" y1="66.6" x2="343.1" y2="84.0"/><line x1="355.5" y1="61.9" x2="357.1" y2="72.9"/><line x1="296.9" y1="112.8" x2="308.6" y2="115.1"/><line x1="425.7" y1="161.5" x2="417.7" y2="156.8"/><line x1="384.5" y1="56.7" x2="380.3" y2="71.8"/><line x1="413.3" y1="68.3" x2="405.5" y2="77.6"/><line x1="311.8" y1="162.1" x2="321.1" y2="155.9"/><line x1="353.9" y1="196.4" x2="355.7" y2="185.5"/><line x1="410.3" y1="184.6" x2="399.8" y2="171.1"/><line x1="424.9" y1="152.6" x2="413.1" y2="147.4"/><line x1="345.2" y1="191.8" x2="350.2" y2="175.1"/><line x1="348.2" y1="195.6" x2="350.4" y2="186.6"/><line x1="415.8" y1="89.6" x2="408.3" y2="95.0"/><line x1="396.8" y1="193.3" x2="389.5" y2="177.8"/><line x1="349.6" y1="60.4" x2="351.8" y2="69.6"/><line x1="332.3" y1="190.7" x2="340.8" y2="174.0"/><line x1="370.6" y1="201.9" x2="369.5" y2="186.0"/><line x1="361.0" y1="199.7" x2="361.5" y2="190.6"/><line x1="362.8" y1="57.0" x2="363.1" y2="66.1"/><line x1="350.7" y1="63.9" x2="352.4" y2="71.4"/><line x1="429.4" y1="85.2" x2="415.9" y2="93.8"/><line x1="339.2" y1="67.2" x2="343.8" y2="77.7"/><line x1="421.2" y1="77.3" x2="410.5" y2="86.5"/><line x1="389.1" y1="62.1" x2="382.8" y2="79.1"/><line x1="404.3" y1="191.6" x2="395.9" y2="177.5"/><line x1="299.3" y1="150.7" x2="306.8" y2="147.9"/><line x1="332.2" y1="192.3" x2="336.0" y2="184.8"/><line x1="300.7" y1="96.2" x2="306.6" y2="98.9"/><line x1="309.9" y1="87.5" x2="319.9" y2="94.4"/><line x1="435.8" y1="105.0" x2="427.9" y2="107.3"/><line x1="358.4" y1="199.4" x2="359.1" y2="192.6"/><line x1="408.4" y1="179.8" x2="400.8" y2="170.3"/><line x1="402.8" y1="62.0" x2="397.6" y2="70.8"/><line x1="427.3" y1="140.3" x2="420.3" y2="138.7"/><line x1="431.5" y1="136.8" x2="422.2" y2="135.3"/><line x1="418.7" y1="169.6" x2="409.5" y2="162.2"/><line x1="392.7" y1="57.4" x2="390.4" y2="63.1"/><line x1="368.9" y1="188.0" x2="368.4" y2="178.5"/><line x1="350.1" y1="65.4" x2="354.4" y2="82.6"/><line x1="292.9" y1="112.1" x2="306.9" y2="114.8"/><line x1="309.7" y1="74.9" x2="322.1" y2="86.3"/><line x1="416.2" y1="89.5" x2="407.8" y2="95.5"/><line x1="364.8" y1="51.6" x2="364.9" y2="69.3"/><line x1="294.9" y1="123.7" x2="308.8" y2="124.2"/><line x1="332.2" y1="56.2" x2="340.1" y2="72.9"/><line x1="333.9" y1="193.1" x2="338.7" y2="182.9"/><line x1="297.1" y1="104.8" x2="313.1" y2="109.8"/><line x1="290.7" y1="131.4" x2="310.1" y2="130.0"/><line x1="427.8" y1="121.7" x2="414.0" y2="122.7"/><line x1="295.1" y1="133.2" x2="310.9" y2="131.6"/><line x1="302.9" y1="105.9" x2="310.8" y2="108.5"/><line x1="424.0" y1="76.1" x2="413.5" y2="85.0"/><line x1="387.7" y1="185.9" x2="384.1" y2="176.2"/><line x1="414.7" y1="168.1" x2="404.4" y2="159.3"/><line x1="420.5" y1="170.2" x2="407.6" y2="159.9"/><line x1="319.8" y1="79.1" x2="333.0" y2="92.8"/><line x1="390.3" y1="186.6" x2="386.6" y2="177.5"/><line x1="432.2" y1="106.2" x2="420.8" y2="109.5"/><line x1="302.1" y1="124.8" x2="309.0" y2="124.9"/><line x1="321.3" y1="72.5" x2="327.1" y2="79.5"/><line x1="436.0" y1="98.3" x2="417.8" y2="105.5"/><line x1="345.5" y1="62.7" x2="349.0" y2="74.1"/><line x1="412.5" y1="177.1" x2="407.0" y2="171.1"/><line x1="377.8" y1="52.2" x2="376.5" y2="59.7"/><line x1="311.3" y1="173.4" x2="317.1" y2="168.3"/><line x1="295.7" y1="100.9" x2="304.4" y2="104.0"/><line x1="391.5" y1="66.8" x2="386.3" y2="78.5"/><line x1="363.3" y1="56.4" x2="363.7" y2="72.8"/><line x1="345.5" y1="196.3" x2="349.3" y2="182.6"/><line x1="303.3" y1="121.9" x2="319.2" y2="123.0"/><line x1="304.3" y1="160.4" x2="312.1" y2="155.9"/><line x1="347.3" y1="60.0" x2="349.5" y2="68.1"/><line x1="293.6" y1="108.3" x2="310.5" y2="112.4"/><line x1="441.0" y1="112.2" x2="433.3" y2="113.6"/><line x1="359.4" y1="54.7" x2="360.7" y2="70.9"/><line x1="312.8" y1="166.0" x2="320.9" y2="159.8"/><line x1="301.9" y1="87.7" x2="318.0" y2="97.5"/><line x1="306.9" y1="91.6" x2="313.1" y2="95.2"/><line x1="424.2" y1="150.5" x2="405.8" y2="142.8"/><line x1="332.9" y1="61.1" x2="338.0" y2="71.3"/><line x1="315.7" y1="185.7" x2="327.1" y2="172.0"/><line x1="356.3" y1="187.7" x2="359.1" y2="168.3"/><line x1="363.6" y1="192.3" x2="363.8" y2="185.5"/><line x1="361.5" y1="192.4" x2="362.6" y2="173.5"/><line x1="404.2" y1="60.6" x2="397.0" y2="72.6"/><line x1="370.1" y1="192.4" x2="368.7" y2="173.2"/><line x1="423.0" y1="171.3" x2="412.7" y2="163.2"/><line x1="329.6" y1="181.1" x2="339.6" y2="165.6"/><line x1="290.7" y1="117.5" x2="307.9" y2="119.4"/><line x1="362.3" y1="192.5" x2="362.7" y2="182.1"/><line x1="310.8" y1="71.3" x2="323.7" y2="84.3"/><line x1="299.0" y1="110.3" x2="315.0" y2="114.1"/><line x1="301.5" y1="104.7" x2="309.4" y2="107.3"/><line x1="373.2" y1="49.3" x2="371.4" y2="67.0"/><line x1="438.5" y1="137.5" x2="430.1" y2="136.2"/><line x1="294.7" y1="93.2" x2="308.1" y2="99.4"/><line x1="375.9" y1="198.6" x2="373.9" y2="185.1"/><line x1="394.0" y1="193.5" x2="391.1" y2="186.7"/><line x1="356.0" y1="60.6" x2="357.4" y2="70.1"/><line x1="298.1" y1="111.2" x2="312.9" y2="114.4"/><line x1="313.6" y1="160.8" x2="319.3" y2="157.0"/><line x1="381.6" y1="52.7" x2="377.7" y2="69.8"/><line x1="427.2" y1="102.5" x2="420.4" y2="105.1"/><line x1="380.5" y1="189.9" x2="376.8" y2="174.4"/><line x1="326.9" y1="67.6" x2="331.4" y2="74.5"/><line x1="389.5" y1="187.1" x2="384.0" y2="173.3"/><line x1="442.8" y1="119.3" x2="427.1" y2="120.7"/><line x1="404.6" y1="186.1" x2="394.4" y2="170.5"/><line x1="435.5" y1="142.4" x2="417.2" y2="138.1"/><line x1="436.8" y1="139.4" x2="427.7" y2="137.7"/><line x1="344.0" y1="194.1" x2="346.8" y2="185.3"/><line x1="434.7" y1="119.9" x2="428.6" y2="120.4"/><line x1="415.0" y1="70.8" x2="402.4" y2="84.8"/><line x1="427.1" y1="151.5" x2="418.5" y2="148.0"/><line x1="408.3" y1="173.9" x2="399.9" y2="164.5"/><line x1="329.3" y1="183.5" x2="335.1" y2="174.1"/><line x1="421.6" y1="81.3" x2="413.8" y2="87.5"/><line x1="305.2" y1="80.0" x2="310.9" y2="84.4"/><line x1="397.2" y1="72.8" x2="393.7" y2="78.6"/><line x1="334.9" y1="181.9" x2="338.1" y2="175.9"/><line x1="436.6" y1="108.4" x2="430.6" y2="109.9"/><line x1="385.3" y1="191.1" x2="382.6" y2="182.6"/><line x1="405.5" y1="67.8" x2="399.5" y2="76.5"/><line x1="427.6" y1="112.9" x2="412.3" y2="116.1"/><line x1="407.2" y1="180.8" x2="401.7" y2="173.6"/><line x1="366.3" y1="59.3" x2="366.1" y2="70.7"/><line x1="400.8" y1="189.0" x2="392.2" y2="173.7"/><line x1="383.6" y1="199.4" x2="379.6" y2="183.2"/><line x1="366.7" y1="52.4" x2="366.3" y2="70.0"/><line x1="292.6" y1="102.2" x2="306.1" y2="106.6"/><line x1="426.5" y1="111.4" x2="414.4" y2="114.3"/><line x1="314.3" y1="78.1" x2="321.5" y2="84.9"/><line x1="321.8" y1="81.2" x2="328.2" y2="87.8"/><line x1="420.7" y1="89.4" x2="409.2" y2="97.0"/><line x1="311.9" y1="160.3" x2="318.4" y2="156.2"/><line x1="356.2" y1="188.8" x2="358.8" y2="170.5"/><line x1="423.6" y1="159.1" x2="416.6" y2="155.1"/><line x1="375.9" y1="191.3" x2="373.3" y2="175.3"/><line x1="371.0" y1="193.4" x2="370.3" y2="185.1"/><line x1="416.3" y1="84.8" x2="407.7" y2="91.8"/><line x1="387.3" y1="65.2" x2="380.8" y2="83.0"/><line x1="382.9" y1="63.2" x2="380.6" y2="71.2"/><line x1="421.8" y1="80.5" x2="415.3" y2="85.8"/><line x1="426.3" y1="98.1" x2="416.7" y2="102.5"/><line x1="427.9" y1="148.3" x2="421.5" y2="146.0"/><line x1="320.2" y1="68.7" x2="325.7" y2="75.6"/><line x1="323.5" y1="72.2" x2="334.2" y2="86.0"/><line x1="380.6" y1="63.9" x2="378.2" y2="73.8"/><line x1="298.3" y1="117.5" x2="311.3" y2="119.1"/><line x1="336.1" y1="53.7" x2="341.6" y2="67.3"/><line x1="316.8" y1="79.8" x2="323.7" y2="86.5"/><line x1="303.0" y1="172.8" x2="315.5" y2="163.4"/><line x1="434.4" y1="131.0" x2="425.0" y2="130.3"/><line x1="422.3" y1="91.2" x2="417.1" y2="94.4"/><line x1="289.1" y1="116.1" x2="297.0" y2="117.2"/><line x1="342.0" y1="64.9" x2="344.2" y2="70.7"/><line x1="337.7" y1="191.0" x2="344.0" y2="176.1"/><line x1="422.9" y1="177.8" x2="416.9" y2="172.5"/><line x1="289.4" y1="137.5" x2="296.8" y2="136.4"/><line x1="430.9" y1="154.9" x2="413.7" y2="147.4"/><line x1="342.2" y1="187.2" x2="349.2" y2="168.5"/><line x1="291.6" y1="142.2" x2="298.6" y2="140.7"/><line x1="397.4" y1="193.2" x2="391.3" y2="180.4"/><line x1="298.3" y1="150.5" x2="314.9" y2="144.4"/><line x1="298.3" y1="129.9" x2="310.3" y2="129.2"/><line x1="434.5" y1="152.1" x2="416.7" y2="145.4"/><line x1="335.0" y1="60.8" x2="341.8" y2="75.7"/><line x1="433.5" y1="105.6" x2="419.9" y2="109.6"/><line x1="304.4" y1="150.5" x2="317.2" y2="145.3"/><line x1="306.3" y1="102.7" x2="316.4" y2="106.7"/><line x1="403.4" y1="182.6" x2="400.0" y2="177.6"/><line x1="440.2" y1="125.2" x2="429.0" y2="125.3"/><line x1="422.6" y1="154.3" x2="405.4" y2="145.8"/><line x1="314.4" y1="167.6" x2="329.7" y2="155.0"/><line x1="333.1" y1="55.7" x2="338.9" y2="68.4"/><line x1="299.9" y1="135.1" x2="309.5" y2="133.7"/><line x1="440.2" y1="123.0" x2="421.0" y2="123.8"/><line x1="351.9" y1="194.1" x2="354.6" y2="180.4"/><line x1="441.3" y1="133.6" x2="428.5" y2="132.4"/><line x1="375.8" y1="51.4" x2="373.5" y2="67.3"/><line x1="324.1" y1="70.0" x2="330.6" y2="78.9"/><line x1="421.8" y1="97.8" x2="406.1" y2="105.6"/><line x1="438.7" y1="135.0" x2="431.6" y2="134.1"/><line x1="422.0" y1="83.7" x2="406.3" y2="95.4"/><line x1="422.5" y1="100.0" x2="414.4" y2="103.7"/><line x1="335.8" y1="186.1" x2="338.8" y2="180.0"/><line x1="302.9" y1="106.0" x2="309.8" y2="108.2"/><line x1="432.7" y1="108.8" x2="424.7" y2="110.8"/><line x1="313.6" y1="160.6" x2="320.5" y2="156.0"/><line x1="441.4" y1="134.2" x2="435.4" y2="133.6"/><line x1="419.5" y1="70.4" x2="408.0" y2="82.3"/><line x1="431.1" y1="97.4" x2="413.5" y2="105.0"/><line x1="442.2" y1="123.7" x2="430.6" y2="124.0"/><line x1="298.8" y1="152.0" x2="306.8" y2="148.9"/><line x1="380.4" y1="189.5" x2="375.8" y2="170.5"/><line x1="367.6" y1="60.3" x2="367.3" y2="68.9"/><line x1="356.5" y1="192.9" x2="358.5" y2="177.1"/><line x1="379.5" y1="200.6" x2="377.3" y2="189.1"/><line x1="374.3" y1="194.7" x2="373.3" y2="187.4"/><line x1="438.7" y1="149.5" x2="431.5" y2="147.2"/><line x1="368.4" y1="200.9" x2="367.6" y2="182.5"/><line x1="347.8" y1="187.1" x2="350.0" y2="179.4"/><line x1="299.8" y1="130.8" x2="316.4" y2="129.6"/><line x1="398.3" y1="70.3" x2="390.4" y2="83.7"/><line x1="374.8" y1="52.4" x2="372.6" y2="69.1"/><line x1="427.5" y1="81.3" x2="414.0" y2="91.0"/><line x1="383.3" y1="66.5" x2="378.3" y2="82.8"/><line x1="371.6" y1="190.5" x2="369.9" y2="173.7"/><line x1="418.7" y1="84.3" x2="403.1" y2="96.4"/><line x1="318.3" y1="178.5" x2="329.4" y2="166.1"/><line x1="300.5" y1="134.0" x2="308.7" y2="133.0"/><line x1="293.4" y1="108.2" x2="300.2" y2="109.9"/><line x1="418.2" y1="86.5" x2="407.6" y2="94.5"/><line x1="422.2" y1="177.9" x2="414.8" y2="171.0"/><line x1="291.3" y1="101.6" x2="307.1" y2="106.8"/><line x1="399.4" y1="63.2" x2="394.4" y2="72.4"/><line x1="347.7" y1="197.1" x2="350.8" y2="184.6"/><line x1="295.6" y1="143.0" x2="301.5" y2="141.6"/><line x1="290.6" y1="116.4" x2="302.0" y2="117.9"/><line x1="306.7" y1="83.1" x2="314.1" y2="88.4"/><line x1="333.6" y1="184.6" x2="339.7" y2="173.3"/><line x1="293.6" y1="99.0" x2="306.4" y2="103.8"/><line x1="410.0" y1="185.0" x2="399.2" y2="170.7"/><line x1="347.5" y1="199.8" x2="349.4" y2="191.9"/><line x1="400.4" y1="57.8" x2="397.4" y2="63.7"/><line x1="348.9" y1="50.0" x2="352.0" y2="64.3"/><line x1="417.1" y1="176.1" x2="410.8" y2="169.9"/><line x1="364.4" y1="193.8" x2="364.6" y2="178.5"/><line x1="341.2" y1="60.8" x2="347.9" y2="78.9"/><line x1="419.3" y1="167.5" x2="405.7" y2="157.1"/><line x1="428.8" y1="148.1" x2="418.4" y2="144.5"/><line x1="346.8" y1="56.6" x2="348.4" y2="62.8"/><line x1="337.8" y1="183.9" x2="345.1" y2="168.3"/><line x1="410.6" y1="177.1" x2="402.8" y2="168.3"/><line x1="380.8" y1="56.6" x2="379.0" y2="64.7"/><line x1="397.6" y1="71.2" x2="393.3" y2="78.6"/><line x1="435.4" y1="126.2" x2="419.8" y2="126.2"/><line x1="437.9" y1="144.0" x2="419.3" y2="139.4"/><line x1="363.9" y1="56.2" x2="364.0" y2="64.0"/><line x1="372.2" y1="203.5" x2="371.3" y2="193.6"/><line x1="339.4" y1="182.7" x2="345.5" y2="169.3"/><line x1="305.7" y1="170.0" x2="314.2" y2="163.7"/><line x1="390.2" y1="183.5" x2="384.5" y2="170.3"/><line x1="410.5" y1="78.5" x2="402.1" y2="87.3"/><line x1="352.8" y1="199.3" x2="354.9" y2="187.1"/><line x1="437.4" y1="101.3" x2="422.6" y2="106.4"/><line x1="289.5" y1="129.5" x2="298.3" y2="129.1"/><line x1="391.5" y1="184.7" x2="384.7" y2="169.5"/><line x1="431.7" y1="163.6" x2="425.5" y2="160.1"/><line x1="306.0" y1="101.4" x2="315.9" y2="105.6"/><line x1="441.2" y1="137.8" x2="432.5" y2="136.4"/><line x1="354.5" y1="63.3" x2="356.1" y2="73.0"/><line x1="324.3" y1="59.6" x2="333.6" y2="74.6"/><line x1="312.2" y1="176.3" x2="326.6" y2="162.6"/><line x1="303.1" y1="141.2" x2="322.4" y2="136.4"/><line x1="394.2" y1="194.1" x2="387.4" y2="178.1"/><line x1="429.0" y1="81.8" x2="415.2" y2="91.3"/><line x1="328.8" y1="73.3" x2="336.5" y2="84.4"/><line x1="418.5" y1="91.4" x2="405.0" y2="100.2"/><line x1="353.6" y1="192.1" x2="356.2" y2="177.4"/><line x1="423.1" y1="156.1" x2="415.6" y2="152.2"/><line x1="415.9" y1="74.8" x2="406.2" y2="84.6"/><line x1="316.0" y1="177.0" x2="329.2" y2="163.3"/><line x1="304.4" y1="103.8" x2="312.1" y2="106.6"/><line x1="440.9" y1="113.8" x2="430.8" y2="115.4"/><line x1="318.9" y1="168.8" x2="333.2" y2="155.6"/><line x1="441.5" y1="140.7" x2="428.1" y2="138.1"/><line x1="363.5" y1="61.4" x2="364.0" y2="79.2"/><line x1="429.6" y1="148.2" x2="419.0" y2="144.6"/><line x1="396.4" y1="193.8" x2="391.0" y2="182.1"/><line x1="373.9" y1="189.3" x2="373.0" y2="183.0"/><line x1="421.3" y1="85.1" x2="412.8" y2="91.3"/><line x1="305.6" y1="161.9" x2="318.8" y2="153.9"/><line x1="419.7" y1="81.6" x2="413.8" y2="86.4"/><line x1="326.1" y1="176.8" x2="337.9" y2="161.6"/><line x1="436.7" y1="156.3" x2="426.8" y2="152.1"/><line x1="415.6" y1="182.9" x2="403.2" y2="168.9"/><line x1="320.4" y1="63.8" x2="331.3" y2="79.0"/><line x1="413.4" y1="77.3" x2="402.3" y2="88.5"/><line x1="289.8" y1="117.3" x2="296.6" y2="118.1"/><line x1="414.7" y1="179.4" x2="405.0" y2="168.9"/><line x1="304.4" y1="86.0" x2="318.0" y2="94.9"/><line x1="356.2" y1="57.6" x2="357.7" y2="68.7"/><line x1="394.9" y1="56.3" x2="388.3" y2="71.6"/><line x1="435.4" y1="150.4" x2="420.6" y2="145.3"/><line x1="387.5" y1="64.2" x2="381.4" y2="81.3"/><line x1="422.9" y1="176.3" x2="418.3" y2="172.3"/><line x1="315.1" y1="77.7" x2="323.7" y2="86.0"/><line x1="405.0" y1="73.1" x2="400.1" y2="79.6"/><line x1="427.7" y1="168.1" x2="421.9" y2="164.2"/><line x1="435.5" y1="92.2" x2="425.7" y2="96.9"/><line x1="365.5" y1="54.7" x2="365.5" y2="62.9"/><line x1="428.2" y1="167.9" x2="418.7" y2="161.5"/><line x1="336.6" y1="185.0" x2="344.8" y2="168.0"/><line x1="434.6" y1="144.8" x2="419.7" y2="140.8"/><line x1="414.3" y1="175.9" x2="408.4" y2="169.9"/><line x1="419.7" y1="89.8" x2="406.1" y2="98.8"/><line x1="419.1" y1="169.0" x2="411.3" y2="162.7"/><line x1="395.6" y1="68.1" x2="388.7" y2="81.3"/><line x1="374.0" y1="187.6" x2="372.0" y2="173.6"/><line x1="296.3" y1="108.9" x2="306.9" y2="111.5"/><line x1="366.0" y1="195.8" x2="365.8" y2="180.1"/><line x1="325.5" y1="183.2" x2="335.1" y2="169.2"/><line x1="307.5" y1="155.9" x2="316.7" y2="151.1"/><line x1="332.7" y1="70.6" x2="341.6" y2="85.8"/><line x1="437.7" y1="101.0" x2="424.0" y2="105.7"/><line x1="387.9" y1="55.3" x2="381.9" y2="74.1"/><line x1="329.5" y1="63.4" x2="336.7" y2="76.0"/><line x1="348.3" y1="58.0" x2="349.8" y2="63.9"/><line x1="302.2" y1="147.6" x2="316.8" y2="142.6"/><line x1="369.0" y1="55.8" x2="368.1" y2="72.5"/><line x1="344.3" y1="197.7" x2="348.4" y2="183.8"/><line x1="411.1" y1="185.1" x2="406.5" y2="179.2"/><line x1="435.1" y1="159.7" x2="429.4" y2="157.0"/><line x1="439.7" y1="107.8" x2="432.7" y2="109.5"/><line x1="312.1" y1="174.6" x2="324.8" y2="163.0"/><line x1="377.0" y1="190.3" x2="375.3" y2="181.1"/><line x1="345.6" y1="188.4" x2="350.2" y2="173.6"/><line x1="302.8" y1="123.5" x2="311.5" y2="123.8"/><line x1="296.6" y1="140.7" x2="309.1" y2="138.1"/><line x1="341.3" y1="189.9" x2="347.8" y2="172.7"/><line x1="342.0" y1="67.4" x2="348.7" y2="84.3"/><line x1="440.1" y1="140.4" x2="426.6" y2="137.8"/><line x1="304.0" y1="81.2" x2="313.7" y2="88.3"/><line x1="322.3" y1="190.9" x2="330.4" y2="178.7"/><line x1="366.4" y1="52.4" x2="366.1" y2="69.0"/><line x1="299.6" y1="162.4" x2="314.2" y2="154.3"/><line x1="346.8" y1="188.8" x2="352.4" y2="169.9"/><line x1="435.9" y1="153.9" x2="421.4" y2="148.2"/><line x1="425.7" y1="173.0" x2="420.1" y2="168.6"/><line x1="401.1" y1="71.8" x2="391.4" y2="86.4"/><line x1="411.6" y1="72.4" x2="399.8" y2="86.0"/><line x1="439.4" y1="123.1" x2="429.7" y2="123.4"/><line x1="410.7" y1="176.5" x2="404.3" y2="169.3"/><line x1="309.2" y1="95.9" x2="319.8" y2="101.6"/><line x1="299.0" y1="95.9" x2="311.8" y2="101.7"/><line x1="398.8" y1="62.0" x2="392.5" y2="74.0"/><line x1="359.0" y1="203.2" x2="360.2" y2="188.1"/><line x1="430.6" y1="147.0" x2="415.8" y2="142.3"/><line x1="384.7" y1="55.9" x2="380.4" y2="71.4"/><line x1="425.9" y1="144.1" x2="414.3" y2="140.7"/><line x1="331.5" y1="57.5" x2="336.4" y2="67.5"/><line x1="359.3" y1="60.2" x2="360.4" y2="72.6"/><line x1="383.7" y1="59.9" x2="380.7" y2="70.6"/><line x1="346.5" y1="187.8" x2="349.3" y2="178.7"/><line x1="305.9" y1="149.7" x2="321.1" y2="143.6"/><line x1="425.3" y1="77.7" x2="411.1" y2="89.2"/><line x1="366.9" y1="57.9" x2="366.5" y2="75.9"/><line x1="362.0" y1="193.5" x2="362.4" y2="185.7"/><line x1="366.6" y1="59.6" x2="366.3" y2="72.4"/><line x1="405.5" y1="71.1" x2="400.0" y2="78.6"/><line x1="377.0" y1="195.1" x2="375.1" y2="183.6"/><line x1="308.3" y1="173.8" x2="321.7" y2="162.6"/><line x1="416.4" y1="161.9" x2="400.5" y2="150.8"/><line x1="305.1" y1="90.2" x2="310.2" y2="93.3"/><line x1="367.9" y1="194.7" x2="367.3" y2="179.4"/><line x1="389.1" y1="67.4" x2="384.9" y2="77.7"/><line x1="350.7" y1="187.3" x2="352.2" y2="180.9"/><line x1="296.0" y1="119.1" x2="315.6" y2="121.1"/><line x1="308.9" y1="97.9" x2="317.6" y2="102.3"/><line x1="385.4" y1="190.7" x2="381.1" y2="176.9"/><line x1="384.4" y1="56.9" x2="380.0" y2="73.0"/><line x1="401.1" y1="66.2" x2="392.0" y2="81.3"/><line x1="297.7" y1="162.1" x2="313.5" y2="153.6"/><line x1="289.5" y1="137.2" x2="298.8" y2="135.8"/><line x1="424.2" y1="174.2" x2="409.2" y2="162.0"/><line x1="309.3" y1="86.7" x2="316.5" y2="91.8"/><line x1="431.1" y1="131.6" x2="413.3" y2="130.1"/><line x1="421.9" y1="173.1" x2="407.9" y2="161.5"/><line x1="330.2" y1="65.3" x2="338.0" y2="78.9"/><line x1="344.3" y1="194.4" x2="349.1" y2="178.8"/><line x1="405.0" y1="181.6" x2="399.5" y2="173.9"/><line x1="299.3" y1="158.7" x2="308.2" y2="154.3"/><line x1="363.7" y1="201.6" x2="364.1" y2="181.7"/><line x1="304.3" y1="91.9" x2="310.2" y2="95.2"/><line x1="436.8" y1="129.8" x2="423.7" y2="129.1"/><line x1="423.1" y1="91.3" x2="407.4" y2="100.7"/><line x1="335.1" y1="196.7" x2="340.4" y2="184.2"/><line x1="355.6" y1="190.1" x2="357.7" y2="175.8"/><line x1="400.2" y1="182.3" x2="391.0" y2="167.5"/><line x1="375.8" y1="52.8" x2="374.5" y2="61.7"/><line x1="378.5" y1="65.3" x2="376.9" y2="72.6"/><line x1="299.1" y1="86.6" x2="311.9" y2="94.2"/><line x1="402.9" y1="70.4" x2="393.6" y2="84.1"/><line x1="362.3" y1="52.2" x2="362.9" y2="67.1"/><line x1="415.6" y1="83.2" x2="403.5" y2="93.5"/><line x1="423.8" y1="148.9" x2="412.8" y2="144.6"/><line x1="295.5" y1="123.8" x2="302.1" y2="124.0"/><line x1="297.0" y1="92.8" x2="313.4" y2="100.8"/><line x1="429.8" y1="131.0" x2="421.1" y2="130.3"/><line x1="352.6" y1="186.9" x2="356.2" y2="169.5"/><line x1="330.1" y1="74.8" x2="337.9" y2="86.2"/><line x1="414.4" y1="174.0" x2="401.3" y2="161.2"/><line x1="396.2" y1="184.3" x2="388.8" y2="170.4"/><line x1="408.6" y1="171.2" x2="398.0" y2="160.1"/><line x1="353.7" y1="188.7" x2="356.3" y2="174.9"/><line x1="418.3" y1="71.1" x2="411.8" y2="77.8"/><line x1="419.7" y1="83.8" x2="413.4" y2="88.6"/><line x1="430.6" y1="129.5" x2="418.1" y2="128.8"/><line x1="306.3" y1="89.2" x2="321.1" y2="98.5"/><line x1="414.3" y1="87.5" x2="407.6" y2="92.7"/><line x1="300.1" y1="158.7" x2="316.7" y2="150.4"/><line x1="324.8" y1="76.5" x2="331.2" y2="84.3"/><line x1="339.8" y1="194.1" x2="346.6" y2="175.9"/><line x1="417.7" y1="76.9" x2="404.1" y2="89.5"/><line x1="303.6" y1="103.2" x2="321.0" y2="109.6"/><line x1="411.1" y1="75.2" x2="401.3" y2="86.0"/><line x1="421.4" y1="162.2" x2="414.7" y2="157.8"/><line x1="296.5" y1="145.8" x2="315.1" y2="140.4"/><line x1="373.7" y1="189.1" x2="372.4" y2="180.0"/><line x1="386.4" y1="193.7" x2="381.2" y2="177.0"/><line x1="355.6" y1="60.6" x2="357.9" y2="76.3"/><line x1="336.6" y1="188.1" x2="343.8" y2="172.5"/><line x1="292.2" y1="131.4" x2="298.8" y2="131.0"/><line x1="306.5" y1="97.1" x2="317.6" y2="102.6"/><line x1="320.7" y1="82.5" x2="334.0" y2="95.5"/><line x1="338.6" y1="60.4" x2="342.0" y2="68.7"/><line x1="364.8" y1="193.2" x2="364.8" y2="186.8"/><line x1="352.0" y1="186.9" x2="356.1" y2="168.3"/><line x1="395.3" y1="63.4" x2="391.0" y2="72.3"/><line x1="293.3" y1="131.4" x2="302.6" y2="130.7"/><line x1="345.2" y1="63.8" x2="350.1" y2="79.1"/><line x1="302.4" y1="102.5" x2="319.7" y2="109.0"/><line x1="321.2" y1="71.4" x2="325.6" y2="76.9"/><line x1="375.1" y1="194.6" x2="373.8" y2="185.8"/><line x1="302.3" y1="127.4" x2="316.4" y2="127.1"/><line x1="424.1" y1="161.1" x2="414.5" y2="155.4"/><line x1="332.1" y1="192.4" x2="338.6" y2="179.5"/></g>
<g fill="#5cc85c" stroke="#0a4a0a" stroke-width="0.5"><circle cx="407.8" cy="126.0" r="1.8"/><circle cx="407.9" cy="128.4" r="1.4"/><circle cx="409.3" cy="129.2" r="1.3"/><circle cx="406.3" cy="131.0" r="1.8"/><circle cx="408.9" cy="131.3" r="1.4"/><circle cx="405.7" cy="133.9" r="1.6"/><circle cx="405.0" cy="137.2" r="1.8"/><circle cx="409.5" cy="139.0" r="1.2"/><circle cx="404.4" cy="139.3" r="1.8"/><circle cx="405.0" cy="142.1" r="1.8"/><circle cx="406.4" cy="143.3" r="1.5"/><circle cx="403.5" cy="145.1" r="1.8"/><circle cx="405.8" cy="145.5" r="1.5"/><circle cx="401.8" cy="147.1" r="1.7"/><circle cx="403.8" cy="148.1" r="1.3"/><circle cx="376.8" cy="165.5" r="1.6"/><circle cx="374.3" cy="166.2" r="1.9"/><circle cx="375.8" cy="171.2" r="1.4"/><circle cx="372.3" cy="168.1" r="1.6"/><circle cx="369.0" cy="167.8" r="1.3"/><circle cx="366.1" cy="167.0" r="1.7"/><circle cx="366.4" cy="170.6" r="1.5"/><circle cx="362.9" cy="168.3" r="1.3"/><circle cx="360.4" cy="167.1" r="1.5"/><circle cx="359.7" cy="171.7" r="1.3"/><circle cx="357.8" cy="168.0" r="1.6"/><circle cx="357.4" cy="171.4" r="1.2"/><circle cx="354.9" cy="166.1" r="1.3"/><circle cx="351.6" cy="166.2" r="1.9"/><circle cx="350.8" cy="168.8" r="1.4"/><circle cx="349.0" cy="164.6" r="1.4"/><circle cx="346.5" cy="163.7" r="1.4"/><circle cx="345.3" cy="166.6" r="1.4"/><circle cx="344.4" cy="162.4" r="1.6"/><circle cx="343.0" cy="160.5" r="1.9"/><circle cx="339.9" cy="164.2" r="1.6"/><circle cx="340.5" cy="159.2" r="1.3"/><circle cx="337.1" cy="162.5" r="1.6"/><circle cx="338.2" cy="157.3" r="1.8"/><circle cx="335.1" cy="160.4" r="1.5"/><circle cx="335.7" cy="155.5" r="1.6"/><circle cx="333.4" cy="153.2" r="1.9"/><circle cx="331.4" cy="151.8" r="1.7"/><circle cx="329.3" cy="149.4" r="1.8"/><circle cx="328.9" cy="145.8" r="1.7"/><circle cx="325.9" cy="147.2" r="1.5"/><circle cx="326.5" cy="143.4" r="1.8"/><circle cx="325.4" cy="141.1" r="1.7"/><circle cx="325.8" cy="138.3" r="1.7"/><circle cx="321.7" cy="139.3" r="1.5"/><circle cx="324.0" cy="135.9" r="1.8"/><circle cx="321.8" cy="136.1" r="1.1"/><circle cx="324.2" cy="132.9" r="1.6"/><circle cx="320.7" cy="134.0" r="1.4"/><circle cx="322.7" cy="129.9" r="1.4"/><circle cx="319.5" cy="130.0" r="1.4"/><circle cx="323.3" cy="126.9" r="1.7"/><circle cx="322.5" cy="124.1" r="1.7"/><circle cx="320.3" cy="123.6" r="1.3"/><circle cx="323.4" cy="121.0" r="1.7"/><circle cx="319.7" cy="120.7" r="1.4"/><circle cx="324.3" cy="118.6" r="1.7"/><circle cx="324.4" cy="115.5" r="1.4"/><circle cx="325.7" cy="112.9" r="1.6"/><circle cx="321.4" cy="111.2" r="1.6"/><circle cx="326.2" cy="109.8" r="1.4"/><circle cx="328.5" cy="107.5" r="1.8"/><circle cx="325.0" cy="106.4" r="1.3"/><circle cx="329.2" cy="104.5" r="1.6"/><circle cx="326.2" cy="102.3" r="1.6"/><circle cx="329.8" cy="101.6" r="1.7"/><circle cx="331.8" cy="99.0" r="1.3"/><circle cx="330.4" cy="98.2" r="1.3"/><circle cx="334.9" cy="98.2" r="1.7"/><circle cx="332.3" cy="96.0" r="1.4"/><circle cx="336.6" cy="96.4" r="1.7"/><circle cx="334.0" cy="94.0" r="1.3"/><circle cx="337.6" cy="94.2" r="1.4"/><circle cx="340.3" cy="93.4" r="1.8"/><circle cx="338.7" cy="90.1" r="1.6"/><circle cx="342.2" cy="91.8" r="1.5"/><circle cx="339.7" cy="88.5" r="1.2"/><circle cx="344.4" cy="89.3" r="1.9"/><circle cx="342.5" cy="85.8" r="1.4"/><circle cx="347.0" cy="88.1" r="1.3"/><circle cx="345.8" cy="84.1" r="1.5"/><circle cx="349.6" cy="86.5" r="1.3"/><circle cx="352.6" cy="86.3" r="1.4"/><circle cx="352.4" cy="83.6" r="1.6"/><circle cx="355.0" cy="84.5" r="1.6"/><circle cx="357.7" cy="85.4" r="1.8"/><circle cx="360.8" cy="84.1" r="1.7"/><circle cx="363.2" cy="84.3" r="1.8"/><circle cx="365.8" cy="84.2" r="1.5"/><circle cx="368.3" cy="84.8" r="1.3"/><circle cx="368.3" cy="81.0" r="1.2"/><circle cx="371.4" cy="84.9" r="1.5"/><circle cx="373.9" cy="85.0" r="1.6"/><circle cx="374.2" cy="80.9" r="1.5"/><circle cx="376.5" cy="85.9" r="1.6"/><circle cx="379.5" cy="87.3" r="1.5"/><circle cx="381.4" cy="83.9" r="1.2"/><circle cx="382.2" cy="86.9" r="1.4"/><circle cx="382.8" cy="84.0" r="1.6"/><circle cx="384.9" cy="88.6" r="1.4"/><circle cx="386.9" cy="91.1" r="1.7"/><circle cx="389.3" cy="87.2" r="1.3"/><circle cx="389.0" cy="92.2" r="1.6"/><circle cx="391.8" cy="94.1" r="1.4"/><circle cx="393.4" cy="95.7" r="1.5"/><circle cx="396.7" cy="91.9" r="1.5"/><circle cx="395.1" cy="97.4" r="1.3"/><circle cx="397.1" cy="99.2" r="1.9"/><circle cx="398.9" cy="101.6" r="1.6"/><circle cx="402.2" cy="98.3" r="1.3"/><circle cx="400.8" cy="103.8" r="1.6"/><circle cx="401.4" cy="106.4" r="1.8"/><circle cx="404.8" cy="104.2" r="1.6"/><circle cx="404.3" cy="108.3" r="1.5"/><circle cx="406.1" cy="107.7" r="1.3"/><circle cx="403.9" cy="111.1" r="1.6"/><circle cx="406.2" cy="113.2" r="1.5"/><circle cx="406.1" cy="116.1" r="1.5"/><circle cx="409.6" cy="115.8" r="1.5"/><circle cx="406.0" cy="119.4" r="1.8"/><circle cx="410.7" cy="119.4" r="1.5"/><circle cx="407.1" cy="122.5" r="1.8"/><circle cx="409.3" cy="122.6" r="1.3"/><circle cx="406.9" cy="125.8" r="1.5"/><circle cx="410.2" cy="125.6" r="1.2"/></g>
<g fill="#a0e8a0" fill-opacity="1.0"><circle cx="344.9" cy="89.3" r="0.4"/><circle cx="331.7" cy="97.1" r="0.6"/><circle cx="370.7" cy="167.3" r="0.5"/><circle cx="344.0" cy="162.6" r="0.5"/><circle cx="324.5" cy="131.4" r="0.5"/><circle cx="329.5" cy="153.1" r="0.5"/><circle cx="327.0" cy="145.7" r="0.6"/><circle cx="323.5" cy="121.8" r="0.5"/><circle cx="384.8" cy="86.8" r="0.5"/><circle cx="328.7" cy="101.5" r="0.6"/><circle cx="341.6" cy="161.5" r="0.7"/><circle cx="354.5" cy="166.0" r="0.4"/><circle cx="330.2" cy="154.2" r="0.6"/><circle cx="356.8" cy="84.1" r="0.6"/><circle cx="370.7" cy="82.7" r="0.4"/><circle cx="343.0" cy="88.9" r="0.5"/><circle cx="324.4" cy="121.1" r="0.5"/><circle cx="408.4" cy="126.4" r="0.5"/><circle cx="407.6" cy="128.3" r="0.4"/><circle cx="372.9" cy="166.6" r="0.6"/><circle cx="341.3" cy="161.9" r="0.7"/><circle cx="404.3" cy="139.5" r="0.6"/><circle cx="370.4" cy="168.4" r="0.5"/><circle cx="370.1" cy="167.7" r="0.6"/><circle cx="377.2" cy="166.0" r="0.7"/><circle cx="356.1" cy="82.2" r="0.4"/><circle cx="349.1" cy="165.3" r="0.6"/><circle cx="323.1" cy="113.9" r="0.6"/><circle cx="405.0" cy="105.3" r="0.5"/><circle cx="358.1" cy="166.5" r="0.5"/><circle cx="407.0" cy="138.8" r="0.6"/><circle cx="346.8" cy="86.3" r="0.7"/><circle cx="325.1" cy="142.7" r="0.5"/><circle cx="322.6" cy="127.5" r="0.5"/><circle cx="323.8" cy="141.0" r="0.7"/><circle cx="405.2" cy="136.3" r="0.5"/><circle cx="407.9" cy="128.3" r="0.6"/><circle cx="405.9" cy="136.3" r="0.5"/><circle cx="333.2" cy="96.4" r="0.6"/><circle cx="352.6" cy="83.7" r="0.5"/><circle cx="401.5" cy="100.1" r="0.6"/><circle cx="402.2" cy="147.0" r="0.6"/><circle cx="336.6" cy="93.8" r="0.6"/><circle cx="338.9" cy="92.0" r="0.5"/><circle cx="323.7" cy="115.1" r="0.6"/><circle cx="364.9" cy="167.3" r="0.7"/><circle cx="323.0" cy="111.6" r="0.4"/><circle cx="407.6" cy="124.7" r="0.7"/><circle cx="354.1" cy="82.8" r="0.6"/><circle cx="321.5" cy="125.5" r="0.7"/></g>
<circle cx="365.2" cy="126" r="39" fill="none" stroke="#8ee08e" stroke-width="1"/>
<polygon points="380.8,163.5 406.1,193.1 425.1,176.9 399.8,147.2" fill="#069806"/>
<path d="M398.8,145.8 A39,39 0 0 1 379.5,162.3" fill="none" stroke="#007800" stroke-width="0.9"/>
<line x1="380.8" y1="163.5" x2="406.1" y2="193.1" stroke="#8fe08f" stroke-width="1.4"/>
<g fill="#5acc5a"><circle cx="382.6" cy="167.0" r="0.9"/><circle cx="393.2" cy="181.2" r="1.1"/><circle cx="396.8" cy="184.3" r="1.0"/><circle cx="390.2" cy="180.1" r="1.1"/><circle cx="386.7" cy="172.1" r="1.0"/><circle cx="392.3" cy="178.4" r="0.9"/><circle cx="397.0" cy="182.2" r="1.3"/><circle cx="382.9" cy="167.8" r="0.8"/><circle cx="380.2" cy="164.8" r="1.1"/><circle cx="382.7" cy="167.3" r="1.2"/><circle cx="404.9" cy="193.6" r="1.4"/><circle cx="393.7" cy="181.2" r="1.5"/><circle cx="384.6" cy="169.1" r="1.4"/><circle cx="398.7" cy="186.4" r="1.4"/><circle cx="400.0" cy="185.4" r="1.0"/><circle cx="395.7" cy="182.3" r="1.3"/><circle cx="383.8" cy="170.6" r="1.0"/><circle cx="383.8" cy="171.7" r="0.9"/><circle cx="397.9" cy="183.6" r="0.8"/><circle cx="394.0" cy="180.7" r="1.4"/><circle cx="382.6" cy="167.7" r="1.3"/><circle cx="378.4" cy="165.6" r="1.2"/></g>
<line x1="399.8" y1="147.2" x2="425.1" y2="176.9" stroke="#006a00" stroke-width="0.8"/>
<g fill="#55c455"><circle cx="407.4" cy="151.7" r="1.1"/><circle cx="410.3" cy="156.8" r="0.9"/><circle cx="404.2" cy="147.3" r="1.0"/><circle cx="403.8" cy="151.0" r="0.8"/><circle cx="411.2" cy="159.5" r="1.0"/><circle cx="406.0" cy="153.0" r="1.1"/><circle cx="407.6" cy="151.6" r="0.9"/><circle cx="405.7" cy="148.8" r="0.8"/></g>
<g stroke="#000" stroke-opacity="0.5" stroke-width="1"><line x1="295" y1="229" x2="295" y2="227"/><line x1="263" y1="55" x2="265" y2="55"/><line x1="469" y1="55" x2="467" y2="55"/><line x1="331" y1="229" x2="331" y2="227"/><line x1="263" y1="91" x2="265" y2="91"/><line x1="469" y1="91" x2="467" y2="91"/><line x1="367" y1="229" x2="367" y2="227"/><line x1="263" y1="127" x2="265" y2="127"/><line x1="469" y1="127" x2="467" y2="127"/><line x1="403" y1="229" x2="403" y2="227"/><line x1="263" y1="163" x2="265" y2="163"/><line x1="469" y1="163" x2="467" y2="163"/><line x1="439" y1="229" x2="439" y2="227"/><line x1="263" y1="199" x2="265" y2="199"/><line x1="469" y1="199" x2="467" y2="199"/></g>
<rect x="263.5" y="24.5" width="205" height="204" fill="none" stroke="#7a8a7a" stroke-opacity="0.6" stroke-width="1"/>
</g>
<rect x="475.5" y="25.5" width="16" height="203" fill="url(#cm)" stroke="#777" stroke-width="1"/>
<line x1="489.5" y1="37.94" x2="491.5" y2="37.94" stroke="#444" stroke-width="0.8"/>
<text x="495.45" y="41.84" font-size="11.5" fill="#222">35</text>
<line x1="489.5" y1="63.83" x2="491.5" y2="63.83" stroke="#444" stroke-width="0.8"/>
<text x="495.45" y="67.73" font-size="11.5" fill="#222">30</text>
<line x1="489.5" y1="89.72" x2="491.5" y2="89.72" stroke="#444" stroke-width="0.8"/>
<text x="495.49" y="93.62" font-size="11.5" fill="#222">25</text>
<line x1="489.5" y1="115.61" x2="491.5" y2="115.61" stroke="#444" stroke-width="0.8"/>
<text x="495.49" y="119.51" font-size="11.5" fill="#222">20</text>
<line x1="489.5" y1="141.50" x2="491.5" y2="141.50" stroke="#444" stroke-width="0.8"/>
<text x="494.99" y="145.40" font-size="11.5" fill="#222">15</text>
<line x1="489.5" y1="167.39" x2="491.5" y2="167.39" stroke="#444" stroke-width="0.8"/>
<text x="494.99" y="171.29" font-size="11.5" fill="#222">10</text>
<line x1="489.5" y1="193.27" x2="491.5" y2="193.27" stroke="#444" stroke-width="0.8"/>
<text x="495.33" y="197.17" font-size="11.5" fill="#222">5</text>
<line x1="489.5" y1="219.16" x2="491.5" y2="219.16" stroke="#444" stroke-width="0.8"/>
<text x="495.56" y="223.06" font-size="11.5" fill="#222">0</text>
<rect x="2" y="241" width="205" height="24" fill="#000"/>
<rect x="2" y="241" width="205" height="1" fill="#555"/>
<g clip-path="url(#clipc)">
<rect x="2" y="265" width="205" height="204" fill="url(#rgc)"/>
<g stroke="#b0ffb0" stroke-opacity="0.1" stroke-width="0.5"><line x1="37.0" y1="334.2" x2="43.2" y2="337.1"/><line x1="92.0" y1="440.6" x2="93.3" y2="433.3"/><line x1="163.8" y1="328.3" x2="158.8" y2="331.5"/><line x1="50.3" y1="316.8" x2="56.1" y2="322.1"/><line x1="33.0" y1="353.4" x2="40.6" y2="354.8"/><line x1="57.9" y1="312.6" x2="60.4" y2="315.5"/><line x1="36.3" y1="368.0" x2="42.0" y2="367.8"/><line x1="98.4" y1="293.8" x2="99.1" y2="300.8"/><line x1="171.7" y1="333.8" x2="166.2" y2="336.5"/><line x1="155.7" y1="412.4" x2="149.9" y2="407.1"/><line x1="89.8" y1="435.1" x2="91.4" y2="427.9"/><line x1="104.8" y1="296.9" x2="104.8" y2="300.8"/><line x1="108.2" y1="437.3" x2="108.1" y2="435.3"/><line x1="34.3" y1="355.3" x2="38.6" y2="355.9"/><line x1="132.2" y1="429.9" x2="131.4" y2="427.9"/><line x1="158.2" y1="311.5" x2="154.5" y2="315.3"/><line x1="154.5" y1="415.2" x2="152.6" y2="413.3"/><line x1="77.0" y1="429.0" x2="78.5" y2="425.7"/><line x1="125.4" y1="433.4" x2="123.6" y2="427.8"/><line x1="34.1" y1="385.5" x2="38.1" y2="384.4"/><line x1="30.3" y1="347.6" x2="34.1" y2="348.6"/><line x1="171.3" y1="397.7" x2="167.4" y2="395.8"/><line x1="118.1" y1="298.3" x2="116.7" y2="305.4"/><line x1="178.7" y1="373.2" x2="174.1" y2="372.8"/><line x1="73.8" y1="437.9" x2="76.2" y2="432.2"/><line x1="143.1" y1="429.2" x2="140.1" y2="424.4"/><line x1="172.4" y1="380.7" x2="166.9" y2="379.5"/><line x1="95.5" y1="293.7" x2="96.1" y2="298.2"/><line x1="34.0" y1="363.2" x2="41.3" y2="363.5"/><line x1="176.2" y1="348.8" x2="174.2" y2="349.3"/><line x1="43.4" y1="412.7" x2="46.5" y2="410.3"/><line x1="160.1" y1="409.5" x2="155.2" y2="405.6"/><line x1="53.6" y1="316.9" x2="57.7" y2="320.9"/><line x1="110.2" y1="287.6" x2="109.7" y2="294.5"/><line x1="34.3" y1="397.4" x2="41.2" y2="394.4"/><line x1="156.9" y1="310.2" x2="153.1" y2="314.3"/><line x1="27.5" y1="360.7" x2="33.2" y2="361.1"/><line x1="92.2" y1="296.9" x2="92.7" y2="299.4"/><line x1="95.4" y1="440.3" x2="96.1" y2="434.9"/><line x1="127.1" y1="432.8" x2="124.7" y2="425.5"/><line x1="175.6" y1="400.4" x2="169.6" y2="397.5"/><line x1="34.0" y1="330.9" x2="39.4" y2="333.6"/><line x1="183.4" y1="369.6" x2="179.0" y2="369.5"/><line x1="171.7" y1="327.7" x2="169.3" y2="329.1"/><line x1="171.0" y1="383.1" x2="164.5" y2="381.5"/><line x1="123.1" y1="298.1" x2="122.4" y2="300.7"/><line x1="53.4" y1="423.6" x2="57.7" y2="418.8"/><line x1="157.9" y1="307.8" x2="153.5" y2="312.6"/><line x1="139.8" y1="307.7" x2="138.8" y2="309.5"/><line x1="153.6" y1="309.3" x2="151.0" y2="312.3"/><line x1="154.6" y1="418.1" x2="151.8" y2="415.1"/><line x1="31.8" y1="368.3" x2="35.1" y2="368.2"/><line x1="166.1" y1="401.0" x2="163.6" y2="399.6"/><line x1="163.6" y1="409.1" x2="161.4" y2="407.5"/><line x1="127.8" y1="295.8" x2="126.4" y2="300.3"/><line x1="59.6" y1="312.1" x2="61.0" y2="313.7"/><line x1="168.1" y1="400.4" x2="164.5" y2="398.4"/><line x1="103.7" y1="437.8" x2="103.9" y2="430.8"/><line x1="177.9" y1="370.3" x2="173.6" y2="370.0"/><line x1="89.7" y1="441.0" x2="90.3" y2="437.7"/><line x1="172.3" y1="384.6" x2="164.7" y2="382.6"/><line x1="65.7" y1="423.4" x2="70.1" y2="417.0"/><line x1="56.6" y1="304.0" x2="59.0" y2="307.2"/><line x1="130.1" y1="302.6" x2="128.8" y2="305.8"/><line x1="125.3" y1="295.4" x2="123.5" y2="301.8"/><line x1="46.2" y1="417.5" x2="48.0" y2="415.9"/><line x1="54.8" y1="317.2" x2="57.1" y2="319.4"/><line x1="159.0" y1="317.5" x2="153.9" y2="322.1"/><line x1="88.8" y1="440.8" x2="90.3" y2="433.5"/><line x1="55.5" y1="315.8" x2="59.7" y2="320.1"/><line x1="178.3" y1="342.9" x2="173.9" y2="344.3"/><line x1="49.1" y1="407.1" x2="54.5" y2="403.2"/><line x1="143.3" y1="425.4" x2="142.1" y2="423.5"/><line x1="142.1" y1="428.3" x2="139.6" y2="424.2"/><line x1="137.8" y1="431.2" x2="134.9" y2="425.4"/><line x1="161.9" y1="406.1" x2="157.7" y2="403.1"/><line x1="169.4" y1="321.8" x2="165.0" y2="324.9"/><line x1="170.2" y1="408.7" x2="163.5" y2="404.4"/><line x1="164.6" y1="322.5" x2="161.1" y2="325.1"/><line x1="39.2" y1="326.3" x2="46.0" y2="330.5"/><line x1="31.2" y1="369.3" x2="35.1" y2="369.1"/><line x1="33.1" y1="347.8" x2="36.7" y2="348.7"/><line x1="29.2" y1="386.6" x2="32.5" y2="385.7"/><line x1="103.2" y1="437.7" x2="103.4" y2="430.6"/><line x1="79.5" y1="439.4" x2="82.0" y2="432.2"/><line x1="159.7" y1="312.0" x2="157.4" y2="314.3"/><line x1="31.3" y1="390.0" x2="34.6" y2="388.9"/><line x1="42.4" y1="319.9" x2="48.5" y2="324.4"/><line x1="63.9" y1="422.2" x2="65.2" y2="420.5"/><line x1="74.7" y1="434.1" x2="76.2" y2="430.7"/><line x1="138.6" y1="298.9" x2="136.1" y2="304.0"/><line x1="138.2" y1="302.8" x2="135.5" y2="308.0"/><line x1="62.7" y1="423.7" x2="64.3" y2="421.6"/><line x1="123.7" y1="290.4" x2="123.2" y2="292.5"/><line x1="90.6" y1="299.1" x2="91.5" y2="303.5"/><line x1="73.1" y1="437.8" x2="75.0" y2="433.6"/><line x1="33.0" y1="361.4" x2="36.6" y2="361.7"/><line x1="107.8" y1="434.9" x2="107.7" y2="432.9"/><line x1="32.3" y1="342.7" x2="38.0" y2="344.5"/><line x1="100.3" y1="445.3" x2="100.4" y2="442.9"/><line x1="39.6" y1="396.2" x2="42.4" y2="394.9"/><line x1="178.7" y1="347.9" x2="176.0" y2="348.5"/><line x1="139.1" y1="435.5" x2="137.2" y2="431.7"/><line x1="82.2" y1="433.9" x2="83.5" y2="430.2"/><line x1="44.2" y1="328.4" x2="48.9" y2="331.4"/><line x1="173.2" y1="395.0" x2="168.1" y2="392.9"/><line x1="71.9" y1="436.7" x2="75.1" y2="429.9"/><line x1="64.9" y1="305.7" x2="66.5" y2="308.2"/><line x1="54.7" y1="315.7" x2="56.8" y2="317.8"/><line x1="36.1" y1="352.1" x2="41.8" y2="353.3"/><line x1="109.1" y1="298.3" x2="108.7" y2="304.1"/><line x1="130.7" y1="433.3" x2="128.4" y2="427.4"/><line x1="174.8" y1="350.8" x2="168.4" y2="352.2"/><line x1="60.0" y1="430.8" x2="61.7" y2="428.3"/><line x1="69.8" y1="307.0" x2="72.5" y2="311.6"/><line x1="101.5" y1="288.1" x2="101.8" y2="294.6"/><line x1="35.9" y1="344.1" x2="41.4" y2="345.8"/><line x1="60.2" y1="306.2" x2="64.0" y2="311.2"/><line x1="102.6" y1="287.7" x2="102.8" y2="293.5"/><line x1="159.3" y1="312.7" x2="156.2" y2="315.7"/><line x1="128.3" y1="298.1" x2="126.0" y2="304.7"/><line x1="161.5" y1="312.5" x2="156.1" y2="317.6"/><line x1="78.8" y1="297.4" x2="80.2" y2="300.9"/><line x1="54.8" y1="306.4" x2="57.5" y2="309.6"/><line x1="123.7" y1="440.5" x2="121.9" y2="433.3"/><line x1="123.9" y1="433.2" x2="123.1" y2="430.7"/><line x1="31.6" y1="341.5" x2="34.9" y2="342.6"/><line x1="122.4" y1="300.0" x2="121.6" y2="303.2"/><line x1="31.6" y1="344.1" x2="36.4" y2="345.6"/><line x1="77.4" y1="299.7" x2="79.1" y2="303.6"/><line x1="37.5" y1="357.4" x2="40.6" y2="357.8"/><line x1="60.2" y1="427.0" x2="62.1" y2="424.5"/><line x1="108.1" y1="445.4" x2="107.9" y2="439.5"/><line x1="39.8" y1="407.1" x2="45.1" y2="403.8"/><line x1="135.2" y1="298.5" x2="132.9" y2="303.6"/><line x1="164.6" y1="408.0" x2="161.1" y2="405.5"/><line x1="102.2" y1="438.4" x2="102.5" y2="431.1"/><line x1="116.8" y1="434.6" x2="116.1" y2="430.6"/><line x1="138.1" y1="426.0" x2="134.4" y2="419.4"/><line x1="39.6" y1="346.1" x2="44.6" y2="347.7"/><line x1="138.6" y1="431.6" x2="135.1" y2="424.8"/><line x1="176.7" y1="356.4" x2="170.1" y2="357.3"/><line x1="36.1" y1="369.4" x2="40.5" y2="369.2"/><line x1="133.3" y1="295.0" x2="130.9" y2="300.8"/><line x1="177.0" y1="360.8" x2="170.8" y2="361.3"/><line x1="137.5" y1="295.0" x2="134.5" y2="301.5"/><line x1="155.0" y1="314.8" x2="152.0" y2="317.9"/><line x1="54.0" y1="319.2" x2="56.8" y2="321.8"/><line x1="56.5" y1="417.3" x2="58.6" y2="415.0"/><line x1="63.8" y1="307.8" x2="65.2" y2="309.7"/><line x1="128.3" y1="291.2" x2="127.3" y2="294.4"/><line x1="77.5" y1="303.0" x2="78.8" y2="306.1"/><line x1="143.5" y1="430.9" x2="140.7" y2="426.3"/><line x1="137.8" y1="298.4" x2="134.9" y2="304.3"/><line x1="157.5" y1="313.5" x2="155.2" y2="315.8"/><line x1="145.4" y1="432.6" x2="141.8" y2="426.7"/><line x1="56.9" y1="303.9" x2="61.1" y2="309.3"/><line x1="47.4" y1="406.5" x2="51.2" y2="403.8"/><line x1="172.7" y1="327.6" x2="170.9" y2="328.6"/><line x1="177.9" y1="369.6" x2="170.4" y2="369.3"/><line x1="160.9" y1="312.8" x2="159.2" y2="314.5"/><line x1="125.9" y1="440.1" x2="124.6" y2="435.7"/><line x1="71.7" y1="437.8" x2="72.6" y2="435.9"/><line x1="27.2" y1="372.9" x2="33.4" y2="372.4"/><line x1="159.2" y1="320.4" x2="155.1" y2="323.9"/><line x1="173.8" y1="357.1" x2="169.2" y2="357.7"/><line x1="174.6" y1="362.5" x2="168.0" y2="362.9"/><line x1="104.4" y1="295.4" x2="104.5" y2="303.3"/><line x1="118.2" y1="298.1" x2="116.7" y2="305.9"/><line x1="159.3" y1="317.0" x2="157.7" y2="318.4"/><line x1="120.9" y1="293.4" x2="119.5" y2="299.7"/><line x1="169.3" y1="401.5" x2="163.3" y2="398.2"/><line x1="95.4" y1="297.0" x2="96.0" y2="300.9"/><line x1="34.7" y1="387.0" x2="42.3" y2="384.8"/><line x1="167.1" y1="338.7" x2="161.8" y2="341.0"/><line x1="155.4" y1="425.4" x2="152.0" y2="421.5"/><line x1="167.6" y1="319.4" x2="161.5" y2="323.9"/><line x1="138.5" y1="426.3" x2="135.2" y2="420.5"/><line x1="29.9" y1="382.9" x2="34.5" y2="381.9"/><line x1="39.3" y1="405.2" x2="42.9" y2="403.1"/><line x1="32.4" y1="368.0" x2="38.5" y2="367.8"/><line x1="170.9" y1="397.9" x2="166.0" y2="395.6"/><line x1="73.9" y1="294.5" x2="75.5" y2="298.4"/><line x1="178.6" y1="348.1" x2="174.5" y2="349.1"/><line x1="38.2" y1="339.0" x2="43.7" y2="341.2"/><line x1="182.1" y1="378.4" x2="178.0" y2="377.8"/><line x1="173.7" y1="371.3" x2="169.7" y2="371.0"/><line x1="98.6" y1="443.5" x2="98.9" y2="439.3"/><line x1="166.5" y1="330.6" x2="162.9" y2="332.7"/><line x1="179.0" y1="342.9" x2="171.7" y2="345.2"/><line x1="156.6" y1="411.6" x2="152.0" y2="407.6"/><line x1="68.9" y1="425.4" x2="70.2" y2="423.2"/><line x1="73.3" y1="430.4" x2="75.9" y2="425.1"/><line x1="174.7" y1="361.6" x2="167.9" y2="362.1"/><line x1="40.4" y1="322.9" x2="46.9" y2="327.3"/><line x1="165.0" y1="331.3" x2="159.4" y2="334.6"/><line x1="115.7" y1="294.8" x2="115.4" y2="297.0"/><line x1="109.7" y1="291.4" x2="109.3" y2="297.9"/><line x1="107.7" y1="290.0" x2="107.7" y2="292.3"/><line x1="178.4" y1="337.9" x2="174.6" y2="339.4"/><line x1="122.4" y1="289.7" x2="121.3" y2="294.1"/><line x1="66.5" y1="430.5" x2="69.9" y2="424.8"/><line x1="40.2" y1="405.9" x2="46.8" y2="401.9"/><line x1="49.9" y1="422.0" x2="51.9" y2="420.0"/><line x1="40.5" y1="323.4" x2="44.1" y2="325.9"/><line x1="90.1" y1="435.9" x2="91.0" y2="431.8"/><line x1="48.8" y1="412.5" x2="51.5" y2="410.3"/><line x1="46.6" y1="326.6" x2="49.6" y2="328.6"/><line x1="28.5" y1="383.2" x2="32.0" y2="382.4"/><line x1="136.9" y1="436.1" x2="134.6" y2="431.1"/><line x1="162.3" y1="420.5" x2="160.0" y2="418.3"/><line x1="57.5" y1="313.9" x2="62.1" y2="319.0"/><line x1="53.5" y1="421.1" x2="58.1" y2="416.1"/><line x1="84.4" y1="297.8" x2="85.5" y2="301.4"/><line x1="40.8" y1="329.5" x2="46.2" y2="332.6"/><line x1="167.3" y1="395.0" x2="165.5" y2="394.2"/><line x1="128.6" y1="300.5" x2="126.4" y2="306.6"/><line x1="29.0" y1="387.5" x2="34.6" y2="385.9"/><line x1="144.1" y1="309.3" x2="139.9" y2="315.4"/><line x1="54.5" y1="412.6" x2="59.7" y2="407.8"/><line x1="112.6" y1="441.3" x2="112.4" y2="439.2"/><line x1="36.9" y1="393.6" x2="41.3" y2="391.8"/><line x1="137.9" y1="303.1" x2="134.4" y2="309.8"/><line x1="147.1" y1="433.0" x2="145.1" y2="429.9"/><line x1="70.7" y1="295.6" x2="73.3" y2="301.1"/><line x1="146.5" y1="311.3" x2="141.8" y2="317.5"/><line x1="178.1" y1="385.5" x2="171.3" y2="383.8"/><line x1="112.8" y1="290.5" x2="112.2" y2="296.1"/><line x1="175.2" y1="360.6" x2="167.8" y2="361.2"/><line x1="129.2" y1="300.5" x2="127.5" y2="305.0"/><line x1="40.8" y1="393.7" x2="47.4" y2="390.9"/><line x1="152.0" y1="306.0" x2="150.6" y2="307.8"/><line x1="95.0" y1="288.4" x2="95.8" y2="294.7"/><line x1="176.6" y1="333.5" x2="170.9" y2="336.1"/><line x1="101.4" y1="295.0" x2="101.7" y2="301.6"/><line x1="77.5" y1="431.8" x2="79.0" y2="428.1"/><line x1="80.1" y1="430.1" x2="81.2" y2="427.4"/><line x1="93.2" y1="435.8" x2="93.5" y2="433.7"/><line x1="98.0" y1="289.3" x2="98.3" y2="293.3"/><line x1="87.1" y1="290.6" x2="87.6" y2="292.7"/><line x1="38.0" y1="333.2" x2="40.7" y2="334.6"/><line x1="167.6" y1="321.5" x2="163.4" y2="324.5"/><line x1="29.5" y1="348.7" x2="31.8" y2="349.3"/><line x1="157.6" y1="314.5" x2="154.9" y2="317.1"/><line x1="100.3" y1="440.3" x2="100.5" y2="437.7"/><line x1="138.5" y1="301.9" x2="135.1" y2="308.5"/><line x1="178.5" y1="343.9" x2="176.0" y2="344.7"/><line x1="107.5" y1="441.4" x2="107.2" y2="433.7"/><line x1="54.1" y1="315.2" x2="58.9" y2="320.1"/><line x1="32.2" y1="383.2" x2="36.8" y2="382.1"/><line x1="176.3" y1="343.6" x2="173.8" y2="344.4"/><line x1="59.8" y1="309.5" x2="61.7" y2="311.8"/><line x1="33.9" y1="368.1" x2="41.6" y2="367.9"/><line x1="119.1" y1="439.1" x2="118.7" y2="437.1"/><line x1="80.0" y1="437.4" x2="81.6" y2="432.7"/><line x1="66.0" y1="302.8" x2="69.0" y2="307.6"/><line x1="101.6" y1="444.7" x2="101.9" y2="438.8"/><line x1="181.2" y1="379.8" x2="178.2" y2="379.3"/><line x1="39.8" y1="404.2" x2="46.2" y2="400.5"/><line x1="138.8" y1="429.1" x2="136.4" y2="424.6"/><line x1="74.4" y1="299.7" x2="77.0" y2="305.4"/><line x1="173.5" y1="362.3" x2="169.1" y2="362.5"/><line x1="125.4" y1="291.9" x2="123.4" y2="299.4"/><line x1="68.1" y1="426.8" x2="71.2" y2="421.7"/><line x1="141.1" y1="298.3" x2="138.7" y2="302.9"/><line x1="157.2" y1="421.3" x2="154.8" y2="418.7"/><line x1="172.1" y1="377.1" x2="168.1" y2="376.5"/><line x1="52.9" y1="419.2" x2="56.2" y2="415.8"/><line x1="30.0" y1="360.6" x2="33.0" y2="360.9"/><line x1="128.2" y1="294.4" x2="126.1" y2="301.0"/><line x1="36.7" y1="337.3" x2="43.2" y2="340.1"/><line x1="66.7" y1="306.5" x2="70.5" y2="312.5"/><line x1="130.3" y1="432.7" x2="127.8" y2="426.2"/><line x1="38.0" y1="386.0" x2="45.1" y2="383.9"/><line x1="48.8" y1="327.5" x2="52.2" y2="329.8"/><line x1="65.4" y1="425.5" x2="69.0" y2="420.3"/><line x1="114.2" y1="434.6" x2="113.2" y2="427.5"/><line x1="39.5" y1="332.9" x2="46.0" y2="336.3"/><line x1="72.8" y1="295.6" x2="74.5" y2="299.3"/><line x1="81.0" y1="434.0" x2="82.6" y2="429.4"/><line x1="42.8" y1="333.5" x2="47.5" y2="336.1"/><line x1="175.8" y1="337.7" x2="173.9" y2="338.4"/><line x1="30.6" y1="377.5" x2="32.9" y2="377.2"/><line x1="181.7" y1="362.1" x2="176.3" y2="362.4"/><line x1="30.1" y1="358.2" x2="34.5" y2="358.6"/><line x1="39.6" y1="332.2" x2="43.2" y2="334.1"/><line x1="37.4" y1="379.1" x2="43.0" y2="378.0"/><line x1="110.7" y1="437.1" x2="110.5" y2="434.2"/><line x1="104.9" y1="293.2" x2="104.9" y2="298.6"/><line x1="30.4" y1="361.0" x2="34.6" y2="361.3"/><line x1="100.3" y1="442.8" x2="100.7" y2="436.5"/><line x1="144.5" y1="423.5" x2="142.2" y2="420.2"/><line x1="124.7" y1="297.6" x2="123.7" y2="300.8"/><line x1="38.2" y1="397.5" x2="43.4" y2="395.1"/><line x1="74.4" y1="432.1" x2="77.7" y2="424.9"/><line x1="108.4" y1="295.9" x2="108.2" y2="300.9"/><line x1="150.5" y1="430.9" x2="148.5" y2="428.0"/><line x1="167.8" y1="334.5" x2="164.8" y2="336.0"/><line x1="65.5" y1="426.2" x2="67.8" y2="422.8"/><line x1="48.0" y1="411.4" x2="50.1" y2="409.8"/><line x1="52.2" y1="311.8" x2="54.5" y2="314.2"/><line x1="150.2" y1="417.6" x2="148.1" y2="415.2"/><line x1="30.3" y1="358.2" x2="37.9" y2="359.0"/><line x1="134.7" y1="303.2" x2="133.2" y2="306.4"/><line x1="127.8" y1="431.2" x2="127.0" y2="429.1"/><line x1="28.8" y1="345.8" x2="36.4" y2="347.9"/><line x1="174.9" y1="377.0" x2="170.8" y2="376.4"/><line x1="148.7" y1="312.8" x2="145.8" y2="316.4"/><line x1="158.7" y1="311.5" x2="156.6" y2="313.7"/><line x1="29.7" y1="357.7" x2="32.4" y2="358.1"/><line x1="154.0" y1="308.7" x2="151.3" y2="311.9"/><line x1="69.9" y1="425.8" x2="73.7" y2="419.4"/><line x1="131.7" y1="436.0" x2="129.4" y2="430.2"/><line x1="43.6" y1="319.7" x2="46.5" y2="321.9"/><line x1="69.9" y1="305.2" x2="73.0" y2="310.6"/><line x1="106.7" y1="293.1" x2="106.6" y2="299.4"/><line x1="74.7" y1="305.2" x2="76.1" y2="308.1"/><line x1="123.6" y1="439.8" x2="121.9" y2="433.0"/><line x1="114.6" y1="444.1" x2="114.2" y2="441.0"/><line x1="34.8" y1="399.6" x2="38.2" y2="398.0"/><line x1="147.8" y1="312.9" x2="145.5" y2="315.8"/><line x1="145.5" y1="302.7" x2="144.0" y2="305.1"/><line x1="31.1" y1="371.0" x2="33.3" y2="370.9"/><line x1="167.1" y1="338.2" x2="160.2" y2="341.3"/><line x1="79.4" y1="295.3" x2="80.8" y2="299.3"/><line x1="106.9" y1="439.8" x2="106.7" y2="432.1"/><line x1="165.4" y1="407.8" x2="160.8" y2="404.6"/><line x1="179.7" y1="352.9" x2="172.1" y2="354.3"/><line x1="82.5" y1="296.9" x2="84.8" y2="304.2"/><line x1="178.9" y1="385.4" x2="176.9" y2="384.8"/><line x1="163.0" y1="402.8" x2="159.0" y2="400.3"/><line x1="127.1" y1="292.6" x2="125.5" y2="298.1"/><line x1="56.4" y1="418.5" x2="59.6" y2="415.1"/><line x1="69.3" y1="431.0" x2="72.2" y2="425.8"/><line x1="170.6" y1="409.2" x2="168.3" y2="407.7"/><line x1="152.7" y1="317.7" x2="151.3" y2="319.1"/><line x1="174.4" y1="348.8" x2="170.2" y2="349.8"/><line x1="113.8" y1="298.0" x2="113.1" y2="303.6"/><line x1="154.4" y1="312.0" x2="152.9" y2="313.6"/><line x1="150.0" y1="429.8" x2="148.1" y2="427.2"/><line x1="84.4" y1="293.9" x2="86.2" y2="300.3"/><line x1="59.5" y1="307.7" x2="63.7" y2="313.1"/><line x1="92.1" y1="296.9" x2="92.6" y2="299.3"/><line x1="41.5" y1="327.2" x2="46.6" y2="330.4"/><line x1="84.4" y1="442.7" x2="85.9" y2="437.4"/><line x1="43.7" y1="400.1" x2="46.4" y2="398.6"/><line x1="94.0" y1="441.2" x2="94.7" y2="436.8"/><line x1="132.2" y1="300.1" x2="129.5" y2="306.6"/><line x1="179.2" y1="352.4" x2="172.5" y2="353.6"/><line x1="86.2" y1="437.1" x2="87.3" y2="432.9"/><line x1="40.7" y1="412.3" x2="43.9" y2="409.9"/><line x1="179.4" y1="349.8" x2="175.8" y2="350.6"/><line x1="38.4" y1="396.0" x2="42.7" y2="394.1"/><line x1="175.9" y1="341.7" x2="171.2" y2="343.3"/><line x1="42.7" y1="330.4" x2="45.1" y2="331.7"/><line x1="45.8" y1="415.9" x2="51.0" y2="411.5"/><line x1="178.5" y1="382.0" x2="172.0" y2="380.6"/><line x1="51.4" y1="308.5" x2="54.0" y2="311.3"/><line x1="141.3" y1="429.0" x2="140.3" y2="427.2"/><line x1="150.1" y1="309.0" x2="146.4" y2="313.7"/><line x1="31.0" y1="365.1" x2="35.2" y2="365.1"/><line x1="121.7" y1="290.3" x2="119.9" y2="298.0"/><line x1="37.8" y1="336.8" x2="42.8" y2="338.9"/><line x1="174.3" y1="347.9" x2="172.2" y2="348.5"/><line x1="27.2" y1="364.3" x2="30.1" y2="364.4"/><line x1="62.7" y1="428.4" x2="65.9" y2="423.6"/><line x1="67.4" y1="433.0" x2="70.8" y2="427.0"/><line x1="82.6" y1="291.7" x2="83.4" y2="294.4"/><line x1="42.8" y1="404.1" x2="46.0" y2="402.1"/><line x1="34.9" y1="401.9" x2="40.7" y2="399.0"/><line x1="133.1" y1="436.7" x2="130.9" y2="431.2"/><line x1="104.7" y1="438.2" x2="104.7" y2="435.4"/><line x1="32.0" y1="388.9" x2="35.9" y2="387.7"/><line x1="78.5" y1="431.9" x2="81.4" y2="424.7"/><line x1="105.0" y1="439.3" x2="105.0" y2="435.9"/><line x1="28.2" y1="370.8" x2="35.4" y2="370.3"/><line x1="36.1" y1="328.4" x2="39.4" y2="330.2"/><line x1="77.9" y1="299.4" x2="79.2" y2="302.7"/><line x1="48.9" y1="408.9" x2="53.5" y2="405.4"/><line x1="144.6" y1="431.1" x2="141.3" y2="425.6"/><line x1="176.5" y1="375.9" x2="170.7" y2="375.1"/><line x1="59.4" y1="306.7" x2="60.6" y2="308.4"/><line x1="103.2" y1="296.8" x2="103.2" y2="298.9"/><line x1="105.6" y1="293.4" x2="105.6" y2="296.6"/><line x1="150.6" y1="422.3" x2="146.9" y2="417.7"/><line x1="177.1" y1="381.7" x2="172.5" y2="380.7"/><line x1="155.4" y1="313.9" x2="153.4" y2="316.0"/><line x1="47.1" y1="328.6" x2="49.2" y2="330.0"/><line x1="164.2" y1="321.5" x2="160.9" y2="323.9"/><line x1="121.1" y1="434.0" x2="120.0" y2="429.7"/><line x1="35.9" y1="404.0" x2="40.1" y2="401.7"/><line x1="48.7" y1="413.8" x2="51.6" y2="411.4"/><line x1="32.5" y1="365.4" x2="35.7" y2="365.5"/><line x1="51.5" y1="421.4" x2="53.2" y2="419.6"/><line x1="43.2" y1="317.8" x2="47.6" y2="321.2"/><line x1="30.0" y1="387.5" x2="36.1" y2="385.8"/><line x1="69.5" y1="424.4" x2="73.4" y2="418.0"/><line x1="37.0" y1="389.1" x2="38.9" y2="388.5"/><line x1="119.8" y1="441.1" x2="118.7" y2="435.6"/><line x1="147.5" y1="429.9" x2="143.8" y2="424.3"/><line x1="167.7" y1="407.2" x2="164.4" y2="405.0"/><line x1="52.9" y1="415.1" x2="56.7" y2="411.5"/><line x1="171.6" y1="408.3" x2="169.2" y2="406.7"/><line x1="173.0" y1="360.8" x2="168.5" y2="361.2"/><line x1="93.6" y1="444.7" x2="94.2" y2="440.7"/><line x1="177.1" y1="366.2" x2="174.4" y2="366.2"/><line x1="55.2" y1="413.8" x2="58.8" y2="410.4"/><line x1="141.6" y1="426.5" x2="140.1" y2="424.1"/><line x1="69.6" y1="437.2" x2="71.9" y2="432.5"/><line x1="52.6" y1="309.3" x2="55.6" y2="312.7"/><line x1="68.4" y1="308.7" x2="71.2" y2="313.1"/><line x1="141.4" y1="304.2" x2="140.0" y2="306.5"/><line x1="171.6" y1="328.2" x2="168.3" y2="330.1"/><line x1="158.8" y1="414.5" x2="155.2" y2="411.3"/><line x1="99.1" y1="443.7" x2="99.5" y2="438.4"/><line x1="131.9" y1="297.5" x2="129.1" y2="304.6"/><line x1="56.5" y1="310.8" x2="59.7" y2="314.5"/><line x1="151.3" y1="307.4" x2="148.0" y2="311.5"/><line x1="143.9" y1="433.8" x2="140.8" y2="428.6"/><line x1="177.2" y1="359.3" x2="174.0" y2="359.6"/><line x1="172.7" y1="389.9" x2="167.9" y2="388.3"/><line x1="105.7" y1="442.5" x2="105.6" y2="439.3"/><line x1="165.7" y1="332.1" x2="163.0" y2="333.6"/><line x1="161.2" y1="418.7" x2="155.9" y2="413.7"/><line x1="79.1" y1="300.5" x2="81.6" y2="307.0"/><line x1="82.0" y1="299.2" x2="84.4" y2="306.3"/><line x1="110.2" y1="295.4" x2="109.8" y2="300.6"/><line x1="174.0" y1="370.2" x2="171.5" y2="370.1"/><line x1="135.0" y1="299.7" x2="132.7" y2="304.8"/><line x1="166.5" y1="330.5" x2="164.1" y2="332.0"/><line x1="98.1" y1="444.6" x2="98.5" y2="440.7"/><line x1="171.1" y1="385.0" x2="167.0" y2="383.8"/><line x1="158.8" y1="320.8" x2="153.7" y2="325.1"/><line x1="54.0" y1="426.7" x2="57.6" y2="422.4"/><line x1="110.3" y1="437.8" x2="109.9" y2="432.6"/><line x1="45.5" y1="408.9" x2="51.7" y2="404.4"/><line x1="175.0" y1="383.2" x2="168.7" y2="381.6"/><line x1="168.2" y1="321.0" x2="164.7" y2="323.5"/><line x1="55.2" y1="426.5" x2="58.7" y2="422.3"/><line x1="171.7" y1="347.7" x2="165.3" y2="349.5"/><line x1="94.3" y1="287.8" x2="94.8" y2="291.2"/><line x1="42.3" y1="320.5" x2="46.1" y2="323.2"/><line x1="158.7" y1="419.6" x2="156.6" y2="417.5"/><line x1="145.0" y1="434.7" x2="142.5" y2="430.5"/><line x1="181.2" y1="347.1" x2="178.4" y2="347.8"/><line x1="112.8" y1="442.5" x2="112.4" y2="439.5"/><line x1="160.2" y1="407.6" x2="154.4" y2="403.3"/><line x1="166.2" y1="318.3" x2="162.8" y2="321.0"/><line x1="110.5" y1="440.1" x2="110.4" y2="437.9"/><line x1="124.1" y1="442.2" x2="122.1" y2="434.5"/><line x1="55.6" y1="416.7" x2="59.5" y2="412.7"/><line x1="167.0" y1="325.3" x2="162.7" y2="328.1"/><line x1="66.3" y1="300.7" x2="68.2" y2="304.0"/><line x1="69.0" y1="430.3" x2="71.4" y2="426.1"/><line x1="174.9" y1="362.0" x2="172.8" y2="362.1"/><line x1="30.2" y1="340.5" x2="37.5" y2="343.0"/><line x1="153.1" y1="429.2" x2="148.6" y2="423.3"/><line x1="98.8" y1="436.8" x2="99.0" y2="433.6"/><line x1="31.0" y1="373.7" x2="34.2" y2="373.4"/><line x1="30.9" y1="367.1" x2="33.9" y2="367.0"/><line x1="64.6" y1="309.8" x2="67.4" y2="313.7"/><line x1="129.8" y1="431.3" x2="127.8" y2="426.3"/><line x1="131.3" y1="297.2" x2="130.3" y2="299.9"/><line x1="138.0" y1="436.7" x2="135.7" y2="431.8"/><line x1="92.8" y1="437.7" x2="93.3" y2="434.8"/><line x1="45.1" y1="333.8" x2="51.0" y2="337.0"/><line x1="128.4" y1="434.4" x2="125.8" y2="427.0"/><line x1="171.8" y1="392.6" x2="166.4" y2="390.5"/><line x1="52.4" y1="309.5" x2="57.1" y2="314.6"/><line x1="31.0" y1="387.1" x2="34.3" y2="386.2"/><line x1="122.9" y1="291.0" x2="122.4" y2="293.1"/><line x1="113.7" y1="294.9" x2="113.3" y2="297.5"/><line x1="148.7" y1="422.2" x2="144.4" y2="416.8"/><line x1="153.0" y1="308.6" x2="150.4" y2="311.8"/><line x1="94.1" y1="435.8" x2="94.5" y2="433.4"/><line x1="32.2" y1="386.0" x2="38.8" y2="384.2"/><line x1="107.6" y1="288.4" x2="107.4" y2="293.8"/><line x1="102.2" y1="291.3" x2="102.4" y2="297.2"/><line x1="115.1" y1="298.0" x2="114.8" y2="300.1"/><line x1="120.6" y1="437.1" x2="119.6" y2="432.6"/><line x1="173.3" y1="398.2" x2="168.1" y2="395.7"/><line x1="60.8" y1="430.7" x2="62.8" y2="427.8"/><line x1="64.9" y1="434.5" x2="66.7" y2="431.5"/><line x1="126.3" y1="431.5" x2="125.0" y2="427.5"/><line x1="43.7" y1="328.2" x2="48.2" y2="331.0"/><line x1="59.0" y1="307.9" x2="63.9" y2="314.2"/><line x1="103.8" y1="297.5" x2="103.9" y2="304.9"/><line x1="88.4" y1="291.4" x2="90.0" y2="298.4"/><line x1="146.5" y1="309.1" x2="143.9" y2="312.7"/><line x1="64.1" y1="304.7" x2="67.7" y2="310.2"/><line x1="35.3" y1="396.5" x2="39.2" y2="394.8"/><line x1="65.4" y1="430.3" x2="67.9" y2="426.3"/><line x1="56.6" y1="421.0" x2="59.5" y2="417.7"/><line x1="70.6" y1="429.9" x2="73.1" y2="425.2"/><line x1="151.2" y1="421.7" x2="147.4" y2="417.2"/><line x1="53.4" y1="423.4" x2="55.9" y2="420.7"/><line x1="34.0" y1="384.4" x2="37.9" y2="383.4"/><line x1="26.7" y1="366.6" x2="34.3" y2="366.6"/><line x1="162.5" y1="417.6" x2="158.1" y2="413.7"/><line x1="34.6" y1="366.2" x2="38.2" y2="366.2"/><line x1="40.1" y1="391.6" x2="46.9" y2="388.9"/><line x1="165.9" y1="316.1" x2="164.0" y2="317.7"/><line x1="146.7" y1="433.2" x2="143.8" y2="428.6"/><line x1="99.8" y1="442.3" x2="100.2" y2="436.8"/><line x1="92.7" y1="289.3" x2="93.2" y2="292.7"/><line x1="89.2" y1="440.1" x2="90.8" y2="432.5"/><line x1="31.7" y1="350.5" x2="36.5" y2="351.5"/><line x1="182.2" y1="377.2" x2="177.1" y2="376.5"/><line x1="127.0" y1="431.6" x2="125.5" y2="427.2"/><line x1="135.9" y1="295.4" x2="133.2" y2="301.7"/><line x1="177.9" y1="347.1" x2="174.4" y2="348.0"/><line x1="127.8" y1="437.1" x2="126.3" y2="432.5"/><line x1="121.9" y1="443.2" x2="121.3" y2="440.9"/><line x1="129.7" y1="432.0" x2="127.9" y2="427.2"/><line x1="91.7" y1="297.1" x2="92.3" y2="300.3"/><line x1="89.6" y1="289.6" x2="90.5" y2="294.4"/><line x1="166.9" y1="324.5" x2="162.8" y2="327.3"/><line x1="96.4" y1="436.4" x2="96.9" y2="432.2"/><line x1="170.3" y1="328.6" x2="164.7" y2="331.8"/><line x1="162.9" y1="314.8" x2="160.0" y2="317.4"/><line x1="132.9" y1="428.5" x2="130.4" y2="423.1"/><line x1="146.6" y1="430.8" x2="142.8" y2="425.0"/><line x1="146.4" y1="431.7" x2="144.3" y2="428.4"/><line x1="27.8" y1="358.1" x2="30.0" y2="358.3"/><line x1="115.5" y1="436.4" x2="114.4" y2="429.5"/><line x1="163.7" y1="322.8" x2="161.5" y2="324.4"/><line x1="137.4" y1="302.8" x2="134.8" y2="307.8"/><line x1="179.4" y1="348.3" x2="173.8" y2="349.7"/><line x1="48.0" y1="319.3" x2="52.0" y2="322.6"/><line x1="33.6" y1="392.7" x2="40.6" y2="390.1"/><line x1="174.5" y1="378.5" x2="168.6" y2="377.5"/><line x1="145.6" y1="304.0" x2="143.1" y2="307.8"/><line x1="111.0" y1="441.3" x2="110.8" y2="439.0"/><line x1="106.4" y1="443.5" x2="106.3" y2="438.3"/><line x1="48.8" y1="324.5" x2="50.7" y2="326.0"/><line x1="137.1" y1="304.8" x2="134.8" y2="309.3"/><line x1="43.3" y1="327.7" x2="46.7" y2="329.8"/><line x1="37.8" y1="333.9" x2="40.2" y2="335.0"/><line x1="64.1" y1="430.3" x2="67.1" y2="425.6"/><line x1="94.4" y1="439.5" x2="95.1" y2="435.0"/><line x1="166.0" y1="399.9" x2="160.1" y2="396.6"/><line x1="65.8" y1="306.6" x2="68.2" y2="310.3"/><line x1="118.3" y1="433.6" x2="117.6" y2="430.0"/><line x1="60.8" y1="423.9" x2="62.3" y2="421.8"/><line x1="123.1" y1="295.5" x2="122.6" y2="297.6"/><line x1="65.4" y1="309.4" x2="68.8" y2="314.4"/><line x1="35.2" y1="391.1" x2="39.1" y2="389.7"/><line x1="149.4" y1="310.5" x2="147.7" y2="312.6"/><line x1="32.7" y1="342.8" x2="35.9" y2="343.9"/><line x1="29.7" y1="354.1" x2="32.4" y2="354.5"/><line x1="145.5" y1="307.1" x2="142.7" y2="311.3"/><line x1="86.5" y1="440.9" x2="87.8" y2="435.4"/><line x1="43.9" y1="404.2" x2="49.5" y2="400.7"/><line x1="76.3" y1="430.9" x2="77.2" y2="428.9"/><line x1="158.6" y1="310.0" x2="153.9" y2="315.0"/><line x1="177.6" y1="361.6" x2="170.2" y2="362.1"/><line x1="54.7" y1="316.1" x2="57.7" y2="319.0"/><line x1="72.6" y1="430.2" x2="74.2" y2="427.0"/><line x1="61.0" y1="431.5" x2="62.3" y2="429.5"/><line x1="30.8" y1="385.6" x2="37.3" y2="383.9"/><line x1="180.3" y1="383.1" x2="176.5" y2="382.3"/><line x1="57.4" y1="308.7" x2="61.9" y2="314.0"/><line x1="171.1" y1="327.9" x2="168.5" y2="329.3"/><line x1="84.8" y1="434.7" x2="85.5" y2="432.2"/><line x1="104.8" y1="436.7" x2="104.8" y2="428.8"/><line x1="46.8" y1="314.4" x2="52.6" y2="319.6"/><line x1="153.3" y1="307.3" x2="150.7" y2="310.5"/><line x1="74.3" y1="432.3" x2="77.3" y2="425.8"/><line x1="82.0" y1="436.4" x2="84.1" y2="430.0"/><line x1="169.7" y1="404.7" x2="167.9" y2="403.6"/><line x1="102.6" y1="441.9" x2="102.8" y2="435.8"/><line x1="179.0" y1="352.2" x2="171.8" y2="353.6"/><line x1="124.1" y1="298.4" x2="122.0" y2="305.9"/><line x1="179.6" y1="382.0" x2="175.3" y2="381.1"/><line x1="110.9" y1="437.7" x2="110.4" y2="431.4"/><line x1="166.2" y1="326.1" x2="160.1" y2="330.1"/><line x1="67.4" y1="434.4" x2="71.0" y2="427.7"/><line x1="79.5" y1="298.8" x2="80.8" y2="302.2"/><line x1="155.4" y1="424.6" x2="150.9" y2="419.4"/><line x1="117.3" y1="434.8" x2="115.9" y2="427.5"/><line x1="139.1" y1="301.0" x2="138.2" y2="302.8"/><line x1="127.4" y1="299.1" x2="125.8" y2="303.9"/><line x1="135.5" y1="437.6" x2="133.3" y2="432.4"/><line x1="180.0" y1="374.9" x2="176.6" y2="374.5"/><line x1="113.8" y1="295.9" x2="113.1" y2="301.1"/><line x1="62.0" y1="308.4" x2="63.6" y2="310.6"/><line x1="55.7" y1="414.2" x2="60.6" y2="409.4"/><line x1="81.2" y1="430.1" x2="82.9" y2="425.6"/><line x1="35.3" y1="395.6" x2="39.7" y2="393.8"/><line x1="168.2" y1="391.3" x2="160.9" y2="388.4"/><line x1="43.1" y1="328.6" x2="45.9" y2="330.4"/><line x1="85.8" y1="291.5" x2="87.2" y2="296.9"/><line x1="124.0" y1="435.2" x2="122.1" y2="428.3"/><line x1="44.7" y1="411.8" x2="46.4" y2="410.6"/><line x1="37.8" y1="326.8" x2="44.0" y2="330.4"/><line x1="143.7" y1="305.3" x2="141.5" y2="308.7"/><line x1="32.3" y1="370.3" x2="38.1" y2="370.0"/><line x1="41.6" y1="412.6" x2="47.9" y2="408.0"/><line x1="34.4" y1="393.8" x2="41.3" y2="391.1"/><line x1="176.0" y1="349.1" x2="172.2" y2="350.1"/></g>
<polygon points="120.7,401.6 144.4,436.2 156.0,428.3 132.2,393.7" fill="#0a8a0a"/>
<circle cx="104.9" cy="366.3" r="40.3" fill="none" stroke="#60cc60" stroke-width="1"/>
<line x1="99.9" y1="406.8" x2="99.5" y2="409.6" stroke="#40b040" stroke-width="0.8"/><circle cx="99.5" cy="409.6" r="1.3" fill="#60d060"/><line x1="90.8" y1="404.6" x2="89.7" y2="407.5" stroke="#40b040" stroke-width="0.8"/><circle cx="89.7" cy="407.5" r="1.3" fill="#60d060"/><line x1="84.3" y1="401.5" x2="81.6" y2="406.0" stroke="#40b040" stroke-width="0.8"/><circle cx="81.6" cy="406.0" r="1.3" fill="#60d060"/><line x1="78.8" y1="397.7" x2="76.1" y2="400.9" stroke="#40b040" stroke-width="0.8"/><circle cx="76.1" cy="400.9" r="1.3" fill="#60d060"/><line x1="71.9" y1="390.3" x2="68.7" y2="392.7" stroke="#40b040" stroke-width="0.8"/><circle cx="68.7" cy="392.7" r="1.3" fill="#60d060"/><line x1="68.4" y1="384.6" x2="63.5" y2="387.1" stroke="#40b040" stroke-width="0.8"/><circle cx="63.5" cy="387.1" r="1.3" fill="#60d060"/><line x1="66.4" y1="379.8" x2="63.2" y2="381.0" stroke="#40b040" stroke-width="0.8"/><circle cx="63.2" cy="381.0" r="1.3" fill="#60d060"/><line x1="64.3" y1="370.8" x2="60.2" y2="371.3" stroke="#40b040" stroke-width="0.8"/><circle cx="60.2" cy="371.3" r="1.3" fill="#60d060"/><line x1="64.1" y1="365.7" x2="60.5" y2="365.6" stroke="#40b040" stroke-width="0.8"/><circle cx="60.5" cy="365.6" r="1.3" fill="#60d060"/><line x1="65.2" y1="356.7" x2="61.6" y2="355.8" stroke="#40b040" stroke-width="0.8"/><circle cx="61.6" cy="355.8" r="1.3" fill="#60d060"/><line x1="67.6" y1="349.7" x2="64.4" y2="348.2" stroke="#40b040" stroke-width="0.8"/><circle cx="64.4" cy="348.2" r="1.3" fill="#60d060"/><line x1="70.3" y1="344.7" x2="67.2" y2="342.8" stroke="#40b040" stroke-width="0.8"/><circle cx="67.2" cy="342.8" r="1.3" fill="#60d060"/><line x1="76.3" y1="337.2" x2="74.0" y2="334.9" stroke="#40b040" stroke-width="0.8"/><circle cx="74.0" cy="334.9" r="1.3" fill="#60d060"/><line x1="79.7" y1="334.2" x2="77.9" y2="331.9" stroke="#40b040" stroke-width="0.8"/><circle cx="77.9" cy="331.9" r="1.3" fill="#60d060"/><line x1="87.8" y1="329.2" x2="85.6" y2="324.4" stroke="#40b040" stroke-width="0.8"/><circle cx="85.6" cy="324.4" r="1.3" fill="#60d060"/><line x1="93.0" y1="327.3" x2="91.4" y2="321.9" stroke="#40b040" stroke-width="0.8"/><circle cx="91.4" cy="321.9" r="1.3" fill="#60d060"/><line x1="102.0" y1="325.6" x2="101.7" y2="321.5" stroke="#40b040" stroke-width="0.8"/><circle cx="101.7" cy="321.5" r="1.3" fill="#60d060"/><line x1="108.3" y1="325.6" x2="108.8" y2="320.4" stroke="#40b040" stroke-width="0.8"/><circle cx="108.8" cy="320.4" r="1.3" fill="#60d060"/><line x1="116.1" y1="327.1" x2="117.5" y2="322.4" stroke="#40b040" stroke-width="0.8"/><circle cx="117.5" cy="322.4" r="1.3" fill="#60d060"/><line x1="121.3" y1="329.0" x2="123.1" y2="325.0" stroke="#40b040" stroke-width="0.8"/><circle cx="123.1" cy="325.0" r="1.3" fill="#60d060"/><line x1="129.9" y1="334.1" x2="132.1" y2="331.2" stroke="#40b040" stroke-width="0.8"/><circle cx="132.1" cy="331.2" r="1.3" fill="#60d060"/><line x1="133.8" y1="337.5" x2="136.3" y2="335.0" stroke="#40b040" stroke-width="0.8"/><circle cx="136.3" cy="335.0" r="1.3" fill="#60d060"/><line x1="138.2" y1="342.7" x2="141.2" y2="340.5" stroke="#40b040" stroke-width="0.8"/><circle cx="141.2" cy="340.5" r="1.3" fill="#60d060"/><line x1="142.0" y1="349.3" x2="144.5" y2="348.2" stroke="#40b040" stroke-width="0.8"/><circle cx="144.5" cy="348.2" r="1.3" fill="#60d060"/><line x1="144.6" y1="357.0" x2="148.4" y2="356.1" stroke="#40b040" stroke-width="0.8"/><circle cx="148.4" cy="356.1" r="1.3" fill="#60d060"/><line x1="145.7" y1="365.0" x2="149.2" y2="364.9" stroke="#40b040" stroke-width="0.8"/><circle cx="149.2" cy="364.9" r="1.3" fill="#60d060"/><line x1="145.0" y1="373.7" x2="148.1" y2="374.3" stroke="#40b040" stroke-width="0.8"/><circle cx="148.1" cy="374.3" r="1.3" fill="#60d060"/><line x1="143.7" y1="378.9" x2="146.5" y2="379.8" stroke="#40b040" stroke-width="0.8"/><circle cx="146.5" cy="379.8" r="1.3" fill="#60d060"/><line x1="140.9" y1="385.5" x2="144.2" y2="387.3" stroke="#40b040" stroke-width="0.8"/><circle cx="144.2" cy="387.3" r="1.3" fill="#60d060"/><line x1="136.9" y1="391.6" x2="139.5" y2="393.7" stroke="#40b040" stroke-width="0.8"/><circle cx="139.5" cy="393.7" r="1.3" fill="#60d060"/>
<line x1="120.7" y1="401.6" x2="144.4" y2="436.2" stroke="#70d870" stroke-width="1.2"/>
<g fill="#55c855"><circle cx="138.3" cy="394.6" r="1.1"/><circle cx="140.7" cy="398.0" r="1.1"/><circle cx="143.0" cy="401.5" r="1.1"/><circle cx="145.4" cy="404.9" r="1.1"/><circle cx="147.8" cy="408.4" r="1.1"/><circle cx="150.2" cy="411.9" r="1.1"/><circle cx="152.6" cy="415.3" r="1.1"/><circle cx="154.9" cy="418.8" r="1.1"/><circle cx="157.3" cy="422.3" r="1.1"/></g>
<g fill="#55c855"><circle cx="142.8" cy="391.4" r="1.1"/><circle cx="145.2" cy="394.9" r="1.1"/><circle cx="147.6" cy="398.4" r="1.1"/><circle cx="149.9" cy="401.8" r="1.1"/><circle cx="152.3" cy="405.3" r="1.1"/><circle cx="154.7" cy="408.8" r="1.1"/><circle cx="157.1" cy="412.2" r="1.1"/><circle cx="159.5" cy="415.7" r="1.1"/><circle cx="161.8" cy="419.1" r="1.1"/></g>
<g fill="#55c855"><circle cx="123.9" cy="401.9" r="1.1"/><circle cx="125.9" cy="404.7" r="1.1"/><circle cx="127.8" cy="407.6" r="1.1"/><circle cx="129.7" cy="410.4" r="1.1"/><circle cx="131.7" cy="413.2" r="1.1"/><circle cx="133.6" cy="416.1" r="1.1"/><circle cx="135.6" cy="418.9" r="1.1"/><circle cx="137.5" cy="421.7" r="1.1"/><circle cx="139.5" cy="424.6" r="1.1"/><circle cx="141.4" cy="427.4" r="1.1"/><circle cx="143.4" cy="430.2" r="1.1"/><circle cx="145.3" cy="433.0" r="1.1"/></g>
<g stroke="#000" stroke-opacity="0.5" stroke-width="1"><line x1="34" y1="469" x2="34" y2="467"/><line x1="2" y1="296" x2="4" y2="296"/><line x1="207" y1="296" x2="205" y2="296"/><line x1="70" y1="469" x2="70" y2="467"/><line x1="2" y1="332" x2="4" y2="332"/><line x1="207" y1="332" x2="205" y2="332"/><line x1="106" y1="469" x2="106" y2="467"/><line x1="2" y1="368" x2="4" y2="368"/><line x1="207" y1="368" x2="205" y2="368"/><line x1="142" y1="469" x2="142" y2="467"/><line x1="2" y1="404" x2="4" y2="404"/><line x1="207" y1="404" x2="205" y2="404"/><line x1="178" y1="469" x2="178" y2="467"/><line x1="2" y1="440" x2="4" y2="440"/><line x1="207" y1="440" x2="205" y2="440"/></g>
<rect x="2.5" y="265.5" width="204" height="203" fill="none" stroke="#7a8a7a" stroke-opacity="0.6" stroke-width="1"/>
</g>
<rect x="214.0" y="263.5" width="16.0" height="205" fill="url(#cm)" stroke="#777" stroke-width="1"/>
<line x1="228.0" y1="279.41" x2="230.0" y2="279.41" stroke="#444" stroke-width="0.8"/>
<text x="233.95" y="283.31" font-size="11.5" fill="#222">30</text>
<line x1="228.0" y1="306.77" x2="230.0" y2="306.77" stroke="#444" stroke-width="0.8"/>
<text x="233.99" y="310.67" font-size="11.5" fill="#222">25</text>
<line x1="228.0" y1="334.13" x2="230.0" y2="334.13" stroke="#444" stroke-width="0.8"/>
<text x="233.99" y="338.03" font-size="11.5" fill="#222">20</text>
<line x1="228.0" y1="361.49" x2="230.0" y2="361.49" stroke="#444" stroke-width="0.8"/>
<text x="233.49" y="365.39" font-size="11.5" fill="#222">15</text>
<line x1="228.0" y1="388.84" x2="230.0" y2="388.84" stroke="#444" stroke-width="0.8"/>
<text x="233.49" y="392.74" font-size="11.5" fill="#222">10</text>
<line x1="228.0" y1="416.20" x2="230.0" y2="416.20" stroke="#444" stroke-width="0.8"/>
<text x="233.83" y="420.10" font-size="11.5" fill="#222">5</text>
<line x1="228.0" y1="443.56" x2="230.0" y2="443.56" stroke="#444" stroke-width="0.8"/>
<text x="234.06" y="447.46" font-size="11.5" fill="#222">0</text>
<rect x="263" y="241.5" width="205" height="23.5" fill="#000"/>
<rect x="263" y="241.5" width="205" height="1" fill="#555"/>
<g clip-path="url(#clipd)">
<rect x="263" y="265" width="205" height="204" fill="url(#rgd)"/>
<circle cx="364.6" cy="367.2" r="40" fill="none" stroke="#0c7a0c" stroke-width="1"/>
<g stroke="#22a022" stroke-width="1.3"><line x1="347.2" y1="290.6" x2="350.4" y2="306.5"/><line x1="361.5" y1="288.7" x2="362.4" y2="304.7"/><line x1="360.7" y1="288.8" x2="361.5" y2="303.0"/><line x1="370.5" y1="288.9" x2="369.7" y2="300.1"/><line x1="367.2" y1="288.7" x2="366.4" y2="300.3"/><line x1="368.4" y1="288.8" x2="367.5" y2="301.7"/><line x1="379.7" y1="290.1" x2="376.7" y2="309.4"/><line x1="376.0" y1="289.5" x2="372.9" y2="309.3"/><line x1="375.1" y1="289.4" x2="371.7" y2="311.2"/><line x1="383.5" y1="291.0" x2="379.3" y2="308.1"/><line x1="383.4" y1="291.0" x2="376.9" y2="317.2"/><line x1="384.5" y1="291.3" x2="377.5" y2="320.0"/><line x1="392.6" y1="293.9" x2="388.2" y2="305.3"/><line x1="393.7" y1="294.3" x2="388.7" y2="307.3"/><line x1="392.5" y1="293.8" x2="388.1" y2="305.4"/><line x1="405.8" y1="300.4" x2="400.3" y2="309.7"/><line x1="402.5" y1="298.4" x2="397.2" y2="307.4"/><line x1="430.6" y1="324.7" x2="421.2" y2="331.2"/><line x1="430.3" y1="324.3" x2="417.5" y2="333.0"/><line x1="431.0" y1="325.2" x2="418.0" y2="334.1"/><line x1="439.4" y1="343.1" x2="422.8" y2="349.1"/><line x1="438.1" y1="339.5" x2="415.6" y2="347.7"/><line x1="438.8" y1="341.5" x2="421.3" y2="347.9"/><line x1="442.0" y1="353.7" x2="432.0" y2="355.8"/><line x1="441.9" y1="353.4" x2="431.6" y2="355.6"/><line x1="441.0" y1="348.9" x2="430.7" y2="351.1"/><line x1="442.9" y1="361.1" x2="430.4" y2="361.6"/><line x1="442.8" y1="374.1" x2="433.3" y2="373.3"/><line x1="442.6" y1="376.6" x2="432.9" y2="375.8"/><line x1="441.7" y1="381.8" x2="424.4" y2="378.4"/><line x1="437.9" y1="395.3" x2="419.3" y2="387.9"/><line x1="428.3" y1="413.1" x2="411.5" y2="401.8"/><line x1="429.8" y1="410.9" x2="404.0" y2="393.6"/><line x1="428.4" y1="413.1" x2="403.8" y2="396.6"/><line x1="416.9" y1="425.8" x2="405.4" y2="412.0"/><line x1="407.1" y1="433.2" x2="398.9" y2="420.1"/><line x1="408.4" y1="432.4" x2="398.5" y2="416.5"/><line x1="404.7" y1="434.7" x2="395.1" y2="419.4"/><line x1="394.3" y1="439.9" x2="384.5" y2="417.6"/><line x1="394.9" y1="439.6" x2="386.1" y2="419.5"/><line x1="394.8" y1="439.7" x2="385.3" y2="417.9"/><line x1="384.5" y1="443.2" x2="382.0" y2="432.4"/><line x1="383.6" y1="443.4" x2="380.7" y2="430.9"/><line x1="374.9" y1="445.0" x2="373.4" y2="431.7"/><line x1="375.8" y1="444.9" x2="374.4" y2="432.4"/><line x1="361.4" y1="445.7" x2="362.8" y2="422.4"/><line x1="352.8" y1="444.8" x2="354.8" y2="433.7"/><line x1="350.7" y1="444.5" x2="352.8" y2="432.6"/><line x1="350.7" y1="444.5" x2="353.4" y2="429.5"/><line x1="340.9" y1="442.1" x2="345.2" y2="426.7"/><line x1="342.9" y1="442.6" x2="346.7" y2="429.1"/><line x1="334.0" y1="439.5" x2="339.7" y2="425.6"/><line x1="320.6" y1="432.2" x2="325.5" y2="425.1"/><line x1="312.4" y1="425.8" x2="321.5" y2="415.7"/><line x1="311.7" y1="425.2" x2="326.0" y2="409.4"/><line x1="310.6" y1="424.2" x2="324.8" y2="408.6"/><line x1="304.2" y1="417.4" x2="316.6" y2="407.5"/><line x1="296.1" y1="405.6" x2="306.8" y2="399.5"/><line x1="296.2" y1="405.7" x2="308.4" y2="398.7"/><line x1="288.6" y1="387.2" x2="302.7" y2="382.9"/><line x1="289.6" y1="390.4" x2="303.1" y2="386.4"/><line x1="287.2" y1="380.4" x2="303.7" y2="378.1"/><line x1="286.7" y1="377.2" x2="305.4" y2="374.5"/><line x1="286.7" y1="377.2" x2="304.8" y2="374.7"/><line x1="286.4" y1="373.9" x2="306.7" y2="372.7"/><line x1="288.2" y1="349.0" x2="307.8" y2="354.3"/><line x1="289.3" y1="344.8" x2="308.4" y2="349.9"/><line x1="294.7" y1="331.4" x2="314.3" y2="341.9"/><line x1="296.4" y1="328.2" x2="313.6" y2="337.4"/><line x1="306.0" y1="314.9" x2="314.9" y2="322.7"/><line x1="315.7" y1="305.8" x2="325.1" y2="317.2"/><line x1="315.9" y1="305.6" x2="324.8" y2="316.5"/><line x1="329.0" y1="297.2" x2="335.0" y2="309.4"/><line x1="327.9" y1="297.8" x2="335.4" y2="313.2"/><line x1="327.7" y1="297.9" x2="334.7" y2="312.1"/></g>
<g fill="#50d050"><circle cx="346.2" cy="289.6" r="0.8"/><circle cx="350.3" cy="299.4" r="0.9"/><circle cx="349.1" cy="296.5" r="0.7"/><circle cx="350.3" cy="302.8" r="0.7"/><circle cx="348.9" cy="290.9" r="1.0"/><circle cx="348.9" cy="305.7" r="0.9"/><circle cx="362.9" cy="290.0" r="1.1"/><circle cx="362.8" cy="301.6" r="1.1"/><circle cx="361.8" cy="294.5" r="1.1"/><circle cx="361.6" cy="292.6" r="1.1"/><circle cx="362.8" cy="306.0" r="1.1"/><circle cx="360.3" cy="294.3" r="1.0"/><circle cx="362.2" cy="293.0" r="0.9"/><circle cx="359.8" cy="293.1" r="1.1"/><circle cx="362.3" cy="303.5" r="0.9"/><circle cx="362.1" cy="291.5" r="0.7"/><circle cx="362.5" cy="296.7" r="0.7"/><circle cx="370.9" cy="297.6" r="1.2"/><circle cx="369.0" cy="291.9" r="1.1"/><circle cx="370.2" cy="295.6" r="0.8"/><circle cx="370.0" cy="292.4" r="1.2"/><circle cx="366.9" cy="298.4" r="0.9"/><circle cx="367.9" cy="295.0" r="1.2"/><circle cx="365.9" cy="297.8" r="1.1"/><circle cx="367.6" cy="291.7" r="0.7"/><circle cx="369.6" cy="289.8" r="0.8"/><circle cx="367.9" cy="295.9" r="0.9"/><circle cx="369.2" cy="293.9" r="1.2"/><circle cx="368.1" cy="301.8" r="0.9"/><circle cx="368.3" cy="301.8" r="0.9"/><circle cx="380.2" cy="290.7" r="0.8"/><circle cx="376.8" cy="299.4" r="1.0"/><circle cx="380.7" cy="290.8" r="0.8"/><circle cx="376.2" cy="306.1" r="0.7"/><circle cx="379.4" cy="302.0" r="1.0"/><circle cx="377.4" cy="294.8" r="0.8"/><circle cx="378.2" cy="292.1" r="1.1"/><circle cx="378.5" cy="305.8" r="0.8"/><circle cx="375.6" cy="300.5" r="1.1"/><circle cx="372.6" cy="306.1" r="0.9"/><circle cx="376.4" cy="295.1" r="0.8"/><circle cx="375.3" cy="295.2" r="1.2"/><circle cx="373.4" cy="299.6" r="1.0"/><circle cx="374.4" cy="295.7" r="1.1"/><circle cx="374.5" cy="296.1" r="0.9"/><circle cx="373.0" cy="309.8" r="0.7"/><circle cx="375.9" cy="288.9" r="1.0"/><circle cx="373.3" cy="305.0" r="0.9"/><circle cx="372.1" cy="308.7" r="0.8"/><circle cx="374.6" cy="295.2" r="0.7"/><circle cx="372.6" cy="297.5" r="0.7"/><circle cx="372.2" cy="303.3" r="0.9"/><circle cx="374.1" cy="289.3" r="0.7"/><circle cx="371.1" cy="306.9" r="1.1"/><circle cx="374.4" cy="295.6" r="1.0"/><circle cx="382.0" cy="291.9" r="1.0"/><circle cx="383.9" cy="293.8" r="1.0"/><circle cx="380.9" cy="301.5" r="0.9"/><circle cx="379.9" cy="307.4" r="1.2"/><circle cx="379.5" cy="306.7" r="1.0"/><circle cx="378.8" cy="306.0" r="0.8"/><circle cx="383.5" cy="295.1" r="0.7"/><circle cx="382.3" cy="290.2" r="1.0"/><circle cx="379.3" cy="300.7" r="0.8"/><circle cx="379.5" cy="305.7" r="0.9"/><circle cx="382.6" cy="292.4" r="1.0"/><circle cx="378.6" cy="305.0" r="1.1"/><circle cx="379.3" cy="311.1" r="0.9"/><circle cx="378.0" cy="310.5" r="1.2"/><circle cx="380.8" cy="304.4" r="0.9"/><circle cx="383.2" cy="297.8" r="0.9"/><circle cx="380.2" cy="297.0" r="1.2"/><circle cx="380.6" cy="304.9" r="1.1"/><circle cx="382.4" cy="305.4" r="0.8"/><circle cx="377.5" cy="318.6" r="1.0"/><circle cx="381.8" cy="302.4" r="0.7"/><circle cx="383.0" cy="293.8" r="0.9"/><circle cx="384.1" cy="292.3" r="1.0"/><circle cx="377.6" cy="318.8" r="0.7"/><circle cx="383.4" cy="296.2" r="0.9"/><circle cx="379.1" cy="312.3" r="0.9"/><circle cx="379.3" cy="308.7" r="1.0"/><circle cx="382.7" cy="305.8" r="0.9"/><circle cx="383.3" cy="292.0" r="0.9"/><circle cx="380.2" cy="303.1" r="0.9"/><circle cx="389.6" cy="299.1" r="1.1"/><circle cx="391.7" cy="297.3" r="1.1"/><circle cx="390.5" cy="298.0" r="1.1"/><circle cx="389.7" cy="299.2" r="1.0"/><circle cx="390.2" cy="299.8" r="1.0"/><circle cx="387.9" cy="307.6" r="0.7"/><circle cx="389.3" cy="301.0" r="0.8"/><circle cx="393.4" cy="295.6" r="1.2"/><circle cx="389.2" cy="303.9" r="1.2"/><circle cx="390.7" cy="300.0" r="0.8"/><circle cx="390.8" cy="300.8" r="0.9"/><circle cx="392.5" cy="296.5" r="1.0"/><circle cx="388.9" cy="298.8" r="0.8"/><circle cx="390.4" cy="298.9" r="1.1"/><circle cx="388.6" cy="300.1" r="0.9"/><circle cx="403.4" cy="304.2" r="1.1"/><circle cx="403.9" cy="302.9" r="0.7"/><circle cx="403.9" cy="301.4" r="1.2"/><circle cx="403.5" cy="305.1" r="1.2"/><circle cx="400.8" cy="302.7" r="1.1"/><circle cx="401.6" cy="302.2" r="1.1"/><circle cx="399.7" cy="304.8" r="1.1"/><circle cx="396.2" cy="306.7" r="0.9"/><circle cx="423.3" cy="331.6" r="0.8"/><circle cx="430.6" cy="325.1" r="0.7"/><circle cx="429.0" cy="324.6" r="0.7"/><circle cx="422.5" cy="328.7" r="1.0"/><circle cx="426.3" cy="326.7" r="1.1"/><circle cx="421.6" cy="330.5" r="1.1"/><circle cx="419.0" cy="331.2" r="1.1"/><circle cx="428.4" cy="324.0" r="0.9"/><circle cx="418.6" cy="332.6" r="1.0"/><circle cx="426.2" cy="328.3" r="0.9"/><circle cx="427.0" cy="327.5" r="1.1"/><circle cx="425.1" cy="330.3" r="0.9"/><circle cx="424.5" cy="329.6" r="1.1"/><circle cx="421.2" cy="332.3" r="0.9"/><circle cx="428.6" cy="325.1" r="0.8"/><circle cx="425.0" cy="330.4" r="1.2"/><circle cx="431.1" cy="344.4" r="0.9"/><circle cx="436.2" cy="345.0" r="0.8"/><circle cx="432.9" cy="346.3" r="0.9"/><circle cx="435.9" cy="342.7" r="1.2"/><circle cx="437.2" cy="343.4" r="1.0"/><circle cx="431.5" cy="346.9" r="0.8"/><circle cx="435.2" cy="345.2" r="0.9"/><circle cx="418.6" cy="346.9" r="0.8"/><circle cx="427.4" cy="344.2" r="1.0"/><circle cx="426.7" cy="343.7" r="0.8"/><circle cx="431.1" cy="342.3" r="1.1"/><circle cx="422.4" cy="346.1" r="0.8"/><circle cx="427.0" cy="344.7" r="0.8"/><circle cx="428.0" cy="343.6" r="0.9"/><circle cx="428.8" cy="341.6" r="1.1"/><circle cx="426.9" cy="343.0" r="1.1"/><circle cx="427.8" cy="344.6" r="1.1"/><circle cx="433.4" cy="343.4" r="1.2"/><circle cx="434.5" cy="342.1" r="1.2"/><circle cx="427.2" cy="344.6" r="0.8"/><circle cx="429.3" cy="345.0" r="0.9"/><circle cx="436.2" cy="342.6" r="0.8"/><circle cx="425.8" cy="347.0" r="0.8"/><circle cx="440.7" cy="353.4" r="0.7"/><circle cx="440.2" cy="354.0" r="0.7"/><circle cx="436.0" cy="354.2" r="1.1"/><circle cx="437.2" cy="355.0" r="1.0"/><circle cx="439.8" cy="353.1" r="0.8"/><circle cx="435.3" cy="353.7" r="1.0"/><circle cx="431.7" cy="356.5" r="0.9"/><circle cx="436.3" cy="354.7" r="0.8"/><circle cx="432.9" cy="351.0" r="1.0"/><circle cx="433.5" cy="349.7" r="0.7"/><circle cx="434.8" cy="349.1" r="0.8"/><circle cx="431.9" cy="352.1" r="1.1"/><circle cx="437.5" cy="361.6" r="0.7"/><circle cx="437.6" cy="360.3" r="1.2"/><circle cx="436.2" cy="362.1" r="1.0"/><circle cx="438.4" cy="361.9" r="0.9"/><circle cx="444.1" cy="360.4" r="1.2"/><circle cx="436.8" cy="374.1" r="0.8"/><circle cx="437.3" cy="373.7" r="1.1"/><circle cx="437.7" cy="372.5" r="0.9"/><circle cx="434.1" cy="375.4" r="0.9"/><circle cx="442.8" cy="377.0" r="1.0"/><circle cx="433.4" cy="375.2" r="1.2"/><circle cx="436.1" cy="374.7" r="0.7"/><circle cx="424.8" cy="378.3" r="1.1"/><circle cx="428.3" cy="378.6" r="1.0"/><circle cx="432.9" cy="378.8" r="0.7"/><circle cx="438.2" cy="381.9" r="1.0"/><circle cx="435.5" cy="380.5" r="1.2"/><circle cx="441.5" cy="381.2" r="1.0"/><circle cx="436.9" cy="381.5" r="1.0"/><circle cx="434.6" cy="394.6" r="0.8"/><circle cx="424.9" cy="391.0" r="1.1"/><circle cx="421.8" cy="388.3" r="0.7"/><circle cx="437.2" cy="396.0" r="0.9"/><circle cx="421.6" cy="389.9" r="0.8"/><circle cx="437.9" cy="395.0" r="1.1"/><circle cx="429.0" cy="393.2" r="1.2"/><circle cx="426.7" cy="389.6" r="0.7"/><circle cx="425.3" cy="411.6" r="0.9"/><circle cx="425.7" cy="412.9" r="1.2"/><circle cx="424.8" cy="411.2" r="1.1"/><circle cx="426.7" cy="411.7" r="1.0"/><circle cx="426.2" cy="410.1" r="0.9"/><circle cx="427.3" cy="410.8" r="0.8"/><circle cx="422.4" cy="408.5" r="1.1"/><circle cx="426.2" cy="410.7" r="1.0"/><circle cx="430.4" cy="409.3" r="0.9"/><circle cx="407.2" cy="396.3" r="0.8"/><circle cx="425.5" cy="407.8" r="1.0"/><circle cx="428.9" cy="408.7" r="0.9"/><circle cx="414.9" cy="402.1" r="1.1"/><circle cx="413.6" cy="399.9" r="1.0"/><circle cx="409.7" cy="395.6" r="1.1"/><circle cx="410.5" cy="397.7" r="1.1"/><circle cx="404.6" cy="392.6" r="1.0"/><circle cx="423.5" cy="407.8" r="0.8"/><circle cx="409.5" cy="398.6" r="0.7"/><circle cx="405.6" cy="393.0" r="0.8"/><circle cx="427.8" cy="411.9" r="0.9"/><circle cx="407.7" cy="400.3" r="0.9"/><circle cx="408.6" cy="400.3" r="0.8"/><circle cx="426.4" cy="410.7" r="0.8"/><circle cx="415.8" cy="404.3" r="1.2"/><circle cx="411.4" cy="401.1" r="0.9"/><circle cx="405.1" cy="397.7" r="0.8"/><circle cx="424.6" cy="410.4" r="0.8"/><circle cx="420.0" cy="406.7" r="0.9"/><circle cx="417.8" cy="406.8" r="1.2"/><circle cx="422.5" cy="409.1" r="1.0"/><circle cx="418.8" cy="408.5" r="0.9"/><circle cx="414.0" cy="421.5" r="0.7"/><circle cx="412.4" cy="420.0" r="0.9"/><circle cx="413.8" cy="424.0" r="0.7"/><circle cx="413.9" cy="422.7" r="1.1"/><circle cx="407.8" cy="413.2" r="0.8"/><circle cx="409.4" cy="415.0" r="1.0"/><circle cx="411.3" cy="418.5" r="0.8"/><circle cx="400.2" cy="425.6" r="1.0"/><circle cx="403.1" cy="427.5" r="0.7"/><circle cx="407.0" cy="431.1" r="0.8"/><circle cx="400.7" cy="425.0" r="0.8"/><circle cx="404.3" cy="426.8" r="0.7"/><circle cx="406.9" cy="432.0" r="1.0"/><circle cx="401.5" cy="419.3" r="1.2"/><circle cx="403.3" cy="423.7" r="0.8"/><circle cx="405.4" cy="425.5" r="1.1"/><circle cx="398.5" cy="419.5" r="0.9"/><circle cx="403.7" cy="423.9" r="1.0"/><circle cx="408.7" cy="432.2" r="1.1"/><circle cx="404.7" cy="426.9" r="1.0"/><circle cx="405.6" cy="434.0" r="1.0"/><circle cx="404.9" cy="433.4" r="0.9"/><circle cx="401.2" cy="429.0" r="0.8"/><circle cx="402.3" cy="430.9" r="0.7"/><circle cx="398.2" cy="423.0" r="0.9"/><circle cx="403.0" cy="433.2" r="0.9"/><circle cx="400.3" cy="428.0" r="1.2"/><circle cx="389.0" cy="430.5" r="1.1"/><circle cx="393.2" cy="440.9" r="1.2"/><circle cx="383.9" cy="417.6" r="1.1"/><circle cx="392.1" cy="433.4" r="0.8"/><circle cx="391.3" cy="429.9" r="0.9"/><circle cx="392.8" cy="439.3" r="1.2"/><circle cx="392.4" cy="436.3" r="0.8"/><circle cx="390.1" cy="433.4" r="0.9"/><circle cx="389.1" cy="427.0" r="1.1"/><circle cx="394.9" cy="437.4" r="1.0"/><circle cx="388.2" cy="425.1" r="0.8"/><circle cx="390.3" cy="428.3" r="1.1"/><circle cx="387.3" cy="420.5" r="0.9"/><circle cx="393.8" cy="434.9" r="0.8"/><circle cx="394.5" cy="440.5" r="0.8"/><circle cx="389.5" cy="424.4" r="1.0"/><circle cx="388.1" cy="427.4" r="0.8"/><circle cx="394.0" cy="440.6" r="0.7"/><circle cx="393.4" cy="434.4" r="1.0"/><circle cx="389.0" cy="425.4" r="1.2"/><circle cx="391.1" cy="433.7" r="1.2"/><circle cx="390.8" cy="430.8" r="1.0"/><circle cx="394.9" cy="438.2" r="0.9"/><circle cx="393.6" cy="439.6" r="0.9"/><circle cx="393.5" cy="433.7" r="0.8"/><circle cx="392.5" cy="435.3" r="1.1"/><circle cx="392.9" cy="434.1" r="1.0"/><circle cx="391.9" cy="436.4" r="0.9"/><circle cx="384.1" cy="438.5" r="0.8"/><circle cx="383.8" cy="442.6" r="1.0"/><circle cx="383.5" cy="434.5" r="1.2"/><circle cx="381.0" cy="433.5" r="0.7"/><circle cx="383.0" cy="438.3" r="1.0"/><circle cx="380.9" cy="436.7" r="1.2"/><circle cx="381.9" cy="432.5" r="1.1"/><circle cx="383.1" cy="440.2" r="1.1"/><circle cx="382.3" cy="433.9" r="0.8"/><circle cx="375.0" cy="437.2" r="1.0"/><circle cx="373.1" cy="433.6" r="1.0"/><circle cx="375.2" cy="443.8" r="0.8"/><circle cx="374.2" cy="435.8" r="1.1"/><circle cx="373.1" cy="435.1" r="0.9"/><circle cx="375.4" cy="435.9" r="0.7"/><circle cx="375.7" cy="433.4" r="0.8"/><circle cx="376.6" cy="441.2" r="1.0"/><circle cx="375.7" cy="446.0" r="0.9"/><circle cx="375.9" cy="437.2" r="0.8"/><circle cx="361.4" cy="422.9" r="0.8"/><circle cx="360.9" cy="435.2" r="1.1"/><circle cx="362.1" cy="430.2" r="0.8"/><circle cx="363.3" cy="423.7" r="1.0"/><circle cx="361.8" cy="423.7" r="0.8"/><circle cx="362.9" cy="438.9" r="0.8"/><circle cx="361.9" cy="436.2" r="1.2"/><circle cx="361.4" cy="429.2" r="1.2"/><circle cx="361.1" cy="434.8" r="1.0"/><circle cx="354.7" cy="442.3" r="0.8"/><circle cx="351.6" cy="442.1" r="1.1"/><circle cx="354.0" cy="444.5" r="0.9"/><circle cx="353.0" cy="439.2" r="1.1"/><circle cx="350.3" cy="440.6" r="1.2"/><circle cx="352.4" cy="436.5" r="1.1"/><circle cx="351.7" cy="436.8" r="0.7"/><circle cx="351.1" cy="440.1" r="1.2"/><circle cx="353.2" cy="436.5" r="1.1"/><circle cx="353.0" cy="432.0" r="0.8"/><circle cx="352.3" cy="441.5" r="0.9"/><circle cx="352.3" cy="428.6" r="0.9"/><circle cx="353.1" cy="438.1" r="0.8"/><circle cx="352.7" cy="434.9" r="0.8"/><circle cx="350.3" cy="441.3" r="1.0"/><circle cx="344.2" cy="426.2" r="0.9"/><circle cx="346.6" cy="425.8" r="0.9"/><circle cx="342.9" cy="432.7" r="0.9"/><circle cx="343.8" cy="435.6" r="1.1"/><circle cx="346.4" cy="427.9" r="0.9"/><circle cx="343.9" cy="431.1" r="1.1"/><circle cx="345.4" cy="434.8" r="1.0"/><circle cx="343.4" cy="441.9" r="1.1"/><circle cx="343.2" cy="439.7" r="1.2"/><circle cx="343.5" cy="441.8" r="1.0"/><circle cx="342.7" cy="438.6" r="0.9"/><circle cx="336.5" cy="433.2" r="1.0"/><circle cx="334.7" cy="436.3" r="0.8"/><circle cx="338.7" cy="428.3" r="1.0"/><circle cx="335.2" cy="436.0" r="0.8"/><circle cx="337.6" cy="432.7" r="0.9"/><circle cx="335.0" cy="436.6" r="0.8"/><circle cx="321.1" cy="432.7" r="1.1"/><circle cx="321.3" cy="429.7" r="0.8"/><circle cx="321.1" cy="431.5" r="0.7"/><circle cx="317.8" cy="420.5" r="1.2"/><circle cx="318.9" cy="417.9" r="0.8"/><circle cx="318.6" cy="417.0" r="1.1"/><circle cx="313.9" cy="423.4" r="0.9"/><circle cx="320.4" cy="417.3" r="0.7"/><circle cx="320.2" cy="414.6" r="0.8"/><circle cx="320.8" cy="415.9" r="0.9"/><circle cx="316.6" cy="420.7" r="0.8"/><circle cx="313.6" cy="422.8" r="0.9"/><circle cx="315.7" cy="419.9" r="1.1"/><circle cx="311.5" cy="424.2" r="1.2"/><circle cx="318.5" cy="418.2" r="1.1"/><circle cx="313.1" cy="424.7" r="0.9"/><circle cx="318.8" cy="413.4" r="1.0"/><circle cx="318.9" cy="414.6" r="1.1"/><circle cx="322.7" cy="408.9" r="0.9"/><circle cx="317.0" cy="416.2" r="0.7"/><circle cx="313.7" cy="421.0" r="1.0"/><circle cx="312.7" cy="424.4" r="0.8"/><circle cx="319.7" cy="411.6" r="1.2"/><circle cx="324.3" cy="410.2" r="0.9"/><circle cx="315.1" cy="408.6" r="0.8"/><circle cx="309.1" cy="414.3" r="0.9"/><circle cx="309.2" cy="412.3" r="1.1"/><circle cx="314.2" cy="409.0" r="0.9"/><circle cx="310.3" cy="410.6" r="0.8"/><circle cx="306.3" cy="415.9" r="1.1"/><circle cx="303.6" cy="401.1" r="1.1"/><circle cx="305.1" cy="400.3" r="0.9"/><circle cx="299.2" cy="403.7" r="0.9"/><circle cx="302.4" cy="401.2" r="0.9"/><circle cx="301.8" cy="400.4" r="0.9"/><circle cx="306.3" cy="400.7" r="1.1"/><circle cx="307.6" cy="398.1" r="1.1"/><circle cx="297.0" cy="406.2" r="1.0"/><circle cx="300.5" cy="403.4" r="1.1"/><circle cx="303.2" cy="401.4" r="0.7"/><circle cx="289.8" cy="387.0" r="0.8"/><circle cx="296.4" cy="385.0" r="1.1"/><circle cx="295.4" cy="383.9" r="1.1"/><circle cx="301.2" cy="383.8" r="1.0"/><circle cx="299.8" cy="383.5" r="1.2"/><circle cx="288.8" cy="385.9" r="1.0"/><circle cx="297.6" cy="389.1" r="1.1"/><circle cx="300.5" cy="388.7" r="0.9"/><circle cx="301.3" cy="385.2" r="0.9"/><circle cx="297.3" cy="388.3" r="1.0"/><circle cx="300.6" cy="387.4" r="1.1"/><circle cx="287.4" cy="379.4" r="0.9"/><circle cx="299.5" cy="378.0" r="1.1"/><circle cx="303.4" cy="378.8" r="0.9"/><circle cx="297.6" cy="380.0" r="1.0"/><circle cx="298.4" cy="379.1" r="1.1"/><circle cx="293.0" cy="379.5" r="0.8"/><circle cx="302.3" cy="375.9" r="0.9"/><circle cx="292.5" cy="375.0" r="0.8"/><circle cx="289.0" cy="377.2" r="1.1"/><circle cx="300.4" cy="375.5" r="1.2"/><circle cx="299.3" cy="374.7" r="0.9"/><circle cx="291.8" cy="376.9" r="1.1"/><circle cx="304.0" cy="373.7" r="0.9"/><circle cx="296.0" cy="375.1" r="0.8"/><circle cx="295.2" cy="376.0" r="1.0"/><circle cx="296.4" cy="376.6" r="1.2"/><circle cx="303.5" cy="376.2" r="1.1"/><circle cx="300.4" cy="376.2" r="1.2"/><circle cx="294.3" cy="376.8" r="0.8"/><circle cx="288.5" cy="378.1" r="1.0"/><circle cx="306.6" cy="371.9" r="1.1"/><circle cx="287.3" cy="374.5" r="1.1"/><circle cx="302.9" cy="372.0" r="1.2"/><circle cx="291.7" cy="373.6" r="1.2"/><circle cx="296.2" cy="374.4" r="1.0"/><circle cx="289.0" cy="374.3" r="1.0"/><circle cx="301.4" cy="374.4" r="0.8"/><circle cx="287.7" cy="373.8" r="1.1"/><circle cx="294.2" cy="350.9" r="0.7"/><circle cx="296.8" cy="350.9" r="1.0"/><circle cx="297.6" cy="350.5" r="1.1"/><circle cx="288.4" cy="348.7" r="0.7"/><circle cx="295.9" cy="351.3" r="1.1"/><circle cx="300.3" cy="350.4" r="1.1"/><circle cx="294.6" cy="351.5" r="0.8"/><circle cx="299.9" cy="353.3" r="0.9"/><circle cx="304.8" cy="350.2" r="1.2"/><circle cx="294.3" cy="347.2" r="0.9"/><circle cx="292.6" cy="346.4" r="0.8"/><circle cx="304.6" cy="349.4" r="1.0"/><circle cx="303.7" cy="348.0" r="0.8"/><circle cx="291.3" cy="345.1" r="1.0"/><circle cx="297.0" cy="346.9" r="1.1"/><circle cx="296.4" cy="347.2" r="1.2"/><circle cx="310.7" cy="341.5" r="1.1"/><circle cx="296.8" cy="331.3" r="1.2"/><circle cx="300.1" cy="332.2" r="0.8"/><circle cx="309.6" cy="339.5" r="0.8"/><circle cx="305.8" cy="336.2" r="0.7"/><circle cx="295.3" cy="332.9" r="0.9"/><circle cx="297.5" cy="331.8" r="0.7"/><circle cx="300.7" cy="333.8" r="1.1"/><circle cx="299.2" cy="332.4" r="1.0"/><circle cx="300.3" cy="330.9" r="1.0"/><circle cx="298.1" cy="328.9" r="1.0"/><circle cx="309.9" cy="336.0" r="1.1"/><circle cx="297.3" cy="328.3" r="0.7"/><circle cx="296.0" cy="329.0" r="1.2"/><circle cx="306.9" cy="334.0" r="0.9"/><circle cx="309.1" cy="335.2" r="0.8"/><circle cx="307.9" cy="334.0" r="0.9"/><circle cx="308.0" cy="316.7" r="1.1"/><circle cx="310.3" cy="319.7" r="0.7"/><circle cx="314.0" cy="322.5" r="1.1"/><circle cx="312.2" cy="319.9" r="0.7"/><circle cx="321.6" cy="314.3" r="0.9"/><circle cx="319.1" cy="309.6" r="0.8"/><circle cx="321.6" cy="313.9" r="1.0"/><circle cx="324.0" cy="316.3" r="1.0"/><circle cx="320.8" cy="312.9" r="0.7"/><circle cx="320.1" cy="311.9" r="1.2"/><circle cx="317.1" cy="306.4" r="1.1"/><circle cx="322.2" cy="314.3" r="0.7"/><circle cx="321.6" cy="312.0" r="1.0"/><circle cx="325.8" cy="317.0" r="0.9"/><circle cx="315.8" cy="305.7" r="1.0"/><circle cx="328.7" cy="298.3" r="0.9"/><circle cx="332.6" cy="304.8" r="0.9"/><circle cx="333.4" cy="306.2" r="1.2"/><circle cx="333.5" cy="304.8" r="1.0"/><circle cx="334.7" cy="305.3" r="0.8"/><circle cx="334.0" cy="309.1" r="0.9"/><circle cx="332.2" cy="305.0" r="1.2"/><circle cx="332.8" cy="309.0" r="0.8"/><circle cx="333.0" cy="308.6" r="1.0"/><circle cx="332.0" cy="304.4" r="1.1"/><circle cx="334.0" cy="307.9" r="1.0"/><circle cx="327.7" cy="301.4" r="0.8"/><circle cx="332.7" cy="310.8" r="1.1"/><circle cx="329.3" cy="302.4" r="0.8"/><circle cx="328.3" cy="299.9" r="0.7"/><circle cx="329.3" cy="301.6" r="0.7"/><circle cx="332.7" cy="311.2" r="0.8"/><circle cx="330.0" cy="303.4" r="1.1"/></g>
<g stroke="#000" stroke-opacity="0.5" stroke-width="1"><line x1="295" y1="469" x2="295" y2="467"/><line x1="263" y1="296" x2="265" y2="296"/><line x1="468" y1="296" x2="466" y2="296"/><line x1="331" y1="469" x2="331" y2="467"/><line x1="263" y1="332" x2="265" y2="332"/><line x1="468" y1="332" x2="466" y2="332"/><line x1="367" y1="469" x2="367" y2="467"/><line x1="263" y1="368" x2="265" y2="368"/><line x1="468" y1="368" x2="466" y2="368"/><line x1="403" y1="469" x2="403" y2="467"/><line x1="263" y1="404" x2="265" y2="404"/><line x1="468" y1="404" x2="466" y2="404"/><line x1="439" y1="469" x2="439" y2="467"/><line x1="263" y1="440" x2="265" y2="440"/><line x1="468" y1="440" x2="466" y2="440"/></g>
<rect x="263.5" y="265.5" width="204" height="203" fill="none" stroke="#7a8a7a" stroke-opacity="0.6" stroke-width="1"/>
</g>
<rect x="475.5" y="264.5" width="15.5" height="204" fill="url(#cm)" stroke="#777" stroke-width="1"/>
<line x1="489.0" y1="298.03" x2="491.0" y2="298.03" stroke="#444" stroke-width="0.8"/>
<text x="494.95" y="301.93" font-size="11.5" fill="#222">30</text>
<line x1="489.0" y1="338.07" x2="491.0" y2="338.07" stroke="#444" stroke-width="0.8"/>
<text x="494.99" y="341.97" font-size="11.5" fill="#222">20</text>
<line x1="489.0" y1="378.11" x2="491.0" y2="378.11" stroke="#444" stroke-width="0.8"/>
<text x="494.49" y="382.01" font-size="11.5" fill="#222">10</text>
<line x1="489.0" y1="418.15" x2="491.0" y2="418.15" stroke="#444" stroke-width="0.8"/>
<text x="495.06" y="422.05" font-size="11.5" fill="#222">0</text>
<line x1="489.0" y1="458.19" x2="491.0" y2="458.19" stroke="#444" stroke-width="0.8"/>
<text x="495.07" y="462.09" font-size="11.5" fill="#222">-10</text>
<text x="3.80" y="20.80" font-size="20.5" fill="#fff">(a)</text>
<text x="56.52" y="20.80" font-size="20.5" font-style="italic" fill="#fff">μ</text>
<text x="66.72" y="25.80" font-size="15" font-style="italic" fill="#fff">0</text>
<text x="75.12" y="20.80" font-size="20.5" font-style="italic" fill="#fff">H</text>
<text x="89.15" y="25.80" font-size="15" font-style="italic" fill="#fff">a</text>
<text x="95.58" y="20.80" font-size="20.5" fill="#fff">=25 T/s</text>
<circle cx="82.8" cy="4.3" r="1.15" fill="#fff"/>
<text x="266.20" y="21.10" font-size="20.5" fill="#fff">(b)</text>
<text x="320.52" y="21.10" font-size="20.5" font-style="italic" fill="#fff">μ</text>
<text x="330.72" y="26.10" font-size="15" font-style="italic" fill="#fff">0</text>
<text x="339.12" y="21.10" font-size="20.5" font-style="italic" fill="#fff">H</text>
<text x="353.15" y="26.10" font-size="15" font-style="italic" fill="#fff">a</text>
<text x="359.58" y="21.10" font-size="20.5" fill="#fff">=50 T/s</text>
<circle cx="346.8" cy="4.6" r="1.15" fill="#fff"/>
<text x="5.35" y="261.40" font-size="20.5" fill="#fff">(c)</text>
<text x="58.62" y="261.40" font-size="20.5" font-style="italic" fill="#fff">μ</text>
<text x="68.82" y="266.40" font-size="15" font-style="italic" fill="#fff">0</text>
<text x="77.22" y="261.40" font-size="20.5" font-style="italic" fill="#fff">H</text>
<text x="91.25" y="266.40" font-size="15" font-style="italic" fill="#fff">a</text>
<text x="97.68" y="261.40" font-size="20.5" fill="#fff">=100 T/s</text>
<circle cx="84.9" cy="244.9" r="1.15" fill="#fff"/>
<text x="266.50" y="261.40" font-size="20.5" fill="#fff">(d)</text>
<text x="320.52" y="261.40" font-size="20.5" font-style="italic" fill="#fff">μ</text>
<text x="330.72" y="266.40" font-size="15" font-style="italic" fill="#fff">0</text>
<text x="339.12" y="261.40" font-size="20.5" font-style="italic" fill="#fff">H</text>
<text x="353.15" y="266.40" font-size="15" font-style="italic" fill="#fff">a</text>
<text x="359.58" y="261.40" font-size="20.5" fill="#fff">=200 T/s</text>
<circle cx="346.8" cy="244.9" r="1.15" fill="#fff"/>
<text x="4.52" y="223.80" font-size="17.5" font-style="italic" fill="#fff">μ</text>
<text x="12.40" y="226.90" font-size="13" font-style="italic" fill="#fff">0</text>
<text x="19.59" y="223.80" font-size="17.5" font-style="italic" fill="#fff">H</text>
<text x="31.91" y="226.90" font-size="13" font-style="italic" fill="#fff">a</text>
<text x="38.43" y="223.80" font-size="17.5" fill="#fff">=19.5 mT</text>
<text x="266.82" y="222.80" font-size="17.5" font-style="italic" fill="#fff">μ</text>
<text x="274.70" y="225.90" font-size="13" font-style="italic" fill="#fff">0</text>
<text x="281.89" y="222.80" font-size="17.5" font-style="italic" fill="#fff">H</text>
<text x="294.21" y="225.90" font-size="13" font-style="italic" fill="#fff">a</text>
<text x="300.73" y="222.80" font-size="17.5" fill="#fff">=17.9 mT</text>
<text x="4.92" y="463.50" font-size="17.5" font-style="italic" fill="#fff">μ</text>
<text x="12.80" y="466.60" font-size="13" font-style="italic" fill="#fff">0</text>
<text x="19.99" y="463.50" font-size="17.5" font-style="italic" fill="#fff">H</text>
<text x="32.31" y="466.60" font-size="13" font-style="italic" fill="#fff">a</text>
<text x="38.83" y="463.50" font-size="17.5" fill="#fff">=9.4 mT</text>
<text x="265.92" y="463.30" font-size="17.5" font-style="italic" fill="#fff">μ</text>
<text x="273.80" y="466.40" font-size="13" font-style="italic" fill="#fff">0</text>
<text x="280.99" y="463.30" font-size="17.5" font-style="italic" fill="#fff">H</text>
<text x="293.31" y="466.40" font-size="13" font-style="italic" fill="#fff">a</text>
<text x="299.83" y="463.30" font-size="17.5" fill="#fff">=6.5 mT</text>
<rect x="84.7" y="485.3" width="383.4" height="284.8" fill="none" stroke="#6e6e6e" stroke-width="1.25"/>
<line x1="172.05" y1="769.5" x2="172.05" y2="766.0" stroke="#777" stroke-width="1"/>
<line x1="172.05" y1="485" x2="172.05" y2="488.5" stroke="#777" stroke-width="1"/>
<line x1="85.0" y1="704.85" x2="88.5" y2="704.85" stroke="#777" stroke-width="1"/>
<line x1="468" y1="704.85" x2="464.5" y2="704.85" stroke="#777" stroke-width="1"/>
<line x1="259.10" y1="769.5" x2="259.10" y2="766.0" stroke="#777" stroke-width="1"/>
<line x1="259.10" y1="485" x2="259.10" y2="488.5" stroke="#777" stroke-width="1"/>
<line x1="85.0" y1="640.20" x2="88.5" y2="640.20" stroke="#777" stroke-width="1"/>
<line x1="468" y1="640.20" x2="464.5" y2="640.20" stroke="#777" stroke-width="1"/>
<line x1="346.15" y1="769.5" x2="346.15" y2="766.0" stroke="#777" stroke-width="1"/>
<line x1="346.15" y1="485" x2="346.15" y2="488.5" stroke="#777" stroke-width="1"/>
<line x1="85.0" y1="575.55" x2="88.5" y2="575.55" stroke="#777" stroke-width="1"/>
<line x1="468" y1="575.55" x2="464.5" y2="575.55" stroke="#777" stroke-width="1"/>
<line x1="433.20" y1="769.5" x2="433.20" y2="766.0" stroke="#777" stroke-width="1"/>
<line x1="433.20" y1="485" x2="433.20" y2="488.5" stroke="#777" stroke-width="1"/>
<line x1="85.0" y1="510.90" x2="88.5" y2="510.90" stroke="#777" stroke-width="1"/>
<line x1="468" y1="510.90" x2="464.5" y2="510.90" stroke="#777" stroke-width="1"/>
<text x="85.30" y="792.30" font-size="17.5" text-anchor="middle" fill="#111">0</text>
<text x="78.97" y="775.60" font-size="17.5" text-anchor="end" fill="#111">0</text>
<text x="172.35" y="792.30" font-size="17.5" text-anchor="middle" fill="#111">5</text>
<text x="78.98" y="710.95" font-size="17.5" text-anchor="end" fill="#111">5</text>
<text x="259.40" y="792.30" font-size="17.5" text-anchor="middle" fill="#111">10</text>
<text x="78.97" y="646.30" font-size="17.5" text-anchor="end" fill="#111">10</text>
<text x="346.45" y="792.30" font-size="17.5" text-anchor="middle" fill="#111">15</text>
<text x="78.98" y="581.65" font-size="17.5" text-anchor="end" fill="#111">15</text>
<text x="433.50" y="792.30" font-size="17.5" text-anchor="middle" fill="#111">20</text>
<text x="78.97" y="517.00" font-size="17.5" text-anchor="end" fill="#111">20</text>
<polyline points="85.0,769.5 420.14,520.60" fill="none" stroke="#000" stroke-width="2" stroke-dasharray="7 7.1"/>
<polyline points="85.00,769.50 119.82,768.21 169.96,764.85 206.87,762.00 247.44,758.77 276.51,756.83 296.01,754.76 320.03,752.69 346.15,749.59 372.26,745.45 395.94,740.02 424.50,720.75" fill="none" stroke="#ff00ff" stroke-width="2" stroke-linejoin="miter"/>
<polyline points="85.00,769.50 119.82,768.21 169.96,764.85 206.87,762.00 247.44,758.77 276.51,756.83 296.01,754.76 320.03,752.69 346.15,749.59 372.26,745.45 395.94,740.02 395.94,541.16 424.50,541.54" fill="none" stroke="#ffcc00" stroke-width="2" stroke-linejoin="miter"/>
<polyline points="85.00,769.50 119.82,768.21 169.96,764.85 206.87,762.00 247.44,758.77 247.44,647.57 302.62,644.85 302.62,611.88 362.34,608.26 362.34,565.59 411.09,563.01 411.09,535.21 424.50,534.82" fill="none" stroke="#0000ff" stroke-width="2" stroke-linejoin="miter"/>
<polyline points="85.00,769.50 119.82,767.95 169.96,763.94 189.46,762.26 189.46,759.54 196.77,759.54 196.77,719.07 215.57,718.04 237.86,715.45 237.86,712.61 246.04,711.96 246.04,707.57 250.92,707.57 250.92,680.54 276.51,678.34 297.40,675.37 297.40,643.17 302.62,642.79 330.48,637.61 330.48,635.03 358.34,632.05 358.34,598.18 380.97,596.24 401.86,593.01 401.86,569.09 424.15,566.50" fill="none" stroke="#ff0000" stroke-width="2" stroke-linejoin="miter"/>
<line x1="197.8" y1="692.3" x2="197.8" y2="707.4" stroke="#222" stroke-width="1.1"/>
<polygon points="193.60000000000002,704.8 202.0,704.8 197.8,713.4" fill="#000"/>
<line x1="248.0" y1="621.1" x2="248.0" y2="636.7" stroke="#222" stroke-width="1.1"/>
<polygon points="243.8,634.1 252.2,634.1 248.0,642.7" fill="#000"/>
<line x1="395.0" y1="509.2" x2="395.0" y2="524.3" stroke="#222" stroke-width="1.1"/>
<polygon points="390.8,521.6999999999999 399.2,521.6999999999999 395.0,530.3" fill="#000"/>
<text x="166.42" y="672.10" font-size="17.5" font-style="italic" fill="#000">μ</text>
<text x="174.72" y="674.80" font-size="12.5" fill="#000">0</text>
<text x="181.60" y="672.10" font-size="17.5" fill="#000">H</text>
<text x="194.04" y="674.80" font-size="12.5" fill="#000">mp</text>
<text x="231.42" y="611.70" font-size="17.5" font-style="italic" fill="#000">μ</text>
<text x="240.22" y="614.70" font-size="12.5" fill="#000">0</text>
<text x="246.50" y="611.70" font-size="17.5" fill="#000">H</text>
<text x="259.04" y="614.70" font-size="12.5" fill="#000">mp</text>
<text x="368.42" y="504.20" font-size="17.5" font-style="italic" fill="#000">μ</text>
<text x="377.22" y="507.10" font-size="12.5" fill="#000">0</text>
<text x="383.60" y="504.20" font-size="17.5" fill="#000">H</text>
<text x="396.04" y="507.10" font-size="12.5" fill="#000">mp</text>
<text x="427.32" y="510.00" font-size="17.5" font-style="italic" fill="#000">μ</text>
<text x="436.02" y="513.80" font-size="12.5" fill="#000">0</text>
<text x="442.30" y="510.00" font-size="17.5" fill="#000">H</text>
<text x="454.46" y="513.80" font-size="12.5" fill="#000">a</text>
<line x1="94.4" y1="504" x2="119.6" y2="504" stroke="#ff00ff" stroke-width="2"/>
<text x="124.12" y="507.00" font-size="17.5" font-style="italic" fill="#000">μ</text>
<text x="133.57" y="515.20" font-size="14" fill="#000">0</text>
<text x="141.00" y="507.00" font-size="17.5" fill="#000">H</text>
<text x="153.21" y="514.60" font-size="14" fill="#000">a</text>
<text x="159.43" y="507.00" font-size="17.5" fill="#000">=25 T/s</text>
<circle cx="146.8" cy="490.1" r="1.1" fill="#000"/>
<line x1="94.4" y1="530.5" x2="119.6" y2="530.5" stroke="#ffcc00" stroke-width="2"/>
<text x="124.12" y="533.50" font-size="17.5" font-style="italic" fill="#000">μ</text>
<text x="133.57" y="541.70" font-size="14" fill="#000">0</text>
<text x="141.00" y="533.50" font-size="17.5" fill="#000">H</text>
<text x="153.21" y="541.10" font-size="14" fill="#000">a</text>
<text x="159.43" y="533.50" font-size="17.5" fill="#000">=50 T/s</text>
<circle cx="146.8" cy="516.6" r="1.1" fill="#000"/>
<line x1="94.4" y1="557" x2="119.6" y2="557" stroke="#0000ff" stroke-width="2"/>
<text x="124.12" y="560.00" font-size="17.5" font-style="italic" fill="#000">μ</text>
<text x="133.57" y="568.20" font-size="14" fill="#000">0</text>
<text x="141.00" y="560.00" font-size="17.5" fill="#000">H</text>
<text x="153.21" y="567.60" font-size="14" fill="#000">a</text>
<text x="159.43" y="560.00" font-size="17.5" fill="#000">=100 T/s</text>
<circle cx="146.8" cy="543.1" r="1.1" fill="#000"/>
<line x1="94.4" y1="584.8" x2="119.6" y2="584.8" stroke="#ff0000" stroke-width="2"/>
<text x="124.12" y="587.80" font-size="17.5" font-style="italic" fill="#000">μ</text>
<text x="133.57" y="596.00" font-size="14" fill="#000">0</text>
<text x="141.00" y="587.80" font-size="17.5" fill="#000">H</text>
<text x="153.21" y="595.40" font-size="14" fill="#000">a</text>
<text x="159.43" y="587.80" font-size="17.5" fill="#000">=200 T/s</text>
<circle cx="146.8" cy="570.9" r="1.1" fill="#000"/>
<text x="4.51" y="506.00" font-size="18" fill="#000">(e)</text>
<g transform="translate(43.8,659.5) rotate(-90)"><text x="0" y="0" font-size="18.5" fill="#000">B</text><text x="13.0" y="9.6" font-size="14.8" font-style="italic" fill="#000">z</text><text x="25.0" y="0" font-size="18.8" fill="#000">(mT)</text></g>
<text x="234.62" y="817.40" font-size="17.5" font-style="italic" fill="#000">μ</text>
<text x="245.35" y="824.60" font-size="14.5" fill="#000">0</text>
<text x="252.90" y="817.40" font-size="17.5" fill="#000">H</text>
<text x="265.99" y="824.60" font-size="14.5" fill="#000">a</text>
<text x="278.93" y="817.40" font-size="17.5" fill="#000">(mT)</text>
</svg></div></body></html>
